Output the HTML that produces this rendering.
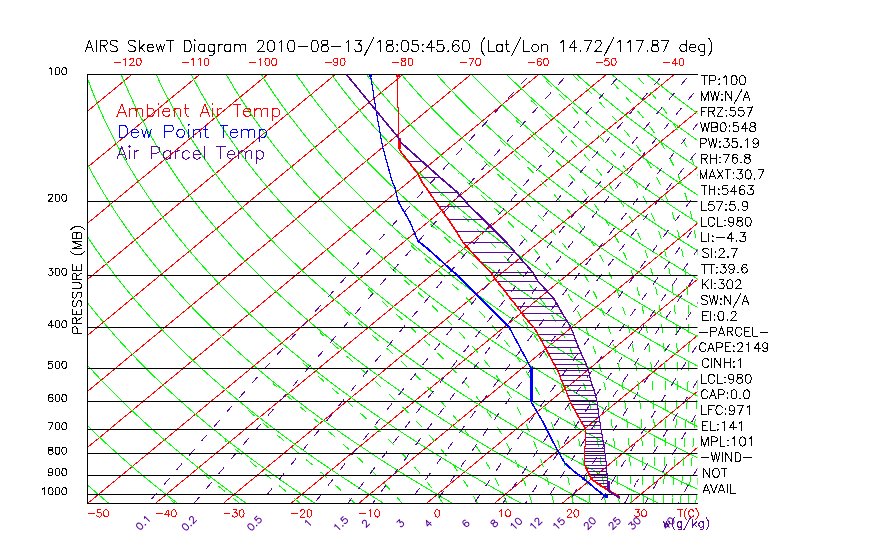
<!DOCTYPE html>
<html><head><meta charset="utf-8"><title>AIRS SkewT Diagram</title>
<style>
html,body{margin:0;padding:0;background:#fff;font-family:"Liberation Sans",sans-serif;}
svg{display:block}
.t{fill:none;stroke-linecap:round;stroke-linejoin:round}
.r{font-family:"Liberation Sans",sans-serif;fill:none;stroke:none}
</style></head><body>
<svg width="870" height="560" viewBox="0 0 870 560" fill="none" stroke-linecap="butt" stroke-linejoin="round">
<rect width="870" height="560" fill="#fff"/>
<defs><clipPath id="c"><rect x="87" y="74" width="610.5" height="429.5"/></clipPath></defs>
<g clip-path="url(#c)" shape-rendering="crispEdges">
<polyline points="-454.7,503.5 64.2,74.5" stroke="#ff0000" stroke-width="1"/>
<polyline points="-386.9,503.5 131.9,74.5" stroke="#ff0000" stroke-width="1"/>
<polyline points="-319.2,503.5 199.7,74.5" stroke="#ff0000" stroke-width="1"/>
<polyline points="-251.4,503.5 267.5,74.5" stroke="#ff0000" stroke-width="1"/>
<polyline points="-183.6,503.5 335.3,74.5" stroke="#ff0000" stroke-width="1"/>
<polyline points="-115.8,503.5 403,74.5" stroke="#ff0000" stroke-width="1"/>
<polyline points="-48.1,503.5 470.8,74.5" stroke="#ff0000" stroke-width="1"/>
<polyline points="19.7,503.5 538.6,74.5" stroke="#ff0000" stroke-width="1"/>
<polyline points="87.5,503.5 606.4,74.5" stroke="#ff0000" stroke-width="1"/>
<polyline points="155.3,503.5 674.2,74.5" stroke="#ff0000" stroke-width="1"/>
<polyline points="223.1,503.5 741.9,74.5" stroke="#ff0000" stroke-width="1"/>
<polyline points="290.8,503.5 809.7,74.5" stroke="#ff0000" stroke-width="1"/>
<polyline points="358.6,503.5 877.5,74.5" stroke="#ff0000" stroke-width="1"/>
<polyline points="426.4,503.5 945.3,74.5" stroke="#ff0000" stroke-width="1"/>
<polyline points="494.2,503.5 1013,74.5" stroke="#ff0000" stroke-width="1"/>
<polyline points="561.9,503.5 1080.8,74.5" stroke="#ff0000" stroke-width="1"/>
<polyline points="629.7,503.5 1148.6,74.5" stroke="#ff0000" stroke-width="1"/>
<polyline points="697.5,503.5 1216.4,74.5" stroke="#ff0000" stroke-width="1"/>
<polyline points="-124.1,74.5 -124.1,77.5 -124,80.5 -123.9,83.5 -123.8,86.5 -123.6,89.5 -123.5,92.5 -123.3,95.5 -123.1,98.5 -122.9,101.5 -122.7,104.5 -122.4,107.5 -122.2,110.5 -121.9,113.5 -121.6,116.5 -121.3,119.5 -120.9,122.5 -120.6,125.5 -120.2,128.5 -119.8,131.5 -119.4,134.5 -119,137.5 -118.5,140.5 -118.1,143.5 -117.6,146.5 -117.1,149.5 -116.6,152.5 -116,155.5 -115.4,158.5 -114.9,161.5 -114.2,164.5 -113.6,167.5 -113,170.5 -112.3,173.5 -111.6,176.5 -110.9,179.5 -110.2,182.5 -109.4,185.5 -108.7,188.5 -107.9,191.5 -107.1,194.5 -106.2,197.5 -105.4,200.5 -104.5,203.5 -103.6,206.5 -102.7,209.5 -101.8,212.5 -100.8,215.5 -99.8,218.5 -98.8,221.5 -97.8,224.5 -96.8,227.5 -95.7,230.5 -94.6,233.5 -93.5,236.5 -92.4,239.5 -91.2,242.5 -90,245.5 -88.8,248.5 -87.6,251.5 -86.3,254.5 -85.1,257.5 -83.8,260.5 -82.5,263.5 -81.1,266.5 -79.7,269.5 -78.4,272.5 -76.9,275.5 -75.5,278.5 -74.1,281.5 -72.6,284.5 -71.1,287.5 -69.5,290.5 -68,293.5 -66.4,296.5 -64.8,299.5 -63.2,302.5 -61.5,305.5 -59.8,308.5 -58.1,311.5 -56.4,314.5 -54.6,317.5 -52.8,320.5 -51,323.5 -49.2,326.5 -47.3,329.5 -45.5,332.5 -43.6,335.5 -41.6,338.5 -39.7,341.5 -37.7,344.5 -35.6,347.5 -33.6,350.5 -31.5,353.5 -29.4,356.5 -27.3,359.5 -25.2,362.5 -23,365.5 -20.8,368.5 -18.6,371.5 -16.3,374.5 -14,377.5 -11.7,380.5 -9.3,383.5 -7,386.5 -4.6,389.5 -2.1,392.5 0.3,395.5 2.8,398.5 5.3,401.5 7.9,404.5 10.4,407.5 13,410.5 15.7,413.5 18.3,416.5 21,419.5 23.7,422.5 26.5,425.5 29.3,428.5 32.1,431.5 34.9,434.5 37.8,437.5 40.7,440.5 43.6,443.5 46.6,446.5 49.6,449.5 52.6,452.5 55.7,455.5 58.8,458.5 61.9,461.5 65.1,464.5 68.2,467.5 71.5,470.5 74.7,473.5 78,476.5 81.3,479.5 84.7,482.5 88,485.5 91.5,488.5 94.9,491.5 98.4,494.5 101.9,497.5 105.4,500.5 109,503.5" stroke="#00ff00" stroke-width="1"/>
<polyline points="-89.1,74.5 -88.9,77.5 -88.6,80.5 -88.3,83.5 -88.1,86.5 -87.7,89.5 -87.4,92.5 -87.1,95.5 -86.7,98.5 -86.3,101.5 -86,104.5 -85.5,107.5 -85.1,110.5 -84.6,113.5 -84.2,116.5 -83.7,119.5 -83.2,122.5 -82.6,125.5 -82.1,128.5 -81.5,131.5 -80.9,134.5 -80.3,137.5 -79.7,140.5 -79,143.5 -78.3,146.5 -77.7,149.5 -76.9,152.5 -76.2,155.5 -75.5,158.5 -74.7,161.5 -73.9,164.5 -73.1,167.5 -72.2,170.5 -71.4,173.5 -70.5,176.5 -69.6,179.5 -68.7,182.5 -67.7,185.5 -66.8,188.5 -65.8,191.5 -64.8,194.5 -63.7,197.5 -62.7,200.5 -61.6,203.5 -60.5,206.5 -59.4,209.5 -58.2,212.5 -57.1,215.5 -55.9,218.5 -54.7,221.5 -53.5,224.5 -52.2,227.5 -50.9,230.5 -49.6,233.5 -48.3,236.5 -46.9,239.5 -45.6,242.5 -44.2,245.5 -42.8,248.5 -41.3,251.5 -39.8,254.5 -38.4,257.5 -36.8,260.5 -35.3,263.5 -33.7,266.5 -32.1,269.5 -30.5,272.5 -28.9,275.5 -27.2,278.5 -25.5,281.5 -23.8,284.5 -22.1,287.5 -20.3,290.5 -18.5,293.5 -16.7,296.5 -14.9,299.5 -13,302.5 -11.1,305.5 -9.2,308.5 -7.3,311.5 -5.3,314.5 -3.3,317.5 -1.3,320.5 0.8,323.5 2.9,326.5 5,329.5 7.1,332.5 9.2,335.5 11.4,338.5 13.6,341.5 15.9,344.5 18.2,347.5 20.5,350.5 22.8,353.5 25.1,356.5 27.5,359.5 29.9,362.5 32.4,365.5 34.8,368.5 37.3,371.5 39.8,374.5 42.4,377.5 45,380.5 47.6,383.5 50.2,386.5 52.9,389.5 55.6,392.5 58.3,395.5 61.1,398.5 63.9,401.5 66.7,404.5 69.6,407.5 72.4,410.5 75.3,413.5 78.3,416.5 81.3,419.5 84.3,422.5 87.3,425.5 90.4,428.5 93.5,431.5 96.6,434.5 99.8,437.5 103,440.5 106.2,443.5 109.5,446.5 112.8,449.5 116.1,452.5 119.4,455.5 122.8,458.5 126.3,461.5 129.7,464.5 133.2,467.5 136.7,470.5 140.3,473.5 143.9,476.5 147.5,479.5 151.2,482.5 154.9,485.5 158.6,488.5 162.4,491.5 166.2,494.5 170,497.5 173.9,500.5 177.8,503.5" stroke="#00ff00" stroke-width="1"/>
<polyline points="-54,74.5 -53.6,77.5 -53.2,80.5 -52.8,83.5 -52.3,86.5 -51.9,89.5 -51.4,92.5 -50.9,95.5 -50.3,98.5 -49.8,101.5 -49.2,104.5 -48.6,107.5 -48,110.5 -47.4,113.5 -46.7,116.5 -46.1,119.5 -45.4,122.5 -44.7,125.5 -43.9,128.5 -43.2,131.5 -42.4,134.5 -41.6,137.5 -40.8,140.5 -40,143.5 -39.1,146.5 -38.2,149.5 -37.3,152.5 -36.4,155.5 -35.5,158.5 -34.5,161.5 -33.5,164.5 -32.5,167.5 -31.5,170.5 -30.4,173.5 -29.4,176.5 -28.3,179.5 -27.1,182.5 -26,185.5 -24.8,188.5 -23.7,191.5 -22.5,194.5 -21.2,197.5 -20,200.5 -18.7,203.5 -17.4,206.5 -16.1,209.5 -14.7,212.5 -13.4,215.5 -12,218.5 -10.5,221.5 -9.1,224.5 -7.6,227.5 -6.1,230.5 -4.6,233.5 -3.1,236.5 -1.5,239.5 0.1,242.5 1.7,245.5 3.3,248.5 5,251.5 6.6,254.5 8.4,257.5 10.1,260.5 11.9,263.5 13.6,266.5 15.5,269.5 17.3,272.5 19.2,275.5 21,278.5 23,281.5 24.9,284.5 26.9,287.5 28.9,290.5 30.9,293.5 32.9,296.5 35,299.5 37.1,302.5 39.2,305.5 41.4,308.5 43.6,311.5 45.8,314.5 48,317.5 50.3,320.5 52.6,323.5 54.9,326.5 57.3,329.5 59.6,332.5 62,335.5 64.5,338.5 66.9,341.5 69.4,344.5 72,347.5 74.5,350.5 77.1,353.5 79.7,356.5 82.3,359.5 85,362.5 87.7,365.5 90.4,368.5 93.2,371.5 96,374.5 98.8,377.5 101.6,380.5 104.5,383.5 107.4,386.5 110.4,389.5 113.3,392.5 116.3,395.5 119.4,398.5 122.4,401.5 125.5,404.5 128.7,407.5 131.8,410.5 135,413.5 138.3,416.5 141.5,419.5 144.8,422.5 148.1,425.5 151.5,428.5 154.9,431.5 158.3,434.5 161.7,437.5 165.2,440.5 168.8,443.5 172.3,446.5 175.9,449.5 179.5,452.5 183.2,455.5 186.9,458.5 190.6,461.5 194.4,464.5 198.2,467.5 202,470.5 205.9,473.5 209.8,476.5 213.7,479.5 217.7,482.5 221.7,485.5 225.7,488.5 229.8,491.5 233.9,494.5 238.1,497.5 242.3,500.5 246.5,503.5" stroke="#00ff00" stroke-width="1"/>
<polyline points="-19,74.5 -18.4,77.5 -17.9,80.5 -17.3,83.5 -16.6,86.5 -16,89.5 -15.3,92.5 -14.7,95.5 -14,98.5 -13.2,101.5 -12.5,104.5 -11.7,107.5 -10.9,110.5 -10.1,113.5 -9.3,116.5 -8.5,119.5 -7.6,122.5 -6.7,125.5 -5.8,128.5 -4.9,131.5 -3.9,134.5 -2.9,137.5 -1.9,140.5 -0.9,143.5 0.1,146.5 1.2,149.5 2.3,152.5 3.4,155.5 4.5,158.5 5.7,161.5 6.8,164.5 8,167.5 9.3,170.5 10.5,173.5 11.8,176.5 13.1,179.5 14.4,182.5 15.7,185.5 17.1,188.5 18.4,191.5 19.9,194.5 21.3,197.5 22.7,200.5 24.2,203.5 25.7,206.5 27.2,209.5 28.8,212.5 30.4,215.5 32,218.5 33.6,221.5 35.2,224.5 36.9,227.5 38.6,230.5 40.3,233.5 42.1,236.5 43.9,239.5 45.7,242.5 47.5,245.5 49.4,248.5 51.2,251.5 53.1,254.5 55.1,257.5 57,260.5 59,263.5 61,266.5 63.1,269.5 65.1,272.5 67.2,275.5 69.3,278.5 71.5,281.5 73.6,284.5 75.8,287.5 78.1,290.5 80.3,293.5 82.6,296.5 84.9,299.5 87.2,302.5 89.6,305.5 92,308.5 94.4,311.5 96.9,314.5 99.4,317.5 101.9,320.5 104.4,323.5 107,326.5 109.6,329.5 112.2,332.5 114.8,335.5 117.5,338.5 120.2,341.5 123,344.5 125.8,347.5 128.6,350.5 131.4,353.5 134.3,356.5 137.2,359.5 140.1,362.5 143,365.5 146,368.5 149.1,371.5 152.1,374.5 155.2,377.5 158.3,380.5 161.5,383.5 164.6,386.5 167.8,389.5 171.1,392.5 174.4,395.5 177.7,398.5 181,401.5 184.4,404.5 187.8,407.5 191.2,410.5 194.7,413.5 198.2,416.5 201.8,419.5 205.3,422.5 208.9,425.5 212.6,428.5 216.3,431.5 220,434.5 223.7,437.5 227.5,440.5 231.3,443.5 235.2,446.5 239.1,449.5 243,452.5 246.9,455.5 250.9,458.5 255,461.5 259,464.5 263.1,467.5 267.3,470.5 271.4,473.5 275.7,476.5 279.9,479.5 284.2,482.5 288.5,485.5 292.9,488.5 297.3,491.5 301.7,494.5 306.2,497.5 310.7,500.5 315.3,503.5" stroke="#00ff00" stroke-width="1"/>
<polyline points="16,74.5 16.8,77.5 17.5,80.5 18.3,83.5 19.1,86.5 19.9,89.5 20.7,92.5 21.6,95.5 22.4,98.5 23.3,101.5 24.2,104.5 25.2,107.5 26.1,110.5 27.1,113.5 28.1,116.5 29.1,119.5 30.2,122.5 31.3,125.5 32.4,128.5 33.5,131.5 34.6,134.5 35.8,137.5 36.9,140.5 38.1,143.5 39.4,146.5 40.6,149.5 41.9,152.5 43.2,155.5 44.5,158.5 45.8,161.5 47.2,164.5 48.6,167.5 50,170.5 51.4,173.5 52.9,176.5 54.4,179.5 55.9,182.5 57.4,185.5 59,188.5 60.6,191.5 62.2,194.5 63.8,197.5 65.5,200.5 67.1,203.5 68.8,206.5 70.6,209.5 72.3,212.5 74.1,215.5 75.9,218.5 77.7,221.5 79.6,224.5 81.5,227.5 83.4,230.5 85.3,233.5 87.3,236.5 89.3,239.5 91.3,242.5 93.3,245.5 95.4,248.5 97.5,251.5 99.6,254.5 101.8,257.5 104,260.5 106.2,263.5 108.4,266.5 110.7,269.5 112.9,272.5 115.3,275.5 117.6,278.5 120,281.5 122.4,284.5 124.8,287.5 127.3,290.5 129.7,293.5 132.3,296.5 134.8,299.5 137.4,302.5 140,305.5 142.6,308.5 145.3,311.5 148,314.5 150.7,317.5 153.4,320.5 156.2,323.5 159,326.5 161.9,329.5 164.7,332.5 167.6,335.5 170.6,338.5 173.5,341.5 176.5,344.5 179.6,347.5 182.6,350.5 185.7,353.5 188.8,356.5 192,359.5 195.2,362.5 198.4,365.5 201.6,368.5 204.9,371.5 208.2,374.5 211.6,377.5 215,380.5 218.4,383.5 221.8,386.5 225.3,389.5 228.8,392.5 232.4,395.5 236,398.5 239.6,401.5 243.2,404.5 246.9,407.5 250.6,410.5 254.4,413.5 258.2,416.5 262,419.5 265.9,422.5 269.8,425.5 273.7,428.5 277.7,431.5 281.7,434.5 285.7,437.5 289.8,440.5 293.9,443.5 298,446.5 302.2,449.5 306.4,452.5 310.7,455.5 315,458.5 319.3,461.5 323.7,464.5 328.1,467.5 332.5,470.5 337,473.5 341.5,476.5 346.1,479.5 350.7,482.5 355.3,485.5 360,488.5 364.7,491.5 369.5,494.5 374.3,497.5 379.1,500.5 384,503.5" stroke="#00ff00" stroke-width="1"/>
<polyline points="51.1,74.5 52,77.5 52.9,80.5 53.8,83.5 54.8,86.5 55.8,89.5 56.8,92.5 57.8,95.5 58.8,98.5 59.9,101.5 61,104.5 62.1,107.5 63.2,110.5 64.4,113.5 65.6,116.5 66.8,119.5 68,122.5 69.2,125.5 70.5,128.5 71.8,131.5 73.1,134.5 74.4,137.5 75.8,140.5 77.2,143.5 78.6,146.5 80,149.5 81.5,152.5 83,155.5 84.5,158.5 86,161.5 87.6,164.5 89.1,167.5 90.7,170.5 92.4,173.5 94,176.5 95.7,179.5 97.4,182.5 99.1,185.5 100.9,188.5 102.7,191.5 104.5,194.5 106.3,197.5 108.2,200.5 110,203.5 112,206.5 113.9,209.5 115.8,212.5 117.8,215.5 119.8,218.5 121.9,221.5 124,224.5 126,227.5 128.2,230.5 130.3,233.5 132.5,236.5 134.7,239.5 136.9,242.5 139.2,245.5 141.5,248.5 143.8,251.5 146.1,254.5 148.5,257.5 150.9,260.5 153.3,263.5 155.8,266.5 158.3,269.5 160.8,272.5 163.3,275.5 165.9,278.5 168.5,281.5 171.1,284.5 173.8,287.5 176.5,290.5 179.2,293.5 181.9,296.5 184.7,299.5 187.5,302.5 190.3,305.5 193.2,308.5 196.1,311.5 199,314.5 202,317.5 205,320.5 208,323.5 211.1,326.5 214.2,329.5 217.3,332.5 220.4,335.5 223.6,338.5 226.8,341.5 230.1,344.5 233.4,347.5 236.7,350.5 240,353.5 243.4,356.5 246.8,359.5 250.3,362.5 253.7,365.5 257.3,368.5 260.8,371.5 264.4,374.5 268,377.5 271.6,380.5 275.3,383.5 279,386.5 282.8,389.5 286.6,392.5 290.4,395.5 294.3,398.5 298.1,401.5 302.1,404.5 306,407.5 310,410.5 314.1,413.5 318.1,416.5 322.3,419.5 326.4,422.5 330.6,425.5 334.8,428.5 339,431.5 343.3,434.5 347.7,437.5 352,440.5 356.4,443.5 360.9,446.5 365.4,449.5 369.9,452.5 374.4,455.5 379,458.5 383.7,461.5 388.3,464.5 393.1,467.5 397.8,470.5 402.6,473.5 407.4,476.5 412.3,479.5 417.2,482.5 422.2,485.5 427.2,488.5 432.2,491.5 437.3,494.5 442.4,497.5 447.5,500.5 452.7,503.5" stroke="#00ff00" stroke-width="1"/>
<polyline points="86.1,74.5 87.2,77.5 88.3,80.5 89.4,83.5 90.5,86.5 91.6,89.5 92.8,92.5 94,95.5 95.2,98.5 96.5,101.5 97.7,104.5 99,107.5 100.3,110.5 101.6,113.5 103,116.5 104.4,119.5 105.8,122.5 107.2,125.5 108.6,128.5 110.1,131.5 111.6,134.5 113.1,137.5 114.7,140.5 116.2,143.5 117.8,146.5 119.5,149.5 121.1,152.5 122.8,155.5 124.5,158.5 126.2,161.5 127.9,164.5 129.7,167.5 131.5,170.5 133.3,173.5 135.2,176.5 137,179.5 138.9,182.5 140.9,185.5 142.8,188.5 144.8,191.5 146.8,194.5 148.8,197.5 150.9,200.5 153,203.5 155.1,206.5 157.2,209.5 159.4,212.5 161.6,215.5 163.8,218.5 166,221.5 168.3,224.5 170.6,227.5 172.9,230.5 175.3,233.5 177.7,236.5 180.1,239.5 182.5,242.5 185,245.5 187.5,248.5 190,251.5 192.6,254.5 195.2,257.5 197.8,260.5 200.5,263.5 203.1,266.5 205.9,269.5 208.6,272.5 211.4,275.5 214.2,278.5 217,281.5 219.8,284.5 222.7,287.5 225.6,290.5 228.6,293.5 231.6,296.5 234.6,299.5 237.6,302.5 240.7,305.5 243.8,308.5 247,311.5 250.1,314.5 253.3,317.5 256.6,320.5 259.8,323.5 263.1,326.5 266.5,329.5 269.8,332.5 273.2,335.5 276.7,338.5 280.1,341.5 283.6,344.5 287.2,347.5 290.7,350.5 294.3,353.5 298,356.5 301.6,359.5 305.4,362.5 309.1,365.5 312.9,368.5 316.7,371.5 320.5,374.5 324.4,377.5 328.3,380.5 332.3,383.5 336.2,386.5 340.3,389.5 344.3,392.5 348.4,395.5 352.5,398.5 356.7,401.5 360.9,404.5 365.2,407.5 369.4,410.5 373.8,413.5 378.1,416.5 382.5,419.5 386.9,422.5 391.4,425.5 395.9,428.5 400.4,431.5 405,434.5 409.6,437.5 414.3,440.5 419,443.5 423.7,446.5 428.5,449.5 433.3,452.5 438.2,455.5 443.1,458.5 448,461.5 453,464.5 458,467.5 463.1,470.5 468.2,473.5 473.3,476.5 478.5,479.5 483.7,482.5 489,485.5 494.3,488.5 499.7,491.5 505.1,494.5 510.5,497.5 516,500.5 521.5,503.5" stroke="#00ff00" stroke-width="1"/>
<polyline points="121.2,74.5 122.4,77.5 123.6,80.5 124.9,83.5 126.2,86.5 127.5,89.5 128.9,92.5 130.2,95.5 131.6,98.5 133,101.5 134.4,104.5 135.9,107.5 137.4,110.5 138.9,113.5 140.4,116.5 142,119.5 143.6,122.5 145.2,125.5 146.8,128.5 148.4,131.5 150.1,134.5 151.8,137.5 153.5,140.5 155.3,143.5 157.1,146.5 158.9,149.5 160.7,152.5 162.6,155.5 164.5,158.5 166.4,161.5 168.3,164.5 170.3,167.5 172.2,170.5 174.3,173.5 176.3,176.5 178.4,179.5 180.5,182.5 182.6,185.5 184.7,188.5 186.9,191.5 189.1,194.5 191.3,197.5 193.6,200.5 195.9,203.5 198.2,206.5 200.5,209.5 202.9,212.5 205.3,215.5 207.7,218.5 210.2,221.5 212.7,224.5 215.2,227.5 217.7,230.5 220.3,233.5 222.9,236.5 225.5,239.5 228.2,242.5 230.9,245.5 233.6,248.5 236.3,251.5 239.1,254.5 241.9,257.5 244.7,260.5 247.6,263.5 250.5,266.5 253.5,269.5 256.4,272.5 259.4,275.5 262.4,278.5 265.5,281.5 268.6,284.5 271.7,287.5 274.8,290.5 278,293.5 281.2,296.5 284.5,299.5 287.8,302.5 291.1,305.5 294.4,308.5 297.8,311.5 301.2,314.5 304.7,317.5 308.1,320.5 311.7,323.5 315.2,326.5 318.8,329.5 322.4,332.5 326,335.5 329.7,338.5 333.4,341.5 337.2,344.5 341,347.5 344.8,350.5 348.7,353.5 352.5,356.5 356.5,359.5 360.4,362.5 364.4,365.5 368.5,368.5 372.5,371.5 376.6,374.5 380.8,377.5 385,380.5 389.2,383.5 393.4,386.5 397.7,389.5 402.1,392.5 406.4,395.5 410.8,398.5 415.3,401.5 419.8,404.5 424.3,407.5 428.8,410.5 433.4,413.5 438.1,416.5 442.7,419.5 447.5,422.5 452.2,425.5 457,428.5 461.8,431.5 466.7,434.5 471.6,437.5 476.6,440.5 481.6,443.5 486.6,446.5 491.7,449.5 496.8,452.5 501.9,455.5 507.1,458.5 512.4,461.5 517.7,464.5 523,467.5 528.4,470.5 533.8,473.5 539.2,476.5 544.7,479.5 550.2,482.5 555.8,485.5 561.5,488.5 567.1,491.5 572.8,494.5 578.6,497.5 584.4,500.5 590.2,503.5" stroke="#00ff00" stroke-width="1"/>
<polyline points="156.2,74.5 157.6,77.5 159,80.5 160.4,83.5 161.9,86.5 163.4,89.5 164.9,92.5 166.4,95.5 168,98.5 169.6,101.5 171.2,104.5 172.8,107.5 174.5,110.5 176.1,113.5 177.9,116.5 179.6,119.5 181.3,122.5 183.1,125.5 184.9,128.5 186.8,131.5 188.6,134.5 190.5,137.5 192.4,140.5 194.4,143.5 196.3,146.5 198.3,149.5 200.3,152.5 202.4,155.5 204.4,158.5 206.5,161.5 208.7,164.5 210.8,167.5 213,170.5 215.2,173.5 217.4,176.5 219.7,179.5 222,182.5 224.3,185.5 226.6,188.5 229,191.5 231.4,194.5 233.8,197.5 236.3,200.5 238.8,203.5 241.3,206.5 243.8,209.5 246.4,212.5 249,215.5 251.7,218.5 254.3,221.5 257,224.5 259.7,227.5 262.5,230.5 265.3,233.5 268.1,236.5 270.9,239.5 273.8,242.5 276.7,245.5 279.6,248.5 282.6,251.5 285.6,254.5 288.6,257.5 291.7,260.5 294.8,263.5 297.9,266.5 301.1,269.5 304.2,272.5 307.5,275.5 310.7,278.5 314,281.5 317.3,284.5 320.7,287.5 324,290.5 327.5,293.5 330.9,296.5 334.4,299.5 337.9,302.5 341.5,305.5 345,308.5 348.7,311.5 352.3,314.5 356,317.5 359.7,320.5 363.5,323.5 367.3,326.5 371.1,329.5 374.9,332.5 378.8,335.5 382.8,338.5 386.7,341.5 390.7,344.5 394.8,347.5 398.9,350.5 403,353.5 407.1,356.5 411.3,359.5 415.5,362.5 419.8,365.5 424.1,368.5 428.4,371.5 432.8,374.5 437.2,377.5 441.6,380.5 446.1,383.5 450.6,386.5 455.2,389.5 459.8,392.5 464.4,395.5 469.1,398.5 473.8,401.5 478.6,404.5 483.4,407.5 488.2,410.5 493.1,413.5 498,416.5 503,419.5 508,422.5 513,425.5 518.1,428.5 523.2,431.5 528.4,434.5 533.6,437.5 538.8,440.5 544.1,443.5 549.5,446.5 554.8,449.5 560.2,452.5 565.7,455.5 571.2,458.5 576.7,461.5 582.3,464.5 587.9,467.5 593.6,470.5 599.3,473.5 605.1,476.5 610.9,479.5 616.8,482.5 622.7,485.5 628.6,488.5 634.6,491.5 640.6,494.5 646.7,497.5 652.8,500.5 659,503.5" stroke="#00ff00" stroke-width="1"/>
<polyline points="191.3,74.5 192.8,77.5 194.4,80.5 196,83.5 197.6,86.5 199.3,89.5 200.9,92.5 202.6,95.5 204.4,98.5 206.1,101.5 207.9,104.5 209.7,107.5 211.5,110.5 213.4,113.5 215.3,116.5 217.2,119.5 219.1,122.5 221.1,125.5 223.1,128.5 225.1,131.5 227.1,134.5 229.2,137.5 231.3,140.5 233.4,143.5 235.6,146.5 237.7,149.5 239.9,152.5 242.2,155.5 244.4,158.5 246.7,161.5 249,164.5 251.4,167.5 253.7,170.5 256.1,173.5 258.6,176.5 261,179.5 263.5,182.5 266,185.5 268.5,188.5 271.1,191.5 273.7,194.5 276.3,197.5 279,200.5 281.7,203.5 284.4,206.5 287.2,209.5 289.9,212.5 292.7,215.5 295.6,218.5 298.5,221.5 301.4,224.5 304.3,227.5 307.3,230.5 310.2,233.5 313.3,236.5 316.3,239.5 319.4,242.5 322.5,245.5 325.7,248.5 328.9,251.5 332.1,254.5 335.3,257.5 338.6,260.5 341.9,263.5 345.3,266.5 348.6,269.5 352.1,272.5 355.5,275.5 359,278.5 362.5,281.5 366,284.5 369.6,287.5 373.2,290.5 376.9,293.5 380.6,296.5 384.3,299.5 388,302.5 391.8,305.5 395.6,308.5 399.5,311.5 403.4,314.5 407.3,317.5 411.3,320.5 415.3,323.5 419.3,326.5 423.4,329.5 427.5,332.5 431.6,335.5 435.8,338.5 440,341.5 444.3,344.5 448.6,347.5 452.9,350.5 457.3,353.5 461.7,356.5 466.1,359.5 470.6,362.5 475.1,365.5 479.7,368.5 484.3,371.5 488.9,374.5 493.6,377.5 498.3,380.5 503.1,383.5 507.9,386.5 512.7,389.5 517.6,392.5 522.5,395.5 527.4,398.5 532.4,401.5 537.4,404.5 542.5,407.5 547.6,410.5 552.8,413.5 558,416.5 563.2,419.5 568.5,422.5 573.8,425.5 579.2,428.5 584.6,431.5 590.1,434.5 595.6,437.5 601.1,440.5 606.7,443.5 612.3,446.5 618,449.5 623.7,452.5 629.4,455.5 635.2,458.5 641.1,461.5 647,464.5 652.9,467.5 658.9,470.5 664.9,473.5 671,476.5 677.1,479.5 683.3,482.5 689.5,485.5 695.7,488.5 702,491.5 708.4,494.5 714.8,497.5 721.2,500.5 727.7,503.5" stroke="#00ff00" stroke-width="1"/>
<polyline points="226.3,74.5 228,77.5 229.8,80.5 231.5,83.5 233.3,86.5 235.1,89.5 237,92.5 238.9,95.5 240.8,98.5 242.7,101.5 244.6,104.5 246.6,107.5 248.6,110.5 250.7,113.5 252.7,116.5 254.8,119.5 256.9,122.5 259,125.5 261.2,128.5 263.4,131.5 265.6,134.5 267.9,137.5 270.2,140.5 272.5,143.5 274.8,146.5 277.2,149.5 279.5,152.5 282,155.5 284.4,158.5 286.9,161.5 289.4,164.5 291.9,167.5 294.5,170.5 297.1,173.5 299.7,176.5 302.3,179.5 305,182.5 307.7,185.5 310.5,188.5 313.2,191.5 316,194.5 318.9,197.5 321.7,200.5 324.6,203.5 327.5,206.5 330.5,209.5 333.5,212.5 336.5,215.5 339.5,218.5 342.6,221.5 345.7,224.5 348.9,227.5 352,230.5 355.2,233.5 358.5,236.5 361.7,239.5 365,242.5 368.4,245.5 371.7,248.5 375.1,251.5 378.6,254.5 382,257.5 385.5,260.5 389.1,263.5 392.6,266.5 396.2,269.5 399.9,272.5 403.6,275.5 407.3,278.5 411,281.5 414.8,284.5 418.6,287.5 422.4,290.5 426.3,293.5 430.2,296.5 434.2,299.5 438.2,302.5 442.2,305.5 446.2,308.5 450.3,311.5 454.5,314.5 458.6,317.5 462.9,320.5 467.1,323.5 471.4,326.5 475.7,329.5 480,332.5 484.4,335.5 488.9,338.5 493.3,341.5 497.8,344.5 502.4,347.5 507,350.5 511.6,353.5 516.3,356.5 521,359.5 525.7,362.5 530.5,365.5 535.3,368.5 540.2,371.5 545.1,374.5 550,377.5 555,380.5 560,383.5 565.1,386.5 570.2,389.5 575.3,392.5 580.5,395.5 585.7,398.5 591,401.5 596.3,404.5 601.6,407.5 607,410.5 612.5,413.5 618,416.5 623.5,419.5 629,422.5 634.7,425.5 640.3,428.5 646,431.5 651.7,434.5 657.5,437.5 663.4,440.5 669.2,443.5 675.2,446.5 681.1,449.5 687.1,452.5 693.2,455.5 699.3,458.5 705.4,461.5 711.6,464.5 717.9,467.5 724.2,470.5 730.5,473.5 736.9,476.5 743.3,479.5 749.8,482.5 756.3,485.5 762.9,488.5 769.5,491.5 776.2,494.5 782.9,497.5 789.6,500.5 796.5,503.5" stroke="#00ff00" stroke-width="1"/>
<polyline points="261.3,74.5 263.2,77.5 265.1,80.5 267.1,83.5 269,86.5 271,89.5 273,92.5 275.1,95.5 277.2,98.5 279.3,101.5 281.4,104.5 283.5,107.5 285.7,110.5 287.9,113.5 290.1,116.5 292.4,119.5 294.7,122.5 297,125.5 299.4,128.5 301.7,131.5 304.1,134.5 306.6,137.5 309,140.5 311.5,143.5 314,146.5 316.6,149.5 319.1,152.5 321.8,155.5 324.4,158.5 327,161.5 329.7,164.5 332.5,167.5 335.2,170.5 338,173.5 340.8,176.5 343.7,179.5 346.5,182.5 349.4,185.5 352.4,188.5 355.3,191.5 358.3,194.5 361.4,197.5 364.4,200.5 367.5,203.5 370.6,206.5 373.8,209.5 377,212.5 380.2,215.5 383.5,218.5 386.7,221.5 390.1,224.5 393.4,227.5 396.8,230.5 400.2,233.5 403.7,236.5 407.1,239.5 410.7,242.5 414.2,245.5 417.8,248.5 421.4,251.5 425.1,254.5 428.8,257.5 432.5,260.5 436.2,263.5 440,266.5 443.8,269.5 447.7,272.5 451.6,275.5 455.5,278.5 459.5,281.5 463.5,284.5 467.6,287.5 471.6,290.5 475.7,293.5 479.9,296.5 484.1,299.5 488.3,302.5 492.6,305.5 496.9,308.5 501.2,311.5 505.6,314.5 510,317.5 514.4,320.5 518.9,323.5 523.4,326.5 528,329.5 532.6,332.5 537.2,335.5 541.9,338.5 546.6,341.5 551.4,344.5 556.2,347.5 561,350.5 565.9,353.5 570.8,356.5 575.8,359.5 580.8,362.5 585.8,365.5 590.9,368.5 596,371.5 601.2,374.5 606.4,377.5 611.6,380.5 616.9,383.5 622.3,386.5 627.6,389.5 633,392.5 638.5,395.5 644,398.5 649.5,401.5 655.1,404.5 660.8,407.5 666.4,410.5 672.2,413.5 677.9,416.5 683.7,419.5 689.6,422.5 695.5,425.5 701.4,428.5 707.4,431.5 713.4,434.5 719.5,437.5 725.6,440.5 731.8,443.5 738,446.5 744.3,449.5 750.6,452.5 756.9,455.5 763.3,458.5 769.8,461.5 776.3,464.5 782.8,467.5 789.4,470.5 796.1,473.5 802.8,476.5 809.5,479.5 816.3,482.5 823.1,485.5 830,488.5 837,491.5 843.9,494.5 851,497.5 858.1,500.5 865.2,503.5" stroke="#00ff00" stroke-width="1"/>
<polyline points="296.4,74.5 298.4,77.5 300.5,80.5 302.6,83.5 304.7,86.5 306.9,89.5 309.1,92.5 311.3,95.5 313.5,98.5 315.8,101.5 318.1,104.5 320.4,107.5 322.8,110.5 325.2,113.5 327.6,116.5 330,119.5 332.5,122.5 335,125.5 337.5,128.5 340.1,131.5 342.6,134.5 345.3,137.5 347.9,140.5 350.6,143.5 353.3,146.5 356,149.5 358.8,152.5 361.5,155.5 364.4,158.5 367.2,161.5 370.1,164.5 373,167.5 376,170.5 378.9,173.5 381.9,176.5 385,179.5 388.1,182.5 391.2,185.5 394.3,188.5 397.5,191.5 400.6,194.5 403.9,197.5 407.1,200.5 410.4,203.5 413.8,206.5 417.1,209.5 420.5,212.5 423.9,215.5 427.4,218.5 430.9,221.5 434.4,224.5 438,227.5 441.6,230.5 445.2,233.5 448.9,236.5 452.6,239.5 456.3,242.5 460.1,245.5 463.9,248.5 467.7,251.5 471.6,254.5 475.5,257.5 479.4,260.5 483.4,263.5 487.4,266.5 491.4,269.5 495.5,272.5 499.7,275.5 503.8,278.5 508,281.5 512.2,284.5 516.5,287.5 520.8,290.5 525.2,293.5 529.6,296.5 534,299.5 538.4,302.5 542.9,305.5 547.5,308.5 552,311.5 556.6,314.5 561.3,317.5 566,320.5 570.7,323.5 575.5,326.5 580.3,329.5 585.1,332.5 590,335.5 595,338.5 599.9,341.5 604.9,344.5 610,347.5 615.1,350.5 620.2,353.5 625.4,356.5 630.6,359.5 635.9,362.5 641.2,365.5 646.5,368.5 651.9,371.5 657.3,374.5 662.8,377.5 668.3,380.5 673.9,383.5 679.5,386.5 685.1,389.5 690.8,392.5 696.5,395.5 702.3,398.5 708.1,401.5 714,404.5 719.9,407.5 725.8,410.5 731.8,413.5 737.9,416.5 744,419.5 750.1,422.5 756.3,425.5 762.5,428.5 768.8,431.5 775.1,434.5 781.5,437.5 787.9,440.5 794.4,443.5 800.9,446.5 807.4,449.5 814,452.5 820.7,455.5 827.4,458.5 834.2,461.5 841,464.5 847.8,467.5 854.7,470.5 861.7,473.5 868.7,476.5 875.7,479.5 882.8,482.5 890,485.5 897.2,488.5 904.4,491.5 911.7,494.5 919.1,497.5 926.5,500.5 933.9,503.5" stroke="#00ff00" stroke-width="1"/>
<polyline points="331.4,74.5 333.6,77.5 335.9,80.5 338.2,83.5 340.5,86.5 342.8,89.5 345.1,92.5 347.5,95.5 349.9,98.5 352.4,101.5 354.8,104.5 357.3,107.5 359.9,110.5 362.4,113.5 365,116.5 367.6,119.5 370.3,122.5 372.9,125.5 375.6,128.5 378.4,131.5 381.1,134.5 383.9,137.5 386.8,140.5 389.6,143.5 392.5,146.5 395.4,149.5 398.4,152.5 401.3,155.5 404.4,158.5 407.4,161.5 410.5,164.5 413.6,167.5 416.7,170.5 419.9,173.5 423.1,176.5 426.3,179.5 429.6,182.5 432.9,185.5 436.2,188.5 439.6,191.5 443,194.5 446.4,197.5 449.8,200.5 453.3,203.5 456.9,206.5 460.4,209.5 464,212.5 467.7,215.5 471.3,218.5 475,221.5 478.8,224.5 482.5,227.5 486.3,230.5 490.2,233.5 494.1,236.5 498,239.5 501.9,242.5 505.9,245.5 509.9,248.5 514,251.5 518,254.5 522.2,257.5 526.3,260.5 530.5,263.5 534.8,266.5 539,269.5 543.4,272.5 547.7,275.5 552.1,278.5 556.5,281.5 561,284.5 565.5,287.5 570,290.5 574.6,293.5 579.2,296.5 583.9,299.5 588.6,302.5 593.3,305.5 598.1,308.5 602.9,311.5 607.7,314.5 612.6,317.5 617.6,320.5 622.5,323.5 627.5,326.5 632.6,329.5 637.7,332.5 642.8,335.5 648,338.5 653.2,341.5 658.5,344.5 663.8,347.5 669.1,350.5 674.5,353.5 680,356.5 685.4,359.5 691,362.5 696.5,365.5 702.1,368.5 707.8,371.5 713.5,374.5 719.2,377.5 725,380.5 730.8,383.5 736.7,386.5 742.6,389.5 748.5,392.5 754.5,395.5 760.6,398.5 766.7,401.5 772.8,404.5 779,407.5 785.2,410.5 791.5,413.5 797.8,416.5 804.2,419.5 810.6,422.5 817.1,425.5 823.6,428.5 830.2,431.5 836.8,434.5 843.5,437.5 850.2,440.5 856.9,443.5 863.7,446.5 870.6,449.5 877.5,452.5 884.4,455.5 891.4,458.5 898.5,461.5 905.6,464.5 912.8,467.5 920,470.5 927.2,473.5 934.5,476.5 941.9,479.5 949.3,482.5 956.8,485.5 964.3,488.5 971.9,491.5 979.5,494.5 987.2,497.5 994.9,500.5 1002.7,503.5" stroke="#00ff00" stroke-width="1"/>
<polyline points="366.5,74.5 368.8,77.5 371.3,80.5 373.7,83.5 376.2,86.5 378.7,89.5 381.2,92.5 383.7,95.5 386.3,98.5 388.9,101.5 391.6,104.5 394.2,107.5 396.9,110.5 399.7,113.5 402.4,116.5 405.2,119.5 408.1,122.5 410.9,125.5 413.8,128.5 416.7,131.5 419.6,134.5 422.6,137.5 425.6,140.5 428.7,143.5 431.7,146.5 434.8,149.5 438,152.5 441.1,155.5 444.3,158.5 447.6,161.5 450.8,164.5 454.1,167.5 457.5,170.5 460.8,173.5 464.2,176.5 467.6,179.5 471.1,182.5 474.6,185.5 478.1,188.5 481.7,191.5 485.3,194.5 488.9,197.5 492.6,200.5 496.3,203.5 500,206.5 503.8,209.5 507.6,212.5 511.4,215.5 515.3,218.5 519.2,221.5 523.1,224.5 527.1,227.5 531.1,230.5 535.2,233.5 539.2,236.5 543.4,239.5 547.5,242.5 551.7,245.5 556,248.5 560.2,251.5 564.5,254.5 568.9,257.5 573.3,260.5 577.7,263.5 582.2,266.5 586.6,269.5 591.2,272.5 595.8,275.5 600.4,278.5 605,281.5 609.7,284.5 614.4,287.5 619.2,290.5 624,293.5 628.9,296.5 633.8,299.5 638.7,302.5 643.7,305.5 648.7,308.5 653.7,311.5 658.8,314.5 664,317.5 669.1,320.5 674.3,323.5 679.6,326.5 684.9,329.5 690.2,332.5 695.6,335.5 701.1,338.5 706.5,341.5 712,344.5 717.6,347.5 723.2,350.5 728.8,353.5 734.5,356.5 740.3,359.5 746,362.5 751.9,365.5 757.7,368.5 763.6,371.5 769.6,374.5 775.6,377.5 781.6,380.5 787.7,383.5 793.9,386.5 800,389.5 806.3,392.5 812.6,395.5 818.9,398.5 825.2,401.5 831.7,404.5 838.1,407.5 844.6,410.5 851.2,413.5 857.8,416.5 864.5,419.5 871.2,422.5 877.9,425.5 884.7,428.5 891.6,431.5 898.5,434.5 905.4,437.5 912.4,440.5 919.5,443.5 926.6,446.5 933.7,449.5 940.9,452.5 948.2,455.5 955.5,458.5 962.9,461.5 970.3,464.5 977.7,467.5 985.2,470.5 992.8,473.5 1000.4,476.5 1008.1,479.5 1015.8,482.5 1023.6,485.5 1031.4,488.5 1039.3,491.5 1047.3,494.5 1055.3,497.5 1063.3,500.5 1071.4,503.5" stroke="#00ff00" stroke-width="1"/>
<polyline points="401.5,74.5 404,77.5 406.6,80.5 409.2,83.5 411.9,86.5 414.5,89.5 417.2,92.5 420,95.5 422.7,98.5 425.5,101.5 428.3,104.5 431.2,107.5 434,110.5 436.9,113.5 439.9,116.5 442.8,119.5 445.8,122.5 448.9,125.5 451.9,128.5 455,131.5 458.2,134.5 461.3,137.5 464.5,140.5 467.7,143.5 471,146.5 474.3,149.5 477.6,152.5 480.9,155.5 484.3,158.5 487.7,161.5 491.2,164.5 494.7,167.5 498.2,170.5 501.8,173.5 505.3,176.5 509,179.5 512.6,182.5 516.3,185.5 520,188.5 523.8,191.5 527.6,194.5 531.4,197.5 535.3,200.5 539.2,203.5 543.1,206.5 547.1,209.5 551.1,212.5 555.1,215.5 559.2,218.5 563.3,221.5 567.5,224.5 571.7,227.5 575.9,230.5 580.1,233.5 584.4,236.5 588.8,239.5 593.2,242.5 597.6,245.5 602,248.5 606.5,251.5 611,254.5 615.6,257.5 620.2,260.5 624.8,263.5 629.5,266.5 634.2,269.5 639,272.5 643.8,275.5 648.7,278.5 653.5,281.5 658.5,284.5 663.4,287.5 668.4,290.5 673.5,293.5 678.5,296.5 683.7,299.5 688.8,302.5 694,305.5 699.3,308.5 704.6,311.5 709.9,314.5 715.3,317.5 720.7,320.5 726.2,323.5 731.7,326.5 737.2,329.5 742.8,332.5 748.4,335.5 754.1,338.5 759.8,341.5 765.6,344.5 771.4,347.5 777.3,350.5 783.2,353.5 789.1,356.5 795.1,359.5 801.1,362.5 807.2,365.5 813.3,368.5 819.5,371.5 825.7,374.5 832,377.5 838.3,380.5 844.7,383.5 851.1,386.5 857.5,389.5 864,392.5 870.6,395.5 877.2,398.5 883.8,401.5 890.5,404.5 897.2,407.5 904,410.5 910.9,413.5 917.8,416.5 924.7,419.5 931.7,422.5 938.7,425.5 945.8,428.5 953,431.5 960.2,434.5 967.4,437.5 974.7,440.5 982,443.5 989.4,446.5 996.9,449.5 1004.4,452.5 1011.9,455.5 1019.6,458.5 1027.2,461.5 1034.9,464.5 1042.7,467.5 1050.5,470.5 1058.4,473.5 1066.3,476.5 1074.3,479.5 1082.3,482.5 1090.4,485.5 1098.6,488.5 1106.8,491.5 1115.1,494.5 1123.4,497.5 1131.7,500.5 1140.2,503.5" stroke="#00ff00" stroke-width="1"/>
<polyline points="436.5,74.5 439.3,77.5 442,80.5 444.8,83.5 447.6,86.5 450.4,89.5 453.3,92.5 456.2,95.5 459.1,98.5 462.1,101.5 465,104.5 468.1,107.5 471.1,110.5 474.2,113.5 477.3,116.5 480.4,119.5 483.6,122.5 486.8,125.5 490.1,128.5 493.4,131.5 496.7,134.5 500,137.5 503.4,140.5 506.8,143.5 510.2,146.5 513.7,149.5 517.2,152.5 520.7,155.5 524.3,158.5 527.9,161.5 531.6,164.5 535.2,167.5 538.9,170.5 542.7,173.5 546.5,176.5 550.3,179.5 554.1,182.5 558,185.5 561.9,188.5 565.9,191.5 569.9,194.5 573.9,197.5 578,200.5 582.1,203.5 586.2,206.5 590.4,209.5 594.6,212.5 598.9,215.5 603.1,218.5 607.5,221.5 611.8,224.5 616.2,227.5 620.7,230.5 625.1,233.5 629.6,236.5 634.2,239.5 638.8,242.5 643.4,245.5 648.1,248.5 652.8,251.5 657.5,254.5 662.3,257.5 667.1,260.5 672,263.5 676.9,266.5 681.8,269.5 686.8,272.5 691.9,275.5 696.9,278.5 702,281.5 707.2,284.5 712.4,287.5 717.6,290.5 722.9,293.5 728.2,296.5 733.6,299.5 739,302.5 744.4,305.5 749.9,308.5 755.4,311.5 761,314.5 766.6,317.5 772.3,320.5 778,323.5 783.7,326.5 789.5,329.5 795.4,332.5 801.2,335.5 807.2,338.5 813.1,341.5 819.1,344.5 825.2,347.5 831.3,350.5 837.5,353.5 843.7,356.5 849.9,359.5 856.2,362.5 862.6,365.5 868.9,368.5 875.4,371.5 881.9,374.5 888.4,377.5 895,380.5 901.6,383.5 908.3,386.5 915,389.5 921.8,392.5 928.6,395.5 935.5,398.5 942.4,401.5 949.3,404.5 956.4,407.5 963.4,410.5 970.6,413.5 977.7,416.5 985,419.5 992.2,422.5 999.6,425.5 1006.9,428.5 1014.4,431.5 1021.8,434.5 1029.4,437.5 1037,440.5 1044.6,443.5 1052.3,446.5 1060,449.5 1067.8,452.5 1075.7,455.5 1083.6,458.5 1091.6,461.5 1099.6,464.5 1107.7,467.5 1115.8,470.5 1124,473.5 1132.2,476.5 1140.5,479.5 1148.9,482.5 1157.3,485.5 1165.7,488.5 1174.3,491.5 1182.8,494.5 1191.5,497.5 1200.2,500.5 1208.9,503.5" stroke="#00ff00" stroke-width="1"/>
<polyline points="471.6,74.5 474.5,77.5 477.4,80.5 480.3,83.5 483.3,86.5 486.3,89.5 489.3,92.5 492.4,95.5 495.5,98.5 498.6,101.5 501.8,104.5 505,107.5 508.2,110.5 511.4,113.5 514.7,116.5 518.1,119.5 521.4,122.5 524.8,125.5 528.2,128.5 531.7,131.5 535.2,134.5 538.7,137.5 542.2,140.5 545.8,143.5 549.5,146.5 553.1,149.5 556.8,152.5 560.5,155.5 564.3,158.5 568.1,161.5 571.9,164.5 575.8,167.5 579.7,170.5 583.6,173.5 587.6,176.5 591.6,179.5 595.7,182.5 599.7,185.5 603.9,188.5 608,191.5 612.2,194.5 616.4,197.5 620.7,200.5 625,203.5 629.3,206.5 633.7,209.5 638.1,212.5 642.6,215.5 647.1,218.5 651.6,221.5 656.2,224.5 660.8,227.5 665.4,230.5 670.1,233.5 674.8,236.5 679.6,239.5 684.4,242.5 689.2,245.5 694.1,248.5 699.1,251.5 704,254.5 709,257.5 714.1,260.5 719.2,263.5 724.3,266.5 729.4,269.5 734.7,272.5 739.9,275.5 745.2,278.5 750.5,281.5 755.9,284.5 761.3,287.5 766.8,290.5 772.3,293.5 777.9,296.5 783.5,299.5 789.1,302.5 794.8,305.5 800.5,308.5 806.3,311.5 812.1,314.5 817.9,317.5 823.8,320.5 829.8,323.5 835.8,326.5 841.8,329.5 847.9,332.5 854,335.5 860.2,338.5 866.4,341.5 872.7,344.5 879,347.5 885.4,350.5 891.8,353.5 898.2,356.5 904.7,359.5 911.3,362.5 917.9,365.5 924.6,368.5 931.2,371.5 938,374.5 944.8,377.5 951.6,380.5 958.5,383.5 965.5,386.5 972.5,389.5 979.5,392.5 986.6,395.5 993.7,398.5 1000.9,401.5 1008.2,404.5 1015.5,407.5 1022.8,410.5 1030.2,413.5 1037.7,416.5 1045.2,419.5 1052.8,422.5 1060.4,425.5 1068,428.5 1075.8,431.5 1083.5,434.5 1091.3,437.5 1099.2,440.5 1107.2,443.5 1115.2,446.5 1123.2,449.5 1131.3,452.5 1139.4,455.5 1147.7,458.5 1155.9,461.5 1164.2,464.5 1172.6,467.5 1181.1,470.5 1189.5,473.5 1198.1,476.5 1206.7,479.5 1215.4,482.5 1224.1,485.5 1232.9,488.5 1241.7,491.5 1250.6,494.5 1259.6,497.5 1268.6,500.5 1277.7,503.5" stroke="#00ff00" stroke-width="1"/>
<polyline points="506.6,74.5 509.7,77.5 512.7,80.5 515.9,83.5 519,86.5 522.2,89.5 525.4,92.5 528.6,95.5 531.9,98.5 535.2,101.5 538.5,104.5 541.9,107.5 545.3,110.5 548.7,113.5 552.2,116.5 555.7,119.5 559.2,122.5 562.8,125.5 566.4,128.5 570,131.5 573.7,134.5 577.4,137.5 581.1,140.5 584.9,143.5 588.7,146.5 592.5,149.5 596.4,152.5 600.3,155.5 604.3,158.5 608.3,161.5 612.3,164.5 616.3,167.5 620.4,170.5 624.6,173.5 628.7,176.5 632.9,179.5 637.2,182.5 641.5,185.5 645.8,188.5 650.1,191.5 654.5,194.5 658.9,197.5 663.4,200.5 667.9,203.5 672.4,206.5 677,209.5 681.7,212.5 686.3,215.5 691,218.5 695.7,221.5 700.5,224.5 705.3,227.5 710.2,230.5 715.1,233.5 720,236.5 725,239.5 730,242.5 735.1,245.5 740.2,248.5 745.3,251.5 750.5,254.5 755.7,257.5 761,260.5 766.3,263.5 771.7,266.5 777,269.5 782.5,272.5 788,275.5 793.5,278.5 799,281.5 804.7,284.5 810.3,287.5 816,290.5 821.7,293.5 827.5,296.5 833.4,299.5 839.2,302.5 845.1,305.5 851.1,308.5 857.1,311.5 863.2,314.5 869.3,317.5 875.4,320.5 881.6,323.5 887.8,326.5 894.1,329.5 900.5,332.5 906.8,335.5 913.3,338.5 919.7,341.5 926.2,344.5 932.8,347.5 939.4,350.5 946.1,353.5 952.8,356.5 959.6,359.5 966.4,362.5 973.2,365.5 980.2,368.5 987.1,371.5 994.1,374.5 1001.2,377.5 1008.3,380.5 1015.5,383.5 1022.7,386.5 1029.9,389.5 1037.3,392.5 1044.6,395.5 1052,398.5 1059.5,401.5 1067,404.5 1074.6,407.5 1082.2,410.5 1089.9,413.5 1097.7,416.5 1105.4,419.5 1113.3,422.5 1121.2,425.5 1129.1,428.5 1137.1,431.5 1145.2,434.5 1153.3,437.5 1161.5,440.5 1169.7,443.5 1178,446.5 1186.3,449.5 1194.7,452.5 1203.2,455.5 1211.7,458.5 1220.3,461.5 1228.9,464.5 1237.6,467.5 1246.3,470.5 1255.1,473.5 1264,476.5 1272.9,479.5 1281.9,482.5 1290.9,485.5 1300,488.5 1309.2,491.5 1318.4,494.5 1327.7,497.5 1337,500.5 1346.4,503.5" stroke="#00ff00" stroke-width="1"/>
<polyline points="541.7,74.5 544.9,77.5 548.1,80.5 551.4,83.5 554.7,86.5 558,89.5 561.4,92.5 564.8,95.5 568.3,98.5 571.7,101.5 575.2,104.5 578.8,107.5 582.3,110.5 586,113.5 589.6,116.5 593.3,119.5 597,122.5 600.7,125.5 604.5,128.5 608.3,131.5 612.2,134.5 616.1,137.5 620,140.5 623.9,143.5 627.9,146.5 632,149.5 636,152.5 640.1,155.5 644.3,158.5 648.4,161.5 652.6,164.5 656.9,167.5 661.2,170.5 665.5,173.5 669.9,176.5 674.3,179.5 678.7,182.5 683.2,185.5 687.7,188.5 692.2,191.5 696.8,194.5 701.4,197.5 706.1,200.5 710.8,203.5 715.6,206.5 720.3,209.5 725.2,212.5 730,215.5 734.9,218.5 739.9,221.5 744.9,224.5 749.9,227.5 755,230.5 760.1,233.5 765.2,236.5 770.4,239.5 775.6,242.5 780.9,245.5 786.2,248.5 791.6,251.5 797,254.5 802.4,257.5 807.9,260.5 813.5,263.5 819,266.5 824.6,269.5 830.3,272.5 836,275.5 841.8,278.5 847.6,281.5 853.4,284.5 859.3,287.5 865.2,290.5 871.2,293.5 877.2,296.5 883.2,299.5 889.4,302.5 895.5,305.5 901.7,308.5 908,311.5 914.3,314.5 920.6,317.5 927,320.5 933.4,323.5 939.9,326.5 946.4,329.5 953,332.5 959.6,335.5 966.3,338.5 973,341.5 979.8,344.5 986.6,347.5 993.5,350.5 1000.4,353.5 1007.4,356.5 1014.4,359.5 1021.5,362.5 1028.6,365.5 1035.8,368.5 1043,371.5 1050.3,374.5 1057.6,377.5 1065,380.5 1072.4,383.5 1079.9,386.5 1087.4,389.5 1095,392.5 1102.6,395.5 1110.3,398.5 1118.1,401.5 1125.9,404.5 1133.7,407.5 1141.6,410.5 1149.6,413.5 1157.6,416.5 1165.7,419.5 1173.8,422.5 1182,425.5 1190.2,428.5 1198.5,431.5 1206.9,434.5 1215.3,437.5 1223.8,440.5 1232.3,443.5 1240.9,446.5 1249.5,449.5 1258.2,452.5 1266.9,455.5 1275.8,458.5 1284.6,461.5 1293.6,464.5 1302.5,467.5 1311.6,470.5 1320.7,473.5 1329.9,476.5 1339.1,479.5 1348.4,482.5 1357.7,485.5 1367.2,488.5 1376.6,491.5 1386.2,494.5 1395.8,497.5 1405.4,500.5 1415.1,503.5" stroke="#00ff00" stroke-width="1"/>
<polyline points="576.7,74.5 580.1,77.5 583.5,80.5 586.9,83.5 590.4,86.5 593.9,89.5 597.5,92.5 601,95.5 604.6,98.5 608.3,101.5 612,104.5 615.7,107.5 619.4,110.5 623.2,113.5 627,116.5 630.9,119.5 634.8,122.5 638.7,125.5 642.7,128.5 646.6,131.5 650.7,134.5 654.7,137.5 658.8,140.5 663,143.5 667.2,146.5 671.4,149.5 675.6,152.5 679.9,155.5 684.2,158.5 688.6,161.5 693,164.5 697.4,167.5 701.9,170.5 706.4,173.5 711,176.5 715.6,179.5 720.2,182.5 724.9,185.5 729.6,188.5 734.3,191.5 739.1,194.5 744,197.5 748.8,200.5 753.7,203.5 758.7,206.5 763.7,209.5 768.7,212.5 773.8,215.5 778.9,218.5 784,221.5 789.2,224.5 794.5,227.5 799.7,230.5 805.1,233.5 810.4,236.5 815.8,239.5 821.3,242.5 826.8,245.5 832.3,248.5 837.9,251.5 843.5,254.5 849.2,257.5 854.9,260.5 860.6,263.5 866.4,266.5 872.2,269.5 878.1,272.5 884.1,275.5 890,278.5 896.1,281.5 902.1,284.5 908.2,287.5 914.4,290.5 920.6,293.5 926.8,296.5 933.1,299.5 939.5,302.5 945.9,305.5 952.3,308.5 958.8,311.5 965.3,314.5 971.9,317.5 978.5,320.5 985.2,323.5 992,326.5 998.7,329.5 1005.6,332.5 1012.4,335.5 1019.4,338.5 1026.3,341.5 1033.4,344.5 1040.4,347.5 1047.6,350.5 1054.7,353.5 1062,356.5 1069.2,359.5 1076.6,362.5 1083.9,365.5 1091.4,368.5 1098.9,371.5 1106.4,374.5 1114,377.5 1121.6,380.5 1129.3,383.5 1137.1,386.5 1144.9,389.5 1152.7,392.5 1160.7,395.5 1168.6,398.5 1176.6,401.5 1184.7,404.5 1192.9,407.5 1201,410.5 1209.3,413.5 1217.6,416.5 1225.9,419.5 1234.3,422.5 1242.8,425.5 1251.3,428.5 1259.9,431.5 1268.6,434.5 1277.3,437.5 1286,440.5 1294.8,443.5 1303.7,446.5 1312.7,449.5 1321.6,452.5 1330.7,455.5 1339.8,458.5 1349,461.5 1358.2,464.5 1367.5,467.5 1376.9,470.5 1386.3,473.5 1395.8,476.5 1405.3,479.5 1414.9,482.5 1424.6,485.5 1434.3,488.5 1444.1,491.5 1453.9,494.5 1463.9,497.5 1473.8,500.5 1483.9,503.5" stroke="#00ff00" stroke-width="1"/>
<polyline points="611.8,74.5 615.3,77.5 618.9,80.5 622.5,83.5 626.1,86.5 629.8,89.5 633.5,92.5 637.3,95.5 641,98.5 644.9,101.5 648.7,104.5 652.6,107.5 656.5,110.5 660.5,113.5 664.5,116.5 668.5,119.5 672.6,122.5 676.7,125.5 680.8,128.5 685,131.5 689.2,134.5 693.4,137.5 697.7,140.5 702,143.5 706.4,146.5 710.8,149.5 715.2,152.5 719.7,155.5 724.2,158.5 728.8,161.5 733.4,164.5 738,167.5 742.7,170.5 747.4,173.5 752.1,176.5 756.9,179.5 761.7,182.5 766.6,185.5 771.5,188.5 776.5,191.5 781.4,194.5 786.5,197.5 791.5,200.5 796.6,203.5 801.8,206.5 807,209.5 812.2,212.5 817.5,215.5 822.8,218.5 828.2,221.5 833.6,224.5 839,227.5 844.5,230.5 850,233.5 855.6,236.5 861.2,239.5 866.9,242.5 872.6,245.5 878.3,248.5 884.1,251.5 890,254.5 895.9,257.5 901.8,260.5 907.8,263.5 913.8,266.5 919.8,269.5 926,272.5 932.1,275.5 938.3,278.5 944.6,281.5 950.9,284.5 957.2,287.5 963.6,290.5 970,293.5 976.5,296.5 983,299.5 989.6,302.5 996.2,305.5 1002.9,308.5 1009.6,311.5 1016.4,314.5 1023.2,317.5 1030.1,320.5 1037,323.5 1044,326.5 1051,329.5 1058.1,332.5 1065.2,335.5 1072.4,338.5 1079.6,341.5 1086.9,344.5 1094.2,347.5 1101.6,350.5 1109,353.5 1116.5,356.5 1124.1,359.5 1131.6,362.5 1139.3,365.5 1147,368.5 1154.7,371.5 1162.5,374.5 1170.4,377.5 1178.3,380.5 1186.3,383.5 1194.3,386.5 1202.4,389.5 1210.5,392.5 1218.7,395.5 1226.9,398.5 1235.2,401.5 1243.6,404.5 1252,407.5 1260.4,410.5 1269,413.5 1277.5,416.5 1286.2,419.5 1294.9,422.5 1303.6,425.5 1312.4,428.5 1321.3,431.5 1330.3,434.5 1339.2,437.5 1348.3,440.5 1357.4,443.5 1366.6,446.5 1375.8,449.5 1385.1,452.5 1394.4,455.5 1403.9,458.5 1413.3,461.5 1422.9,464.5 1432.5,467.5 1442.1,470.5 1451.9,473.5 1461.7,476.5 1471.5,479.5 1481.4,482.5 1491.4,485.5 1501.4,488.5 1511.5,491.5 1521.7,494.5 1532,497.5 1542.3,500.5 1552.6,503.5" stroke="#00ff00" stroke-width="1"/>
<polyline points="646.8,74.5 650.5,77.5 654.2,80.5 658,83.5 661.8,86.5 665.7,89.5 669.6,92.5 673.5,95.5 677.4,98.5 681.4,101.5 685.4,104.5 689.5,107.5 693.6,110.5 697.7,113.5 701.9,116.5 706.1,119.5 710.3,122.5 714.6,125.5 718.9,128.5 723.3,131.5 727.7,134.5 732.1,137.5 736.6,140.5 741.1,143.5 745.6,146.5 750.2,149.5 754.8,152.5 759.5,155.5 764.2,158.5 769,161.5 773.7,164.5 778.6,167.5 783.4,170.5 788.3,173.5 793.3,176.5 798.2,179.5 803.3,182.5 808.3,185.5 813.4,188.5 818.6,191.5 823.7,194.5 829,197.5 834.2,200.5 839.6,203.5 844.9,206.5 850.3,209.5 855.7,212.5 861.2,215.5 866.7,218.5 872.3,221.5 877.9,224.5 883.6,227.5 889.3,230.5 895,233.5 900.8,236.5 906.6,239.5 912.5,242.5 918.4,245.5 924.4,248.5 930.4,251.5 936.5,254.5 942.6,257.5 948.7,260.5 954.9,263.5 961.2,266.5 967.4,269.5 973.8,272.5 980.2,275.5 986.6,278.5 993.1,281.5 999.6,284.5 1006.2,287.5 1012.8,290.5 1019.5,293.5 1026.2,296.5 1032.9,299.5 1039.8,302.5 1046.6,305.5 1053.5,308.5 1060.5,311.5 1067.5,314.5 1074.6,317.5 1081.7,320.5 1088.9,323.5 1096.1,326.5 1103.3,329.5 1110.7,332.5 1118,335.5 1125.5,338.5 1132.9,341.5 1140.5,344.5 1148,347.5 1155.7,350.5 1163.4,353.5 1171.1,356.5 1178.9,359.5 1186.7,362.5 1194.6,365.5 1202.6,368.5 1210.6,371.5 1218.7,374.5 1226.8,377.5 1235,380.5 1243.2,383.5 1251.5,386.5 1259.8,389.5 1268.2,392.5 1276.7,395.5 1285.2,398.5 1293.8,401.5 1302.4,404.5 1311.1,407.5 1319.8,410.5 1328.6,413.5 1337.5,416.5 1346.4,419.5 1355.4,422.5 1364.5,425.5 1373.6,428.5 1382.7,431.5 1391.9,434.5 1401.2,437.5 1410.6,440.5 1420,443.5 1429.4,446.5 1439,449.5 1448.5,452.5 1458.2,455.5 1467.9,458.5 1477.7,461.5 1487.5,464.5 1497.4,467.5 1507.4,470.5 1517.4,473.5 1527.5,476.5 1537.7,479.5 1547.9,482.5 1558.2,485.5 1568.6,488.5 1579,491.5 1589.5,494.5 1600.1,497.5 1610.7,500.5 1621.4,503.5" stroke="#00ff00" stroke-width="1"/>
<polyline points="175.1,503.5 171.4,500.5" stroke="#00ff00" stroke-width="1" stroke-dasharray="8.5 10.5"/>
<polyline points="239.7,503.5 236.1,500.5 232.4,497.5 228.7,494.5 225,491.5 221.3,488.5 217.7,485.5 214,482.5 210.3,479.5 206.7,476.5 203.1,473.5 199.4,470.5" stroke="#00ff00" stroke-width="1" stroke-dasharray="8.5 10.5"/>
<polyline points="300.3,503.5 296.8,500.5 293.3,497.5 289.7,494.5 286.2,491.5 282.6,488.5 279,485.5 275.4,482.5 271.8,479.5 268.2,476.5 264.6,473.5 261,470.5 257.4,467.5 253.7,464.5 250.1,461.5 246.5,458.5 242.9,455.5 239.3,452.5 235.7,449.5 232.1,446.5 228.5,443.5 225,440.5" stroke="#00ff00" stroke-width="1" stroke-dasharray="8.5 10.5"/>
<polyline points="354.9,503.5 351.8,500.5 348.6,497.5 345.5,494.5 342.2,491.5 339,488.5 335.7,485.5 332.4,482.5 329.1,479.5 325.7,476.5 322.3,473.5 318.9,470.5 315.4,467.5 311.9,464.5 308.4,461.5 304.9,458.5 301.4,455.5 297.9,452.5 294.3,449.5 290.8,446.5 287.2,443.5 283.7,440.5 280.1,437.5 276.5,434.5 273,431.5 269.4,428.5 265.8,425.5 262.3,422.5 258.7,419.5 255.2,416.5 251.7,413.5 248.2,410.5" stroke="#00ff00" stroke-width="1" stroke-dasharray="8.5 10.5"/>
<polyline points="402.4,503.5 399.8,500.5 397.2,497.5 394.5,494.5 391.8,491.5 389,488.5 386.2,485.5 383.3,482.5 380.4,479.5 377.4,476.5 374.4,473.5 371.4,470.5 368.3,467.5 365.2,464.5 362,461.5 358.8,458.5 355.6,455.5 352.3,452.5 349,449.5 345.7,446.5 342.4,443.5 339,440.5 335.6,437.5 332.2,434.5 328.7,431.5 325.3,428.5 321.8,425.5 318.3,422.5 314.8,419.5 311.3,416.5 307.8,413.5 304.3,410.5 300.8,407.5 297.3,404.5 293.7,401.5 290.2,398.5 286.7,395.5 283.2,392.5 279.8,389.5 276.3,386.5 272.8,383.5" stroke="#00ff00" stroke-width="1" stroke-dasharray="8.5 10.5"/>
<polyline points="443.1,503.5 441,500.5 438.8,497.5 436.6,494.5 434.4,491.5 432.1,488.5 429.8,485.5 427.4,482.5 425,479.5 422.6,476.5 420,473.5 417.5,470.5 414.9,467.5 412.2,464.5 409.5,461.5 406.8,458.5 404,455.5 401.2,452.5 398.3,449.5 395.4,446.5 392.4,443.5 389.4,440.5 386.3,437.5 383.2,434.5 380.1,431.5 376.9,428.5 373.8,425.5 370.5,422.5 367.3,419.5 364,416.5 360.7,413.5 357.3,410.5 354,407.5 350.6,404.5 347.2,401.5 343.8,398.5 340.3,395.5 336.9,392.5 333.5,389.5 330,386.5 326.5,383.5 323.1,380.5 319.6,377.5 316.1,374.5 312.7,371.5 309.2,368.5 305.8,365.5 302.3,362.5 298.9,359.5 295.5,356.5" stroke="#00ff00" stroke-width="1" stroke-dasharray="8.5 10.5"/>
<polyline points="477.5,503.5 475.9,500.5 474.2,497.5 472.5,494.5 470.7,491.5 468.9,488.5 467,485.5 465.1,482.5 463.2,479.5 461.2,476.5 459.2,473.5 457.1,470.5 455,467.5 452.8,464.5 450.6,461.5 448.4,458.5 446.1,455.5 443.7,452.5 441.3,449.5 438.9,446.5 436.4,443.5 433.9,440.5 431.3,437.5 428.6,434.5 426,431.5 423.2,428.5 420.4,425.5 417.6,422.5 414.8,419.5 411.8,416.5 408.9,413.5 405.9,410.5 402.9,407.5 399.8,404.5 396.7,401.5 393.5,398.5 390.4,395.5 387.2,392.5 383.9,389.5 380.7,386.5 377.4,383.5 374.1,380.5 370.7,377.5 367.4,374.5 364,371.5 360.6,368.5 357.2,365.5 353.8,362.5 350.4,359.5 347,356.5 343.6,353.5 340.2,350.5 336.8,347.5 333.4,344.5 330,341.5 326.6,338.5 323.2,335.5 319.8,332.5" stroke="#00ff00" stroke-width="1" stroke-dasharray="8.5 10.5"/>
<polyline points="506.9,503.5 505.6,500.5 504.3,497.5 502.9,494.5 501.5,491.5 500.1,488.5 498.7,485.5 497.2,482.5 495.7,479.5 494.1,476.5 492.5,473.5 490.9,470.5 489.2,467.5 487.5,464.5 485.8,461.5 484,458.5 482.1,455.5 480.3,452.5 478.3,449.5 476.4,446.5 474.4,443.5 472.3,440.5 470.2,437.5 468,434.5 465.8,431.5 463.6,428.5 461.3,425.5 458.9,422.5 456.5,419.5 454.1,416.5 451.6,413.5 449,410.5 446.4,407.5 443.8,404.5 441.1,401.5 438.4,398.5 435.6,395.5 432.8,392.5 429.9,389.5 427,386.5 424,383.5 421,380.5 418,377.5 414.9,374.5 411.8,371.5 408.7,368.5 405.5,365.5 402.3,362.5 399.1,359.5 395.9,356.5 392.6,353.5 389.3,350.5 386,347.5 382.7,344.5 379.3,341.5 376,338.5 372.6,335.5 369.2,332.5 365.9,329.5 362.5,326.5 359.1,323.5 355.8,320.5 352.4,317.5 349,314.5 345.7,311.5 342.4,308.5 339,305.5" stroke="#00ff00" stroke-width="1" stroke-dasharray="8.5 10.5"/>
<polyline points="532.1,503.5 531.1,500.5 530.1,497.5 529,494.5 528,491.5 526.9,488.5 525.8,485.5 524.6,482.5 523.4,479.5 522.2,476.5 521,473.5 519.8,470.5 518.5,467.5 517.1,464.5 515.8,461.5 514.4,458.5 512.9,455.5 511.5,452.5 510,449.5 508.4,446.5 506.8,443.5 505.2,440.5 503.5,437.5 501.8,434.5 500.1,431.5 498.3,428.5 496.4,425.5 494.5,422.5 492.6,419.5 490.6,416.5 488.6,413.5 486.5,410.5 484.4,407.5 482.2,404.5 480,401.5 477.7,398.5 475.4,395.5 473.1,392.5 470.6,389.5 468.2,386.5 465.6,383.5 463.1,380.5 460.5,377.5 457.8,374.5 455.1,371.5 452.3,368.5 449.5,365.5 446.7,362.5 443.8,359.5 440.9,356.5 437.9,353.5 434.9,350.5 431.8,347.5 428.8,344.5 425.6,341.5 422.5,338.5 419.3,335.5 416.1,332.5 412.9,329.5 409.7,326.5 406.4,323.5 403.1,320.5 399.9,317.5 396.6,314.5 393.2,311.5 389.9,308.5 386.6,305.5 383.3,302.5 379.9,299.5 376.6,296.5 373.3,293.5 370,290.5 366.7,287.5 363.4,284.5 360.1,281.5" stroke="#00ff00" stroke-width="1" stroke-dasharray="8.5 10.5"/>
<polyline points="554,503.5 553.2,500.5 552.4,497.5 551.6,494.5 550.8,491.5 550,488.5 549.2,485.5 548.3,482.5 547.4,479.5 546.5,476.5 545.5,473.5 544.6,470.5 543.6,467.5 542.6,464.5 541.5,461.5 540.4,458.5 539.3,455.5 538.2,452.5 537.1,449.5 535.9,446.5 534.6,443.5 533.4,440.5 532.1,437.5 530.8,434.5 529.4,431.5 528,428.5 526.6,425.5 525.1,422.5 523.6,419.5 522,416.5 520.4,413.5 518.8,410.5 517.1,407.5 515.4,404.5 513.6,401.5 511.8,398.5 509.9,395.5 508,392.5 506,389.5 504,386.5 502,383.5 499.8,380.5 497.7,377.5 495.5,374.5 493.2,371.5 490.9,368.5 488.6,365.5 486.1,362.5 483.7,359.5 481.2,356.5 478.6,353.5 476,350.5 473.3,347.5 470.6,344.5 467.9,341.5 465.1,338.5 462.3,335.5 459.4,332.5 456.5,329.5 453.5,326.5 450.5,323.5 447.5,320.5 444.4,317.5 441.3,314.5 438.2,311.5 435,308.5 431.9,305.5 428.7,302.5 425.5,299.5 422.2,296.5 419,293.5 415.7,290.5 412.4,287.5 409.2,284.5 405.9,281.5 402.6,278.5 399.3,275.5 396,272.5 392.7,269.5 389.5,266.5 386.2,263.5 382.9,260.5" stroke="#00ff00" stroke-width="1" stroke-dasharray="8.5 10.5"/>
<polyline points="573.2,503.5 572.6,500.5 572,497.5 571.4,494.5 570.8,491.5 570.2,488.5 569.6,485.5 568.9,482.5 568.3,479.5 567.6,476.5 566.9,473.5 566.1,470.5 565.4,467.5 564.6,464.5 563.9,461.5 563,458.5 562.2,455.5 561.4,452.5 560.5,449.5 559.6,446.5 558.6,443.5 557.7,440.5 556.7,437.5 555.7,434.5 554.7,431.5 553.6,428.5 552.5,425.5 551.3,422.5 550.2,419.5 549,416.5 547.7,413.5 546.5,410.5 545.2,407.5 543.8,404.5 542.4,401.5 541,398.5 539.6,395.5 538.1,392.5 536.5,389.5 534.9,386.5 533.3,383.5 531.6,380.5 529.9,377.5 528.1,374.5 526.3,371.5 524.5,368.5 522.5,365.5 520.6,362.5 518.6,359.5 516.5,356.5 514.4,353.5 512.2,350.5 510,347.5 507.8,344.5 505.5,341.5 503.1,338.5 500.7,335.5 498.2,332.5 495.7,329.5 493.1,326.5 490.5,323.5 487.8,320.5 485.1,317.5 482.4,314.5 479.6,311.5 476.7,308.5 473.8,305.5 470.9,302.5 468,299.5 465,296.5 461.9,293.5 458.9,290.5 455.8,287.5 452.7,284.5 449.5,281.5 446.4,278.5 443.2,275.5 440,272.5 436.8,269.5 433.6,266.5 430.3,263.5 427.1,260.5 423.9,257.5 420.6,254.5 417.4,251.5 414.1,248.5 410.9,245.5 407.6,242.5 404.4,239.5 401.2,236.5" stroke="#00ff00" stroke-width="1" stroke-dasharray="8.5 10.5"/>
<polyline points="590.2,503.5 589.8,500.5 589.4,497.5 588.9,494.5 588.5,491.5 588.1,488.5 587.6,485.5 587.1,482.5 586.6,479.5 586.1,476.5 585.6,473.5 585.1,470.5 584.5,467.5 584,464.5 583.4,461.5 582.8,458.5 582.2,455.5 581.6,452.5 580.9,449.5 580.2,446.5 579.6,443.5 578.8,440.5 578.1,437.5 577.4,434.5 576.6,431.5 575.8,428.5 575,425.5 574.1,422.5 573.2,419.5 572.3,416.5 571.4,413.5 570.4,410.5 569.4,407.5 568.4,404.5 567.4,401.5 566.3,398.5 565.2,395.5 564,392.5 562.8,389.5 561.6,386.5 560.3,383.5 559,380.5 557.7,377.5 556.3,374.5 554.9,371.5 553.4,368.5 551.9,365.5 550.4,362.5 548.8,359.5 547.2,356.5 545.5,353.5 543.7,350.5 542,347.5 540.1,344.5 538.3,341.5 536.3,338.5 534.4,335.5 532.3,332.5 530.3,329.5 528.1,326.5 525.9,323.5 523.7,320.5 521.4,317.5 519.1,314.5 516.7,311.5 514.2,308.5 511.8,305.5 509.2,302.5 506.6,299.5 504,296.5 501.3,293.5 498.6,290.5 495.8,287.5 493,284.5 490.1,281.5 487.2,278.5 484.3,275.5 481.3,272.5 478.3,269.5 475.3,266.5 472.2,263.5 469.1,260.5 466,257.5 462.9,254.5 459.8,251.5 456.6,248.5 453.4,245.5 450.2,242.5 447,239.5 443.8,236.5 440.6,233.5 437.4,230.5 434.2,227.5 431,224.5 427.8,221.5 424.6,218.5 421.4,215.5" stroke="#00ff00" stroke-width="1" stroke-dasharray="8.5 10.5"/>
<polyline points="605.4,503.5 605.1,500.5 604.8,497.5 604.6,494.5 604.3,491.5 603.9,488.5 603.6,485.5 603.3,482.5 603,479.5 602.6,476.5 602.3,473.5 601.9,470.5 601.5,467.5 601.1,464.5 600.7,461.5 600.3,458.5 599.8,455.5 599.4,452.5 598.9,449.5 598.5,446.5 598,443.5 597.4,440.5 596.9,437.5 596.4,434.5 595.8,431.5 595.2,428.5 594.6,425.5 594,422.5 593.4,419.5 592.7,416.5 592,413.5 591.3,410.5 590.6,407.5 589.8,404.5 589,401.5 588.2,398.5 587.4,395.5 586.5,392.5 585.6,389.5 584.7,386.5 583.7,383.5 582.8,380.5 581.7,377.5 580.7,374.5 579.6,371.5 578.5,368.5 577.3,365.5 576.2,362.5 574.9,359.5 573.7,356.5 572.4,353.5 571,350.5 569.6,347.5 568.2,344.5 566.7,341.5 565.2,338.5 563.6,335.5 562,332.5 560.4,329.5 558.6,326.5 556.9,323.5 555.1,320.5 553.2,317.5 551.3,314.5 549.4,311.5 547.4,308.5 545.3,305.5 543.2,302.5 541,299.5 538.8,296.5 536.5,293.5 534.2,290.5 531.8,287.5 529.4,284.5 526.9,281.5 524.4,278.5 521.8,275.5 519.2,272.5 516.5,269.5 513.8,266.5 511,263.5 508.2,260.5 505.4,257.5 502.5,254.5 499.6,251.5 496.6,248.5 493.6,245.5 490.6,242.5 487.6,239.5 484.5,236.5 481.4,233.5 478.3,230.5 475.2,227.5 472.1,224.5 468.9,221.5 465.8,218.5 462.6,215.5 459.4,212.5 456.2,209.5 453.1,206.5 449.9,203.5 446.7,200.5 443.6,197.5 440.4,194.5" stroke="#00ff00" stroke-width="1" stroke-dasharray="8.5 10.5"/>
<polyline points="619.1,503.5 619,500.5 618.8,497.5 618.6,494.5 618.4,491.5 618.2,488.5 618,485.5 617.8,482.5 617.6,479.5 617.4,476.5 617.1,473.5 616.9,470.5 616.7,467.5 616.4,464.5 616.1,461.5 615.9,458.5 615.6,455.5 615.3,452.5 615,449.5 614.6,446.5 614.3,443.5 613.9,440.5 613.6,437.5 613.2,434.5 612.8,431.5 612.4,428.5 612,425.5 611.6,422.5 611.1,419.5 610.6,416.5 610.2,413.5 609.6,410.5 609.1,407.5 608.6,404.5 608,401.5 607.4,398.5 606.8,395.5 606.2,392.5 605.6,389.5 604.9,386.5 604.2,383.5 603.5,380.5 602.7,377.5 601.9,374.5 601.1,371.5 600.3,368.5 599.4,365.5 598.6,362.5 597.6,359.5 596.7,356.5 595.7,353.5 594.7,350.5 593.6,347.5 592.5,344.5 591.4,341.5 590.2,338.5 589,335.5 587.8,332.5 586.5,329.5 585.2,326.5 583.8,323.5 582.4,320.5 580.9,317.5 579.4,314.5 577.8,311.5 576.2,308.5 574.6,305.5 572.9,302.5 571.1,299.5 569.3,296.5 567.5,293.5 565.6,290.5 563.6,287.5 561.6,284.5 559.6,281.5 557.5,278.5 555.3,275.5 553.1,272.5 550.8,269.5 548.5,266.5 546.1,263.5 543.7,260.5 541.2,257.5 538.7,254.5 536.1,251.5 533.4,248.5 530.8,245.5 528.1,242.5 525.3,239.5 522.5,236.5 519.7,233.5 516.8,230.5 513.9,227.5 510.9,224.5 508,221.5 505,218.5 501.9,215.5 498.9,212.5 495.8,209.5 492.7,206.5 489.6,203.5 486.5,200.5 483.4,197.5 480.3,194.5 477.1,191.5 474,188.5 470.8,185.5 467.7,182.5 464.6,179.5 461.4,176.5 458.3,173.5" stroke="#00ff00" stroke-width="1" stroke-dasharray="8.5 10.5"/>
<polyline points="631.6,503.5 631.5,500.5 631.4,497.5 631.4,494.5 631.3,491.5 631.2,488.5 631.1,485.5 630.9,482.5 630.8,479.5 630.7,476.5 630.6,473.5 630.5,470.5 630.3,467.5 630.2,464.5 630,461.5 629.9,458.5 629.7,455.5 629.5,452.5 629.3,449.5 629.1,446.5 628.9,443.5 628.7,440.5 628.5,437.5 628.3,434.5 628,431.5 627.7,428.5 627.5,425.5 627.2,422.5 626.9,419.5 626.6,416.5 626.3,413.5 625.9,410.5 625.6,407.5 625.2,404.5 624.8,401.5 624.4,398.5 624,395.5 623.6,392.5 623.1,389.5 622.7,386.5 622.2,383.5 621.7,380.5 621.2,377.5 620.6,374.5 620,371.5 619.4,368.5 618.8,365.5 618.2,362.5 617.5,359.5 616.8,356.5 616.1,353.5 615.3,350.5 614.5,347.5 613.7,344.5 612.9,341.5 612,338.5 611.1,335.5 610.2,332.5 609.2,329.5 608.2,326.5 607.2,323.5 606.1,320.5 605,317.5 603.8,314.5 602.6,311.5 601.4,308.5 600.1,305.5 598.8,302.5 597.4,299.5 596,296.5 594.5,293.5 593,290.5 591.5,287.5 589.9,284.5 588.2,281.5 586.5,278.5 584.8,275.5 583,272.5 581.1,269.5 579.2,266.5 577.2,263.5 575.2,260.5 573.1,257.5 571,254.5 568.8,251.5 566.6,248.5 564.3,245.5 562,242.5 559.6,239.5 557.1,236.5 554.6,233.5 552.1,230.5 549.5,227.5 546.9,224.5 544.2,221.5 541.4,218.5 538.7,215.5 535.9,212.5 533,209.5 530.2,206.5 527.2,203.5 524.3,200.5 521.3,197.5 518.3,194.5 515.3,191.5 512.3,188.5 509.2,185.5 506.2,182.5 503.1,179.5 500,176.5 496.9,173.5 493.8,170.5 490.7,167.5 487.6,164.5 484.5,161.5 481.4,158.5 478.3,155.5 475.2,152.5" stroke="#00ff00" stroke-width="1" stroke-dasharray="8.5 10.5"/>
<polyline points="643,503.5 643,500.5 643,497.5 643,494.5 643,491.5 642.9,488.5 642.9,485.5 642.9,482.5 642.9,479.5 642.8,476.5 642.8,473.5 642.8,470.5 642.7,467.5 642.7,464.5 642.6,461.5 642.5,458.5 642.5,455.5 642.4,452.5 642.3,449.5 642.2,446.5 642.1,443.5 642,440.5 641.9,437.5 641.8,434.5 641.7,431.5 641.5,428.5 641.4,425.5 641.2,422.5 641.1,419.5 640.9,416.5 640.7,413.5 640.5,410.5 640.3,407.5 640.1,404.5 639.9,401.5 639.6,398.5 639.4,395.5 639.1,392.5 638.8,389.5 638.5,386.5 638.2,383.5 637.9,380.5 637.5,377.5 637.1,374.5 636.8,371.5 636.3,368.5 635.9,365.5 635.5,362.5 635,359.5 634.5,356.5 634,353.5 633.5,350.5 633,347.5 632.4,344.5 631.8,341.5 631.2,338.5 630.5,335.5 629.8,332.5 629.1,329.5 628.4,326.5 627.6,323.5 626.8,320.5 626,317.5 625.1,314.5 624.2,311.5 623.3,308.5 622.3,305.5 621.3,302.5 620.3,299.5 619.2,296.5 618.1,293.5 617,290.5 615.8,287.5 614.5,284.5 613.2,281.5 611.9,278.5 610.5,275.5 609.1,272.5 607.6,269.5 606.1,266.5 604.5,263.5 602.9,260.5 601.2,257.5 599.5,254.5 597.7,251.5 595.9,248.5 594,245.5 592.1,242.5 590.1,239.5 588.1,236.5 586,233.5 583.8,230.5 581.6,227.5 579.4,224.5 577,221.5 574.7,218.5 572.3,215.5 569.8,212.5 567.3,209.5 564.7,206.5 562.1,203.5 559.4,200.5 556.7,197.5 554,194.5 551.2,191.5 548.4,188.5 545.5,185.5 542.6,182.5 539.7,179.5 536.8,176.5 533.8,173.5 530.8,170.5 527.8,167.5 524.8,164.5 521.7,161.5 518.7,158.5 515.6,155.5 512.6,152.5 509.5,149.5 506.4,146.5 503.3,143.5 500.3,140.5 497.2,137.5 494.1,134.5" stroke="#00ff00" stroke-width="1" stroke-dasharray="8.5 10.5"/>
<polyline points="653.5,503.5 653.6,500.5 653.6,497.5 653.7,494.5 653.7,491.5 653.8,488.5 653.8,485.5 653.8,482.5 653.9,479.5 653.9,476.5 654,473.5 654,470.5 654,467.5 654.1,464.5 654.1,461.5 654.1,458.5 654.1,455.5 654.1,452.5 654.1,449.5 654.1,446.5 654.1,443.5 654.1,440.5 654.1,437.5 654.1,434.5 654.1,431.5 654,428.5 654,425.5 654,422.5 653.9,419.5 653.8,416.5 653.8,413.5 653.7,410.5 653.6,407.5 653.5,404.5 653.4,401.5 653.3,398.5 653.1,395.5 653,392.5 652.9,389.5 652.7,386.5 652.5,383.5 652.3,380.5 652.1,377.5 651.9,374.5 651.7,371.5 651.4,368.5 651.2,365.5 650.9,362.5 650.6,359.5 650.3,356.5 650,353.5 649.6,350.5 649.3,347.5 648.9,344.5 648.5,341.5 648.1,338.5 647.6,335.5 647.2,332.5 646.7,329.5 646.2,326.5 645.6,323.5 645.1,320.5 644.5,317.5 643.9,314.5 643.2,311.5 642.6,308.5 641.9,305.5 641.1,302.5 640.4,299.5 639.6,296.5 638.7,293.5 637.9,290.5 637,287.5 636.1,284.5 635.1,281.5 634.1,278.5 633,275.5 631.9,272.5 630.8,269.5 629.6,266.5 628.4,263.5 627.2,260.5 625.9,257.5 624.5,254.5 623.1,251.5 621.7,248.5 620.2,245.5 618.6,242.5 617,239.5 615.4,236.5 613.7,233.5 611.9,230.5 610.1,227.5 608.3,224.5 606.3,221.5 604.4,218.5 602.3,215.5 600.3,212.5 598.1,209.5 595.9,206.5 593.7,203.5 591.4,200.5 589,197.5 586.6,194.5 584.2,191.5 581.7,188.5 579.1,185.5 576.5,182.5 573.9,179.5 571.2,176.5 568.5,173.5 565.7,170.5 562.9,167.5 560.1,164.5 557.2,161.5 554.3,158.5 551.4,155.5 548.4,152.5 545.5,149.5 542.5,146.5 539.5,143.5 536.4,140.5 533.4,137.5 530.4,134.5 527.3,131.5 524.3,128.5 521.2,125.5 518.2,122.5 515.2,119.5 512.1,116.5" stroke="#00ff00" stroke-width="1" stroke-dasharray="8.5 10.5"/>
<polyline points="663.2,503.5 663.3,500.5 663.4,497.5 663.5,494.5 663.6,491.5 663.7,488.5 663.8,485.5 663.9,482.5 664,479.5 664.1,476.5 664.2,473.5 664.3,470.5 664.4,467.5 664.5,464.5 664.6,461.5 664.7,458.5 664.8,455.5 664.9,452.5 665,449.5 665,446.5 665.1,443.5 665.2,440.5 665.3,437.5 665.3,434.5 665.4,431.5 665.4,428.5 665.5,425.5 665.5,422.5 665.6,419.5 665.6,416.5 665.6,413.5 665.6,410.5 665.6,407.5 665.6,404.5 665.6,401.5 665.6,398.5 665.6,395.5 665.6,392.5 665.5,389.5 665.5,386.5 665.4,383.5 665.4,380.5 665.3,377.5 665.2,374.5 665.1,371.5 665,368.5 664.9,365.5 664.8,362.5 664.6,359.5 664.4,356.5 664.3,353.5 664.1,350.5 663.9,347.5 663.7,344.5 663.4,341.5 663.2,338.5 662.9,335.5 662.6,332.5 662.3,329.5 662,326.5 661.6,323.5 661.3,320.5 660.9,317.5 660.5,314.5 660,311.5 659.6,308.5 659.1,305.5 658.6,302.5 658.1,299.5 657.5,296.5 656.9,293.5 656.3,290.5 655.7,287.5 655,284.5 654.3,281.5 653.6,278.5 652.8,275.5 652,272.5 651.2,269.5 650.3,266.5 649.4,263.5 648.4,260.5 647.5,257.5 646.4,254.5 645.4,251.5 644.3,248.5 643.1,245.5 641.9,242.5 640.7,239.5 639.4,236.5 638,233.5 636.7,230.5 635.2,227.5 633.7,224.5 632.2,221.5 630.6,218.5 629,215.5 627.3,212.5 625.5,209.5 623.7,206.5 621.9,203.5 620,200.5 618,197.5 616,194.5 613.9,191.5 611.8,188.5 609.6,185.5 607.3,182.5 605,179.5 602.7,176.5 600.3,173.5 597.8,170.5 595.3,167.5 592.8,164.5 590.2,161.5 587.6,158.5 584.9,155.5 582.2,152.5 579.4,149.5 576.6,146.5 573.8,143.5 570.9,140.5 568,137.5 565.1,134.5 562.2,131.5 559.3,128.5 556.3,125.5 553.3,122.5 550.3,119.5 547.3,116.5 544.3,113.5 541.3,110.5 538.3,107.5 535.2,104.5 532.2,101.5 529.2,98.5" stroke="#00ff00" stroke-width="1" stroke-dasharray="8.5 10.5"/>
<polyline points="672.2,503.5 672.3,500.5 672.5,497.5 672.6,494.5 672.8,491.5 672.9,488.5 673.1,485.5 673.3,482.5 673.4,479.5 673.6,476.5 673.7,473.5 673.9,470.5 674,467.5 674.2,464.5 674.3,461.5 674.5,458.5 674.6,455.5 674.8,452.5 674.9,449.5 675.1,446.5 675.2,443.5 675.4,440.5 675.5,437.5 675.6,434.5 675.8,431.5 675.9,428.5 676,425.5 676.1,422.5 676.2,419.5 676.4,416.5 676.5,413.5 676.6,410.5 676.7,407.5 676.7,404.5 676.8,401.5 676.9,398.5 677,395.5 677,392.5 677.1,389.5 677.2,386.5 677.2,383.5 677.2,380.5 677.3,377.5 677.3,374.5 677.3,371.5 677.3,368.5 677.3,365.5 677.3,362.5 677.2,359.5 677.2,356.5 677.2,353.5 677.1,350.5 677,347.5 676.9,344.5 676.8,341.5 676.7,338.5 676.6,335.5 676.5,332.5 676.3,329.5 676.1,326.5 675.9,323.5 675.7,320.5 675.5,317.5 675.3,314.5 675,311.5 674.7,308.5 674.5,305.5 674.1,302.5 673.8,299.5 673.4,296.5 673.1,293.5 672.7,290.5 672.2,287.5 671.8,284.5 671.3,281.5 670.8,278.5 670.3,275.5 669.7,272.5 669.1,269.5 668.5,266.5 667.8,263.5 667.2,260.5 666.4,257.5 665.7,254.5 664.9,251.5 664.1,248.5 663.2,245.5 662.3,242.5 661.4,239.5 660.4,236.5 659.4,233.5 658.4,230.5 657.3,227.5 656.1,224.5 654.9,221.5 653.7,218.5 652.4,215.5 651.1,212.5 649.7,209.5 648.3,206.5 646.8,203.5 645.3,200.5 643.7,197.5 642,194.5 640.4,191.5 638.6,188.5 636.8,185.5 634.9,182.5 633,179.5 631.1,176.5 629,173.5 626.9,170.5 624.8,167.5 622.6,164.5 620.4,161.5 618,158.5 615.7,155.5 613.3,152.5 610.8,149.5 608.3,146.5 605.8,143.5 603.2,140.5 600.5,137.5 597.9,134.5 595.1,131.5 592.4,128.5 589.6,125.5 586.8,122.5 583.9,119.5 581,116.5 578.1,113.5 575.2,110.5 572.3,107.5 569.3,104.5 566.4,101.5 563.4,98.5 560.4,95.5 557.4,92.5 554.4,89.5 551.5,86.5 548.5,83.5 545.5,80.5" stroke="#00ff00" stroke-width="1" stroke-dasharray="8.5 10.5"/>
<polyline points="680.5,503.5 680.7,500.5 680.9,497.5 681.1,494.5 681.3,491.5 681.5,488.5 681.7,485.5 681.9,482.5 682.1,479.5 682.3,476.5 682.5,473.5 682.7,470.5 682.9,467.5 683.2,464.5 683.4,461.5 683.6,458.5 683.8,455.5 684,452.5 684.2,449.5 684.4,446.5 684.6,443.5 684.8,440.5 685,437.5 685.1,434.5 685.3,431.5 685.5,428.5 685.7,425.5 685.9,422.5 686.1,419.5 686.3,416.5 686.4,413.5 686.6,410.5 686.8,407.5 686.9,404.5 687.1,401.5 687.2,398.5 687.4,395.5 687.5,392.5 687.7,389.5 687.8,386.5 687.9,383.5 688.1,380.5 688.2,377.5 688.3,374.5 688.4,371.5 688.5,368.5 688.6,365.5 688.7,362.5 688.7,359.5 688.8,356.5 688.9,353.5 688.9,350.5 688.9,347.5 689,344.5 689,341.5 689,338.5 689,335.5 689,332.5 688.9,329.5 688.9,326.5 688.9,323.5 688.8,320.5 688.7,317.5 688.6,314.5 688.5,311.5 688.4,308.5 688.2,305.5 688.1,302.5 687.9,299.5 687.7,296.5 687.5,293.5 687.3,290.5 687,287.5 686.7,284.5 686.4,281.5 686.1,278.5 685.8,275.5 685.4,272.5 685.1,269.5 684.6,266.5 684.2,263.5 683.8,260.5 683.3,257.5 682.8,254.5 682.2,251.5 681.6,248.5 681,245.5 680.4,242.5 679.7,239.5 679,236.5 678.3,233.5 677.5,230.5 676.7,227.5 675.9,224.5 675,221.5 674,218.5 673.1,215.5 672.1,212.5 671,209.5 669.9,206.5 668.8,203.5 667.6,200.5 666.3,197.5 665.1,194.5 663.7,191.5 662.3,188.5 660.9,185.5 659.4,182.5 657.9,179.5 656.3,176.5 654.6,173.5 652.9,170.5 651.1,167.5 649.3,164.5 647.4,161.5 645.5,158.5 643.5,155.5 641.5,152.5 639.4,149.5 637.2,146.5 635,143.5 632.7,140.5 630.4,137.5 628,134.5 625.6,131.5 623.1,128.5 620.6,125.5 618.1,122.5 615.5,119.5 612.8,116.5 610.1,113.5 607.4,110.5 604.6,107.5 601.8,104.5 599,101.5 596.2,98.5 593.3,95.5 590.4,92.5 587.5,89.5 584.6,86.5 581.6,83.5 578.7,80.5 575.7,77.5 572.8,74.5" stroke="#00ff00" stroke-width="1" stroke-dasharray="8.5 10.5"/>
<polyline points="688.4,503.5 688.6,500.5 688.8,497.5 689.1,494.5 689.3,491.5 689.5,488.5 689.8,485.5 690,482.5 690.3,479.5 690.5,476.5 690.8,473.5 691,470.5 691.2,467.5 691.5,464.5 691.7,461.5 692,458.5 692.2,455.5 692.5,452.5 692.7,449.5 693,446.5 693.2,443.5 693.5,440.5 693.7,437.5 694,434.5 694.2,431.5 694.5,428.5 694.7,425.5 694.9,422.5 695.2,419.5 695.4,416.5 695.6,413.5 695.9,410.5 696.1,407.5 696.3,404.5 696.6,401.5 696.8,398.5 697,395.5 697.2,392.5 697.4,389.5 697.6,386.5 697.8,383.5 698,380.5 698.2,377.5 698.4,374.5 698.6,371.5 698.8,368.5 698.9,365.5 699.1,362.5 699.3,359.5 699.4,356.5 699.6,353.5 699.7,350.5 699.8,347.5 700,344.5 700.1,341.5 700.2,338.5 700.3,335.5 700.4,332.5 700.4,329.5 700.5,326.5 700.6,323.5 700.6,320.5 700.6,317.5 700.7,314.5 700.7,311.5 700.7,308.5 700.7,305.5 700.6,302.5 700.6,299.5 700.6,296.5 700.5,293.5 700.4,290.5 700.3,287.5 700.2,284.5 700,281.5 699.9,278.5 699.7,275.5 699.5,272.5 699.3,269.5 699.1,266.5 698.8,263.5 698.6,260.5 698.3,257.5 697.9,254.5 697.6,251.5 697.2,248.5 696.8,245.5 696.4,242.5 696,239.5 695.5,236.5 695,233.5 694.5,230.5 693.9,227.5 693.3,224.5 692.7,221.5 692,218.5 691.3,215.5 690.6,212.5 689.8,209.5 689,206.5 688.1,203.5 687.3,200.5 686.3,197.5 685.4,194.5 684.3,191.5 683.3,188.5 682.2,185.5 681,182.5 679.8,179.5 678.6,176.5 677.3,173.5 675.9,170.5 674.5,167.5 673,164.5 671.5,161.5 670,158.5 668.3,155.5 666.7,152.5 664.9,149.5 663.2,146.5 661.3,143.5 659.4,140.5 657.4,137.5 655.4,134.5 653.4,131.5 651.2,128.5 649,125.5 646.8,122.5 644.5,119.5 642.2,116.5 639.8,113.5 637.3,110.5 634.8,107.5 632.3,104.5 629.7,101.5 627.1,98.5 624.4,95.5 621.7,92.5 619,89.5 616.2,86.5 613.4,83.5 610.6,80.5 607.7,77.5 604.9,74.5" stroke="#00ff00" stroke-width="1" stroke-dasharray="8.5 10.5"/>
<polyline points="695.7,503.5 696,500.5 696.3,497.5 696.5,494.5 696.8,491.5 697.1,488.5 697.3,485.5 697.6,482.5 697.9,479.5 698.2,476.5 698.4,473.5 698.7,470.5 699,467.5 699.3,464.5 699.6,461.5 699.9,458.5 700.1,455.5 700.4,452.5 700.7,449.5 701,446.5 701.3,443.5 701.6,440.5 701.9,437.5 702.2,434.5 702.5,431.5 702.8,428.5 703,425.5 703.3,422.5 703.6,419.5 703.9,416.5 704.2,413.5 704.5,410.5 704.8,407.5 705,404.5 705.3,401.5 705.6,398.5 705.9,395.5 706.2,392.5 706.4,389.5 706.7,386.5 707,383.5 707.2,380.5 707.5,377.5 707.7,374.5 708,371.5 708.2,368.5 708.5,365.5 708.7,362.5 708.9,359.5 709.2,356.5 709.4,353.5 709.6,350.5 709.8,347.5 710,344.5 710.2,341.5 710.4,338.5 710.6,335.5 710.8,332.5 710.9,329.5 711.1,326.5 711.3,323.5 711.4,320.5 711.5,317.5 711.7,314.5 711.8,311.5 711.9,308.5 712,305.5 712.1,302.5 712.2,299.5 712.2,296.5 712.3,293.5 712.3,290.5 712.3,287.5 712.3,284.5 712.3,281.5 712.3,278.5 712.3,275.5 712.2,272.5 712.2,269.5 712.1,266.5 712,263.5 711.9,260.5 711.7,257.5 711.6,254.5 711.4,251.5 711.2,248.5 711,245.5 710.8,242.5 710.5,239.5 710.2,236.5 709.9,233.5 709.6,230.5 709.2,227.5 708.8,224.5 708.4,221.5 708,218.5 707.5,215.5 707,212.5 706.5,209.5 705.9,206.5 705.3,203.5 704.7,200.5 704,197.5 703.3,194.5 702.6,191.5 701.8,188.5 701,185.5 700.1,182.5 699.2,179.5 698.3,176.5 697.3,173.5 696.3,170.5 695.2,167.5 694,164.5 692.9,161.5 691.6,158.5 690.4,155.5 689,152.5 687.7,149.5 686.2,146.5 684.7,143.5 683.2,140.5 681.6,137.5 680,134.5 678.2,131.5 676.5,128.5 674.7,125.5 672.8,122.5 670.8,119.5 668.8,116.5 666.8,113.5 664.7,110.5 662.5,107.5 660.3,104.5 658,101.5 655.7,98.5 653.3,95.5 650.9,92.5 648.4,89.5 645.9,86.5 643.3,83.5 640.7,80.5 638.1,77.5 635.4,74.5" stroke="#00ff00" stroke-width="1" stroke-dasharray="8.5 10.5"/>
<polyline points="530,74.5 527.2,77.5 524.5,80.5 521.7,83.5 518.9,86.5 516.2,89.5 513.4,92.5 510.7,95.5 507.9,98.5 505.1,101.5 502.4,104.5 499.6,107.5 496.9,110.5 494.1,113.5 491.4,116.5 488.6,119.5 485.9,122.5 483.1,125.5 480.4,128.5 477.6,131.5 474.9,134.5 472.1,137.5 469.4,140.5 466.7,143.5 463.9,146.5 461.2,149.5 458.4,152.5 455.7,155.5 453,158.5 450.2,161.5 447.5,164.5 444.8,167.5 442.1,170.5 439.3,173.5 436.6,176.5 433.9,179.5 431.1,182.5 428.4,185.5 425.7,188.5 423,191.5 420.3,194.5 417.5,197.5 414.8,200.5 412.1,203.5 409.4,206.5 406.7,209.5 404,212.5 401.3,215.5 398.6,218.5 395.9,221.5 393.2,224.5 390.4,227.5 387.7,230.5 385,233.5 382.3,236.5 379.6,239.5 376.9,242.5 374.3,245.5 371.6,248.5 368.9,251.5 366.2,254.5 363.5,257.5 360.8,260.5 358.1,263.5 355.4,266.5 352.7,269.5 350,272.5 347.4,275.5 344.7,278.5 342,281.5 339.3,284.5 336.6,287.5 334,290.5 331.3,293.5 328.6,296.5 326,299.5 323.3,302.5 320.6,305.5 317.9,308.5 315.3,311.5 312.6,314.5 310,317.5 307.3,320.5 304.6,323.5 302,326.5 299.3,329.5 296.7,332.5 294,335.5 291.4,338.5 288.7,341.5 286.1,344.5 283.4,347.5 280.8,350.5 278.1,353.5 275.5,356.5 272.8,359.5 270.2,362.5 267.5,365.5 264.9,368.5 262.3,371.5 259.6,374.5 257,377.5 254.4,380.5 251.7,383.5 249.1,386.5 246.5,389.5 243.9,392.5 241.2,395.5 238.6,398.5 236,401.5 233.4,404.5 230.7,407.5 228.1,410.5 225.5,413.5 222.9,416.5 220.3,419.5 217.7,422.5 215.1,425.5 212.5,428.5 209.9,431.5 207.2,434.5 204.6,437.5 202,440.5 199.4,443.5 196.8,446.5 194.2,449.5 191.7,452.5 189.1,455.5 186.5,458.5 183.9,461.5 181.3,464.5 178.7,467.5 176.1,470.5 173.5,473.5 170.9,476.5 168.4,479.5 165.8,482.5 163.2,485.5 160.6,488.5 158.1,491.5 155.5,494.5 152.9,497.5 150.3,500.5 147.8,503.5" stroke="#58089c" stroke-width="1" stroke-dasharray="8.55 10.6" stroke-dashoffset="14.1"/>
<polyline points="567.4,74.5 564.6,77.5 561.9,80.5 559.2,83.5 556.5,86.5 553.8,89.5 551.1,92.5 548.4,95.5 545.7,98.5 543,101.5 540.3,104.5 537.6,107.5 534.9,110.5 532.2,113.5 529.5,116.5 526.8,119.5 524.1,122.5 521.4,125.5 518.7,128.5 516,131.5 513.3,134.5 510.6,137.5 507.9,140.5 505.3,143.5 502.6,146.5 499.9,149.5 497.2,152.5 494.5,155.5 491.8,158.5 489.2,161.5 486.5,164.5 483.8,167.5 481.2,170.5 478.5,173.5 475.8,176.5 473.1,179.5 470.5,182.5 467.8,185.5 465.1,188.5 462.5,191.5 459.8,194.5 457.2,197.5 454.5,200.5 451.8,203.5 449.2,206.5 446.5,209.5 443.9,212.5 441.2,215.5 438.6,218.5 435.9,221.5 433.3,224.5 430.6,227.5 428,230.5 425.4,233.5 422.7,236.5 420.1,239.5 417.4,242.5 414.8,245.5 412.2,248.5 409.5,251.5 406.9,254.5 404.3,257.5 401.6,260.5 399,263.5 396.4,266.5 393.8,269.5 391.1,272.5 388.5,275.5 385.9,278.5 383.3,281.5 380.7,284.5 378,287.5 375.4,290.5 372.8,293.5 370.2,296.5 367.6,299.5 365,302.5 362.4,305.5 359.8,308.5 357.2,311.5 354.6,314.5 352,317.5 349.4,320.5 346.8,323.5 344.2,326.5 341.6,329.5 339,332.5 336.4,335.5 333.8,338.5 331.2,341.5 328.7,344.5 326.1,347.5 323.5,350.5 320.9,353.5 318.3,356.5 315.7,359.5 313.2,362.5 310.6,365.5 308,368.5 305.5,371.5 302.9,374.5 300.3,377.5 297.7,380.5 295.2,383.5 292.6,386.5 290.1,389.5 287.5,392.5 284.9,395.5 282.4,398.5 279.8,401.5 277.3,404.5 274.7,407.5 272.2,410.5 269.6,413.5 267.1,416.5 264.5,419.5 262,422.5 259.5,425.5 256.9,428.5 254.4,431.5 251.8,434.5 249.3,437.5 246.8,440.5 244.2,443.5 241.7,446.5 239.2,449.5 236.7,452.5 234.1,455.5 231.6,458.5 229.1,461.5 226.6,464.5 224.1,467.5 221.5,470.5 219,473.5 216.5,476.5 214,479.5 211.5,482.5 209,485.5 206.5,488.5 204,491.5 201.5,494.5 199,497.5 196.5,500.5 194,503.5" stroke="#58089c" stroke-width="1" stroke-dasharray="8.55 10.6" stroke-dashoffset="14.1"/>
<polyline points="620.3,74.5 617.7,77.5 615,80.5 612.4,83.5 609.8,86.5 607.1,89.5 604.5,92.5 601.9,95.5 599.3,98.5 596.6,101.5 594,104.5 591.4,107.5 588.8,110.5 586.2,113.5 583.5,116.5 580.9,119.5 578.3,122.5 575.7,125.5 573.1,128.5 570.5,131.5 567.9,134.5 565.3,137.5 562.7,140.5 560.1,143.5 557.4,146.5 554.8,149.5 552.2,152.5 549.7,155.5 547.1,158.5 544.5,161.5 541.9,164.5 539.3,167.5 536.7,170.5 534.1,173.5 531.5,176.5 528.9,179.5 526.3,182.5 523.8,185.5 521.2,188.5 518.6,191.5 516,194.5 513.5,197.5 510.9,200.5 508.3,203.5 505.7,206.5 503.2,209.5 500.6,212.5 498,215.5 495.5,218.5 492.9,221.5 490.4,224.5 487.8,227.5 485.2,230.5 482.7,233.5 480.1,236.5 477.6,239.5 475,242.5 472.5,245.5 469.9,248.5 467.4,251.5 464.8,254.5 462.3,257.5 459.8,260.5 457.2,263.5 454.7,266.5 452.2,269.5 449.6,272.5 447.1,275.5 444.6,278.5 442,281.5 439.5,284.5 437,287.5 434.5,290.5 431.9,293.5 429.4,296.5 426.9,299.5 424.4,302.5 421.9,305.5 419.4,308.5 416.9,311.5 414.3,314.5 411.8,317.5 409.3,320.5 406.8,323.5 404.3,326.5 401.8,329.5 399.3,332.5 396.8,335.5 394.3,338.5 391.8,341.5 389.4,344.5 386.9,347.5 384.4,350.5 381.9,353.5 379.4,356.5 376.9,359.5 374.5,362.5 372,365.5 369.5,368.5 367,371.5 364.6,374.5 362.1,377.5 359.6,380.5 357.1,383.5 354.7,386.5 352.2,389.5 349.8,392.5 347.3,395.5 344.8,398.5 342.4,401.5 339.9,404.5 337.5,407.5 335,410.5 332.6,413.5 330.1,416.5 327.7,419.5 325.3,422.5 322.8,425.5 320.4,428.5 317.9,431.5 315.5,434.5 313.1,437.5 310.6,440.5 308.2,443.5 305.8,446.5 303.4,449.5 301,452.5 298.5,455.5 296.1,458.5 293.7,461.5 291.3,464.5 288.9,467.5 286.5,470.5 284.1,473.5 281.6,476.5 279.2,479.5 276.8,482.5 274.4,485.5 272,488.5 269.6,491.5 267.3,494.5 264.9,497.5 262.5,500.5 260.1,503.5" stroke="#58089c" stroke-width="1" stroke-dasharray="8.55 10.6" stroke-dashoffset="14.1"/>
<polyline points="663.4,74.5 660.8,77.5 658.2,80.5 655.7,83.5 653.1,86.5 650.5,89.5 648,92.5 645.4,95.5 642.9,98.5 640.3,101.5 637.7,104.5 635.2,107.5 632.6,110.5 630.1,113.5 627.5,116.5 625,119.5 622.4,122.5 619.9,125.5 617.3,128.5 614.8,131.5 612.3,134.5 609.7,137.5 607.2,140.5 604.7,143.5 602.1,146.5 599.6,149.5 597.1,152.5 594.5,155.5 592,158.5 589.5,161.5 587,164.5 584.4,167.5 581.9,170.5 579.4,173.5 576.9,176.5 574.4,179.5 571.9,182.5 569.4,185.5 566.8,188.5 564.3,191.5 561.8,194.5 559.3,197.5 556.8,200.5 554.3,203.5 551.8,206.5 549.3,209.5 546.8,212.5 544.4,215.5 541.9,218.5 539.4,221.5 536.9,224.5 534.4,227.5 531.9,230.5 529.4,233.5 527,236.5 524.5,239.5 522,242.5 519.5,245.5 517.1,248.5 514.6,251.5 512.1,254.5 509.7,257.5 507.2,260.5 504.7,263.5 502.3,266.5 499.8,269.5 497.4,272.5 494.9,275.5 492.4,278.5 490,281.5 487.5,284.5 485.1,287.5 482.7,290.5 480.2,293.5 477.8,296.5 475.3,299.5 472.9,302.5 470.5,305.5 468,308.5 465.6,311.5 463.2,314.5 460.7,317.5 458.3,320.5 455.9,323.5 453.5,326.5 451,329.5 448.6,332.5 446.2,335.5 443.8,338.5 441.4,341.5 439,344.5 436.6,347.5 434.2,350.5 431.8,353.5 429.4,356.5 427,359.5 424.6,362.5 422.2,365.5 419.8,368.5 417.4,371.5 415,374.5 412.6,377.5 410.2,380.5 407.8,383.5 405.5,386.5 403.1,389.5 400.7,392.5 398.3,395.5 396,398.5 393.6,401.5 391.2,404.5 388.8,407.5 386.5,410.5 384.1,413.5 381.8,416.5 379.4,419.5 377,422.5 374.7,425.5 372.3,428.5 370,431.5 367.6,434.5 365.3,437.5 363,440.5 360.6,443.5 358.3,446.5 355.9,449.5 353.6,452.5 351.3,455.5 349,458.5 346.6,461.5 344.3,464.5 342,467.5 339.7,470.5 337.3,473.5 335,476.5 332.7,479.5 330.4,482.5 328.1,485.5 325.8,488.5 323.5,491.5 321.2,494.5 318.9,497.5 316.6,500.5 314.3,503.5" stroke="#58089c" stroke-width="1" stroke-dasharray="8.55 10.6" stroke-dashoffset="14.1"/>
<polyline points="689.9,74.5 687.3,77.5 684.8,80.5 682.3,83.5 679.8,86.5 677.2,89.5 674.7,92.5 672.2,95.5 669.7,98.5 667.2,101.5 664.6,104.5 662.1,107.5 659.6,110.5 657.1,113.5 654.6,116.5 652.1,119.5 649.6,122.5 647.1,125.5 644.6,128.5 642.1,131.5 639.6,134.5 637.1,137.5 634.6,140.5 632.1,143.5 629.6,146.5 627.1,149.5 624.7,152.5 622.2,155.5 619.7,158.5 617.2,161.5 614.7,164.5 612.3,167.5 609.8,170.5 607.3,173.5 604.8,176.5 602.4,179.5 599.9,182.5 597.4,185.5 595,188.5 592.5,191.5 590.1,194.5 587.6,197.5 585.1,200.5 582.7,203.5 580.2,206.5 577.8,209.5 575.3,212.5 572.9,215.5 570.5,218.5 568,221.5 565.6,224.5 563.1,227.5 560.7,230.5 558.3,233.5 555.8,236.5 553.4,239.5 551,242.5 548.5,245.5 546.1,248.5 543.7,251.5 541.3,254.5 538.9,257.5 536.4,260.5 534,263.5 531.6,266.5 529.2,269.5 526.8,272.5 524.4,275.5 522,278.5 519.6,281.5 517.2,284.5 514.8,287.5 512.4,290.5 510,293.5 507.6,296.5 505.2,299.5 502.8,302.5 500.4,305.5 498.1,308.5 495.7,311.5 493.3,314.5 490.9,317.5 488.5,320.5 486.2,323.5 483.8,326.5 481.4,329.5 479.1,332.5 476.7,335.5 474.3,338.5 472,341.5 469.6,344.5 467.3,347.5 464.9,350.5 462.5,353.5 460.2,356.5 457.9,359.5 455.5,362.5 453.2,365.5 450.8,368.5 448.5,371.5 446.1,374.5 443.8,377.5 441.5,380.5 439.1,383.5 436.8,386.5 434.5,389.5 432.2,392.5 429.9,395.5 427.5,398.5 425.2,401.5 422.9,404.5 420.6,407.5 418.3,410.5 416,413.5 413.7,416.5 411.4,419.5 409.1,422.5 406.8,425.5 404.5,428.5 402.2,431.5 399.9,434.5 397.6,437.5 395.3,440.5 393,443.5 390.7,446.5 388.5,449.5 386.2,452.5 383.9,455.5 381.6,458.5 379.4,461.5 377.1,464.5 374.8,467.5 372.6,470.5 370.3,473.5 368.1,476.5 365.8,479.5 363.5,482.5 361.3,485.5 359,488.5 356.8,491.5 354.6,494.5 352.3,497.5 350.1,500.5 347.8,503.5" stroke="#58089c" stroke-width="1" stroke-dasharray="8.55 10.6" stroke-dashoffset="14.1"/>
<polyline points="709.3,74.5 706.8,77.5 704.3,80.5 701.8,83.5 699.3,86.5 696.8,89.5 694.3,92.5 691.8,95.5 689.3,98.5 686.9,101.5 684.4,104.5 681.9,107.5 679.4,110.5 676.9,113.5 674.5,116.5 672,119.5 669.5,122.5 667,125.5 664.6,128.5 662.1,131.5 659.6,134.5 657.2,137.5 654.7,140.5 652.3,143.5 649.8,146.5 647.4,149.5 644.9,152.5 642.4,155.5 640,158.5 637.6,161.5 635.1,164.5 632.7,167.5 630.2,170.5 627.8,173.5 625.3,176.5 622.9,179.5 620.5,182.5 618,185.5 615.6,188.5 613.2,191.5 610.8,194.5 608.3,197.5 605.9,200.5 603.5,203.5 601.1,206.5 598.7,209.5 596.2,212.5 593.8,215.5 591.4,218.5 589,221.5 586.6,224.5 584.2,227.5 581.8,230.5 579.4,233.5 577,236.5 574.6,239.5 572.2,242.5 569.8,245.5 567.4,248.5 565.1,251.5 562.7,254.5 560.3,257.5 557.9,260.5 555.5,263.5 553.2,266.5 550.8,269.5 548.4,272.5 546,275.5 543.7,278.5 541.3,281.5 538.9,284.5 536.6,287.5 534.2,290.5 531.9,293.5 529.5,296.5 527.2,299.5 524.8,302.5 522.5,305.5 520.1,308.5 517.8,311.5 515.4,314.5 513.1,317.5 510.7,320.5 508.4,323.5 506.1,326.5 503.7,329.5 501.4,332.5 499.1,335.5 496.8,338.5 494.4,341.5 492.1,344.5 489.8,347.5 487.5,350.5 485.2,353.5 482.9,356.5 480.5,359.5 478.2,362.5 475.9,365.5 473.6,368.5 471.3,371.5 469,374.5 466.7,377.5 464.5,380.5 462.2,383.5 459.9,386.5 457.6,389.5 455.3,392.5 453,395.5 450.7,398.5 448.5,401.5 446.2,404.5 443.9,407.5 441.7,410.5 439.4,413.5 437.1,416.5 434.9,419.5 432.6,422.5 430.3,425.5 428.1,428.5 425.8,431.5 423.6,434.5 421.3,437.5 419.1,440.5 416.9,443.5 414.6,446.5 412.4,449.5 410.1,452.5 407.9,455.5 405.7,458.5 403.4,461.5 401.2,464.5 399,467.5 396.8,470.5 394.6,473.5 392.3,476.5 390.1,479.5 387.9,482.5 385.7,485.5 383.5,488.5 381.3,491.5 379.1,494.5 376.9,497.5 374.7,500.5 372.5,503.5" stroke="#58089c" stroke-width="1" stroke-dasharray="8.55 10.6" stroke-dashoffset="14.1"/>
<polyline points="737.5,74.5 735.1,77.5 732.6,80.5 730.2,83.5 727.7,86.5 725.3,89.5 722.8,92.5 720.4,95.5 718,98.5 715.5,101.5 713.1,104.5 710.7,107.5 708.2,110.5 705.8,113.5 703.4,116.5 700.9,119.5 698.5,122.5 696.1,125.5 693.7,128.5 691.3,131.5 688.8,134.5 686.4,137.5 684,140.5 681.6,143.5 679.2,146.5 676.8,149.5 674.4,152.5 672,155.5 669.6,158.5 667.2,161.5 664.8,164.5 662.4,167.5 660,170.5 657.6,173.5 655.2,176.5 652.8,179.5 650.4,182.5 648.1,185.5 645.7,188.5 643.3,191.5 640.9,194.5 638.6,197.5 636.2,200.5 633.8,203.5 631.5,206.5 629.1,209.5 626.7,212.5 624.4,215.5 622,218.5 619.6,221.5 617.3,224.5 614.9,227.5 612.6,230.5 610.2,233.5 607.9,236.5 605.6,239.5 603.2,242.5 600.9,245.5 598.5,248.5 596.2,251.5 593.9,254.5 591.5,257.5 589.2,260.5 586.9,263.5 584.6,266.5 582.2,269.5 579.9,272.5 577.6,275.5 575.3,278.5 573,281.5 570.7,284.5 568.4,287.5 566.1,290.5 563.8,293.5 561.5,296.5 559.2,299.5 556.9,302.5 554.6,305.5 552.3,308.5 550,311.5 547.7,314.5 545.4,317.5 543.1,320.5 540.9,323.5 538.6,326.5 536.3,329.5 534,332.5 531.8,335.5 529.5,338.5 527.2,341.5 525,344.5 522.7,347.5 520.4,350.5 518.2,353.5 515.9,356.5 513.7,359.5 511.4,362.5 509.2,365.5 506.9,368.5 504.7,371.5 502.5,374.5 500.2,377.5 498,380.5 495.8,383.5 493.5,386.5 491.3,389.5 489.1,392.5 486.9,395.5 484.6,398.5 482.4,401.5 480.2,404.5 478,407.5 475.8,410.5 473.6,413.5 471.4,416.5 469.2,419.5 467,422.5 464.8,425.5 462.6,428.5 460.4,431.5 458.2,434.5 456,437.5 453.9,440.5 451.7,443.5 449.5,446.5 447.3,449.5 445.1,452.5 443,455.5 440.8,458.5 438.6,461.5 436.5,464.5 434.3,467.5 432.2,470.5 430,473.5 427.9,476.5 425.7,479.5 423.6,482.5 421.4,485.5 419.3,488.5 417.1,491.5 415,494.5 412.9,497.5 410.7,500.5 408.6,503.5" stroke="#58089c" stroke-width="1" stroke-dasharray="8.55 10.6" stroke-dashoffset="14.1"/>
<polyline points="758.3,74.5 755.8,77.5 753.4,80.5 751,83.5 748.6,86.5 746.2,89.5 743.8,92.5 741.4,95.5 739,98.5 736.5,101.5 734.1,104.5 731.7,107.5 729.3,110.5 727,113.5 724.6,116.5 722.2,119.5 719.8,122.5 717.4,125.5 715,128.5 712.6,131.5 710.2,134.5 707.9,137.5 705.5,140.5 703.1,143.5 700.7,146.5 698.4,149.5 696,152.5 693.6,155.5 691.3,158.5 688.9,161.5 686.5,164.5 684.2,167.5 681.8,170.5 679.5,173.5 677.1,176.5 674.8,179.5 672.4,182.5 670.1,185.5 667.7,188.5 665.4,191.5 663.1,194.5 660.7,197.5 658.4,200.5 656.1,203.5 653.7,206.5 651.4,209.5 649.1,212.5 646.8,215.5 644.4,218.5 642.1,221.5 639.8,224.5 637.5,227.5 635.2,230.5 632.9,233.5 630.6,236.5 628.3,239.5 626,242.5 623.7,245.5 621.4,248.5 619.1,251.5 616.8,254.5 614.5,257.5 612.2,260.5 609.9,263.5 607.6,266.5 605.4,269.5 603.1,272.5 600.8,275.5 598.5,278.5 596.3,281.5 594,284.5 591.7,287.5 589.5,290.5 587.2,293.5 584.9,296.5 582.7,299.5 580.4,302.5 578.2,305.5 575.9,308.5 573.7,311.5 571.4,314.5 569.2,317.5 566.9,320.5 564.7,323.5 562.5,326.5 560.2,329.5 558,332.5 555.8,335.5 553.5,338.5 551.3,341.5 549.1,344.5 546.9,347.5 544.7,350.5 542.5,353.5 540.2,356.5 538,359.5 535.8,362.5 533.6,365.5 531.4,368.5 529.2,371.5 527,374.5 524.8,377.5 522.7,380.5 520.5,383.5 518.3,386.5 516.1,389.5 513.9,392.5 511.7,395.5 509.6,398.5 507.4,401.5 505.2,404.5 503.1,407.5 500.9,410.5 498.7,413.5 496.6,416.5 494.4,419.5 492.3,422.5 490.1,425.5 488,428.5 485.8,431.5 483.7,434.5 481.6,437.5 479.4,440.5 477.3,443.5 475.2,446.5 473,449.5 470.9,452.5 468.8,455.5 466.7,458.5 464.5,461.5 462.4,464.5 460.3,467.5 458.2,470.5 456.1,473.5 454,476.5 451.9,479.5 449.8,482.5 447.7,485.5 445.6,488.5 443.5,491.5 441.4,494.5 439.4,497.5 437.3,500.5 435.2,503.5" stroke="#58089c" stroke-width="1" stroke-dasharray="8.55 10.6" stroke-dashoffset="14.1"/>
<polyline points="788.4,74.5 786,77.5 783.7,80.5 781.3,83.5 778.9,86.5 776.6,89.5 774.2,92.5 771.9,95.5 769.5,98.5 767.2,101.5 764.8,104.5 762.5,107.5 760.1,110.5 757.8,113.5 755.4,116.5 753.1,119.5 750.7,122.5 748.4,125.5 746.1,128.5 743.8,131.5 741.4,134.5 739.1,137.5 736.8,140.5 734.5,143.5 732.1,146.5 729.8,149.5 727.5,152.5 725.2,155.5 722.9,158.5 720.6,161.5 718.3,164.5 716,167.5 713.7,170.5 711.4,173.5 709.1,176.5 706.8,179.5 704.5,182.5 702.2,185.5 699.9,188.5 697.6,191.5 695.3,194.5 693.1,197.5 690.8,200.5 688.5,203.5 686.2,206.5 684,209.5 681.7,212.5 679.4,215.5 677.2,218.5 674.9,221.5 672.6,224.5 670.4,227.5 668.1,230.5 665.9,233.5 663.6,236.5 661.4,239.5 659.1,242.5 656.9,245.5 654.7,248.5 652.4,251.5 650.2,254.5 648,257.5 645.7,260.5 643.5,263.5 641.3,266.5 639.1,269.5 636.8,272.5 634.6,275.5 632.4,278.5 630.2,281.5 628,284.5 625.8,287.5 623.6,290.5 621.4,293.5 619.2,296.5 617,299.5 614.8,302.5 612.6,305.5 610.4,308.5 608.2,311.5 606,314.5 603.9,317.5 601.7,320.5 599.5,323.5 597.3,326.5 595.2,329.5 593,332.5 590.8,335.5 588.7,338.5 586.5,341.5 584.3,344.5 582.2,347.5 580,350.5 577.9,353.5 575.7,356.5 573.6,359.5 571.5,362.5 569.3,365.5 567.2,368.5 565.1,371.5 562.9,374.5 560.8,377.5 558.7,380.5 556.6,383.5 554.4,386.5 552.3,389.5 550.2,392.5 548.1,395.5 546,398.5 543.9,401.5 541.8,404.5 539.7,407.5 537.6,410.5 535.5,413.5 533.4,416.5 531.3,419.5 529.2,422.5 527.1,425.5 525.1,428.5 523,431.5 520.9,434.5 518.8,437.5 516.8,440.5 514.7,443.5 512.7,446.5 510.6,449.5 508.5,452.5 506.5,455.5 504.4,458.5 502.4,461.5 500.3,464.5 498.3,467.5 496.3,470.5 494.2,473.5 492.2,476.5 490.2,479.5 488.2,482.5 486.1,485.5 484.1,488.5 482.1,491.5 480.1,494.5 478.1,497.5 476.1,500.5 474.1,503.5" stroke="#58089c" stroke-width="1" stroke-dasharray="8.55 10.6" stroke-dashoffset="14.1"/>
<polyline points="810.5,74.5 808.2,77.5 805.8,80.5 803.5,83.5 801.2,86.5 798.8,89.5 796.5,92.5 794.2,95.5 791.9,98.5 789.6,101.5 787.3,104.5 785,107.5 782.6,110.5 780.3,113.5 778,116.5 775.7,119.5 773.4,122.5 771.1,125.5 768.9,128.5 766.6,131.5 764.3,134.5 762,137.5 759.7,140.5 757.4,143.5 755.1,146.5 752.9,149.5 750.6,152.5 748.3,155.5 746,158.5 743.8,161.5 741.5,164.5 739.3,167.5 737,170.5 734.7,173.5 732.5,176.5 730.2,179.5 728,182.5 725.7,185.5 723.5,188.5 721.2,191.5 719,194.5 716.8,197.5 714.5,200.5 712.3,203.5 710.1,206.5 707.8,209.5 705.6,212.5 703.4,215.5 701.2,218.5 698.9,221.5 696.7,224.5 694.5,227.5 692.3,230.5 690.1,233.5 687.9,236.5 685.7,239.5 683.5,242.5 681.3,245.5 679.1,248.5 676.9,251.5 674.7,254.5 672.5,257.5 670.3,260.5 668.2,263.5 666,266.5 663.8,269.5 661.6,272.5 659.4,275.5 657.3,278.5 655.1,281.5 652.9,284.5 650.8,287.5 648.6,290.5 646.5,293.5 644.3,296.5 642.2,299.5 640,302.5 637.9,305.5 635.7,308.5 633.6,311.5 631.5,314.5 629.3,317.5 627.2,320.5 625.1,323.5 622.9,326.5 620.8,329.5 618.7,332.5 616.6,335.5 614.5,338.5 612.3,341.5 610.2,344.5 608.1,347.5 606,350.5 603.9,353.5 601.8,356.5 599.7,359.5 597.6,362.5 595.5,365.5 593.5,368.5 591.4,371.5 589.3,374.5 587.2,377.5 585.1,380.5 583.1,383.5 581,386.5 578.9,389.5 576.9,392.5 574.8,395.5 572.8,398.5 570.7,401.5 568.6,404.5 566.6,407.5 564.5,410.5 562.5,413.5 560.5,416.5 558.4,419.5 556.4,422.5 554.4,425.5 552.3,428.5 550.3,431.5 548.3,434.5 546.3,437.5 544.3,440.5 542.2,443.5 540.2,446.5 538.2,449.5 536.2,452.5 534.2,455.5 532.2,458.5 530.2,461.5 528.2,464.5 526.3,467.5 524.3,470.5 522.3,473.5 520.3,476.5 518.3,479.5 516.4,482.5 514.4,485.5 512.4,488.5 510.5,491.5 508.5,494.5 506.6,497.5 504.6,500.5 502.7,503.5" stroke="#58089c" stroke-width="1" stroke-dasharray="8.55 10.6" stroke-dashoffset="14.1"/>
<polyline points="828,74.5 825.7,77.5 823.4,80.5 821.1,83.5 818.8,86.5 816.5,89.5 814.2,92.5 811.9,95.5 809.7,98.5 807.4,101.5 805.1,104.5 802.8,107.5 800.5,110.5 798.3,113.5 796,116.5 793.7,119.5 791.5,122.5 789.2,125.5 786.9,128.5 784.7,131.5 782.4,134.5 780.2,137.5 777.9,140.5 775.7,143.5 773.4,146.5 771.2,149.5 768.9,152.5 766.7,155.5 764.5,158.5 762.2,161.5 760,164.5 757.8,167.5 755.5,170.5 753.3,173.5 751.1,176.5 748.9,179.5 746.6,182.5 744.4,185.5 742.2,188.5 740,191.5 737.8,194.5 735.6,197.5 733.4,200.5 731.2,203.5 729,206.5 726.8,209.5 724.6,212.5 722.4,215.5 720.2,218.5 718,221.5 715.9,224.5 713.7,227.5 711.5,230.5 709.3,233.5 707.2,236.5 705,239.5 702.8,242.5 700.7,245.5 698.5,248.5 696.3,251.5 694.2,254.5 692,257.5 689.9,260.5 687.7,263.5 685.6,266.5 683.5,269.5 681.3,272.5 679.2,275.5 677,278.5 674.9,281.5 672.8,284.5 670.7,287.5 668.5,290.5 666.4,293.5 664.3,296.5 662.2,299.5 660.1,302.5 658,305.5 655.9,308.5 653.8,311.5 651.7,314.5 649.6,317.5 647.5,320.5 645.4,323.5 643.3,326.5 641.2,329.5 639.1,332.5 637,335.5 635,338.5 632.9,341.5 630.8,344.5 628.8,347.5 626.7,350.5 624.6,353.5 622.6,356.5 620.5,359.5 618.5,362.5 616.4,365.5 614.4,368.5 612.3,371.5 610.3,374.5 608.2,377.5 606.2,380.5 604.2,383.5 602.1,386.5 600.1,389.5 598.1,392.5 596.1,395.5 594,398.5 592,401.5 590,404.5 588,407.5 586,410.5 584,413.5 582,416.5 580,419.5 578,422.5 576,425.5 574,428.5 572.1,431.5 570.1,434.5 568.1,437.5 566.1,440.5 564.2,443.5 562.2,446.5 560.2,449.5 558.3,452.5 556.3,455.5 554.4,458.5 552.4,461.5 550.5,464.5 548.5,467.5 546.6,470.5 544.6,473.5 542.7,476.5 540.8,479.5 538.8,482.5 536.9,485.5 535,488.5 533.1,491.5 531.2,494.5 529.3,497.5 527.4,500.5 525.4,503.5" stroke="#58089c" stroke-width="1" stroke-dasharray="8.55 10.6" stroke-dashoffset="14.1"/>
<polyline points="842.6,74.5 840.3,77.5 838,80.5 835.8,83.5 833.5,86.5 831.2,89.5 829,92.5 826.7,95.5 824.4,98.5 822.2,101.5 819.9,104.5 817.7,107.5 815.4,110.5 813.2,113.5 810.9,116.5 808.7,119.5 806.5,122.5 804.2,125.5 802,128.5 799.7,131.5 797.5,134.5 795.3,137.5 793.1,140.5 790.8,143.5 788.6,146.5 786.4,149.5 784.2,152.5 782,155.5 779.8,158.5 777.6,161.5 775.4,164.5 773.2,167.5 771,170.5 768.8,173.5 766.6,176.5 764.4,179.5 762.2,182.5 760,185.5 757.8,188.5 755.6,191.5 753.4,194.5 751.3,197.5 749.1,200.5 746.9,203.5 744.8,206.5 742.6,209.5 740.4,212.5 738.3,215.5 736.1,218.5 733.9,221.5 731.8,224.5 729.6,227.5 727.5,230.5 725.4,233.5 723.2,236.5 721.1,239.5 718.9,242.5 716.8,245.5 714.7,248.5 712.5,251.5 710.4,254.5 708.3,257.5 706.2,260.5 704.1,263.5 701.9,266.5 699.8,269.5 697.7,272.5 695.6,275.5 693.5,278.5 691.4,281.5 689.3,284.5 687.2,287.5 685.1,290.5 683,293.5 681,296.5 678.9,299.5 676.8,302.5 674.7,305.5 672.6,308.5 670.6,311.5 668.5,314.5 666.4,317.5 664.4,320.5 662.3,323.5 660.3,326.5 658.2,329.5 656.2,332.5 654.1,335.5 652.1,338.5 650,341.5 648,344.5 645.9,347.5 643.9,350.5 641.9,353.5 639.9,356.5 637.8,359.5 635.8,362.5 633.8,365.5 631.8,368.5 629.8,371.5 627.8,374.5 625.8,377.5 623.7,380.5 621.8,383.5 619.8,386.5 617.8,389.5 615.8,392.5 613.8,395.5 611.8,398.5 609.8,401.5 607.8,404.5 605.9,407.5 603.9,410.5 601.9,413.5 600,416.5 598,419.5 596.1,422.5 594.1,425.5 592.1,428.5 590.2,431.5 588.3,434.5 586.3,437.5 584.4,440.5 582.4,443.5 580.5,446.5 578.6,449.5 576.7,452.5 574.7,455.5 572.8,458.5 570.9,461.5 569,464.5 567.1,467.5 565.2,470.5 563.3,473.5 561.4,476.5 559.5,479.5 557.6,482.5 555.7,485.5 553.8,488.5 551.9,491.5 550.1,494.5 548.2,497.5 546.3,500.5 544.5,503.5" stroke="#58089c" stroke-width="1" stroke-dasharray="8.55 10.6" stroke-dashoffset="14.1"/>
<polyline points="860.7,74.5 858.5,77.5 856.3,80.5 854,83.5 851.8,86.5 849.5,89.5 847.3,92.5 845.1,95.5 842.9,98.5 840.6,101.5 838.4,104.5 836.2,107.5 834,110.5 831.8,113.5 829.5,116.5 827.3,119.5 825.1,122.5 822.9,125.5 820.7,128.5 818.5,131.5 816.3,134.5 814.1,137.5 811.9,140.5 809.8,143.5 807.6,146.5 805.4,149.5 803.2,152.5 801,155.5 798.8,158.5 796.7,161.5 794.5,164.5 792.3,167.5 790.2,170.5 788,173.5 785.8,176.5 783.7,179.5 781.5,182.5 779.4,185.5 777.2,188.5 775.1,191.5 772.9,194.5 770.8,197.5 768.7,200.5 766.5,203.5 764.4,206.5 762.3,209.5 760.1,212.5 758,215.5 755.9,218.5 753.8,221.5 751.7,224.5 749.5,227.5 747.4,230.5 745.3,233.5 743.2,236.5 741.1,239.5 739,242.5 736.9,245.5 734.8,248.5 732.7,251.5 730.6,254.5 728.6,257.5 726.5,260.5 724.4,263.5 722.3,266.5 720.2,269.5 718.2,272.5 716.1,275.5 714,278.5 712,281.5 709.9,284.5 707.9,287.5 705.8,290.5 703.8,293.5 701.7,296.5 699.7,299.5 697.6,302.5 695.6,305.5 693.6,308.5 691.5,311.5 689.5,314.5 687.5,317.5 685.4,320.5 683.4,323.5 681.4,326.5 679.4,329.5 677.4,332.5 675.4,335.5 673.4,338.5 671.4,341.5 669.4,344.5 667.4,347.5 665.4,350.5 663.4,353.5 661.4,356.5 659.4,359.5 657.5,362.5 655.5,365.5 653.5,368.5 651.5,371.5 649.6,374.5 647.6,377.5 645.6,380.5 643.7,383.5 641.7,386.5 639.8,389.5 637.8,392.5 635.9,395.5 634,398.5 632,401.5 630.1,404.5 628.2,407.5 626.2,410.5 624.3,413.5 622.4,416.5 620.5,419.5 618.6,422.5 616.6,425.5 614.7,428.5 612.8,431.5 610.9,434.5 609,437.5 607.1,440.5 605.3,443.5 603.4,446.5 601.5,449.5 599.6,452.5 597.7,455.5 595.9,458.5 594,461.5 592.1,464.5 590.3,467.5 588.4,470.5 586.5,473.5 584.7,476.5 582.8,479.5 581,482.5 579.2,485.5 577.3,488.5 575.5,491.5 573.7,494.5 571.8,497.5 570,500.5 568.2,503.5" stroke="#58089c" stroke-width="1" stroke-dasharray="8.55 10.6" stroke-dashoffset="14.1"/>
<polyline points="884.6,74.5 882.4,77.5 880.2,80.5 878,83.5 875.8,86.5 873.6,89.5 871.5,92.5 869.3,95.5 867.1,98.5 864.9,101.5 862.7,104.5 860.6,107.5 858.4,110.5 856.2,113.5 854,116.5 851.9,119.5 849.7,122.5 847.6,125.5 845.4,128.5 843.2,131.5 841.1,134.5 838.9,137.5 836.8,140.5 834.6,143.5 832.5,146.5 830.4,149.5 828.2,152.5 826.1,155.5 824,158.5 821.8,161.5 819.7,164.5 817.6,167.5 815.5,170.5 813.4,173.5 811.2,176.5 809.1,179.5 807,182.5 804.9,185.5 802.8,188.5 800.7,191.5 798.6,194.5 796.5,197.5 794.4,200.5 792.4,203.5 790.3,206.5 788.2,209.5 786.1,212.5 784,215.5 782,218.5 779.9,221.5 777.8,224.5 775.8,227.5 773.7,230.5 771.6,233.5 769.6,236.5 767.5,239.5 765.5,242.5 763.4,245.5 761.4,248.5 759.3,251.5 757.3,254.5 755.3,257.5 753.2,260.5 751.2,263.5 749.2,266.5 747.2,269.5 745.1,272.5 743.1,275.5 741.1,278.5 739.1,281.5 737.1,284.5 735.1,287.5 733.1,290.5 731.1,293.5 729.1,296.5 727.1,299.5 725.1,302.5 723.1,305.5 721.1,308.5 719.2,311.5 717.2,314.5 715.2,317.5 713.2,320.5 711.3,323.5 709.3,326.5 707.4,329.5 705.4,332.5 703.4,335.5 701.5,338.5 699.6,341.5 697.6,344.5 695.7,347.5 693.7,350.5 691.8,353.5 689.9,356.5 687.9,359.5 686,362.5 684.1,365.5 682.2,368.5 680.3,371.5 678.4,374.5 676.4,377.5 674.5,380.5 672.6,383.5 670.7,386.5 668.9,389.5 667,392.5 665.1,395.5 663.2,398.5 661.3,401.5 659.4,404.5 657.6,407.5 655.7,410.5 653.8,413.5 652,416.5 650.1,419.5 648.3,422.5 646.4,425.5 644.6,428.5 642.7,431.5 640.9,434.5 639,437.5 637.2,440.5 635.4,443.5 633.5,446.5 631.7,449.5 629.9,452.5 628.1,455.5 626.3,458.5 624.5,461.5 622.7,464.5 620.9,467.5 619.1,470.5 617.3,473.5 615.5,476.5 613.7,479.5 611.9,482.5 610.1,485.5 608.4,488.5 606.6,491.5 604.8,494.5 603.1,497.5 601.3,500.5 599.6,503.5" stroke="#58089c" stroke-width="1" stroke-dasharray="8.55 10.6" stroke-dashoffset="14.1"/>
<polyline points="903.5,74.5 901.4,77.5 899.2,80.5 897,83.5 894.9,86.5 892.7,89.5 890.6,92.5 888.4,95.5 886.3,98.5 884.1,101.5 882,104.5 879.8,107.5 877.7,110.5 875.5,113.5 873.4,116.5 871.3,119.5 869.2,122.5 867,125.5 864.9,128.5 862.8,131.5 860.7,134.5 858.6,137.5 856.5,140.5 854.3,143.5 852.2,146.5 850.1,149.5 848,152.5 845.9,155.5 843.8,158.5 841.8,161.5 839.7,164.5 837.6,167.5 835.5,170.5 833.4,173.5 831.3,176.5 829.3,179.5 827.2,182.5 825.1,185.5 823.1,188.5 821,191.5 819,194.5 816.9,197.5 814.8,200.5 812.8,203.5 810.7,206.5 808.7,209.5 806.7,212.5 804.6,215.5 802.6,218.5 800.6,221.5 798.5,224.5 796.5,227.5 794.5,230.5 792.5,233.5 790.4,236.5 788.4,239.5 786.4,242.5 784.4,245.5 782.4,248.5 780.4,251.5 778.4,254.5 776.4,257.5 774.4,260.5 772.4,263.5 770.5,266.5 768.5,269.5 766.5,272.5 764.5,275.5 762.5,278.5 760.6,281.5 758.6,284.5 756.6,287.5 754.7,290.5 752.7,293.5 750.8,296.5 748.8,299.5 746.9,302.5 744.9,305.5 743,308.5 741.1,311.5 739.1,314.5 737.2,317.5 735.3,320.5 733.4,323.5 731.4,326.5 729.5,329.5 727.6,332.5 725.7,335.5 723.8,338.5 721.9,341.5 720,344.5 718.1,347.5 716.2,350.5 714.3,353.5 712.4,356.5 710.5,359.5 708.7,362.5 706.8,365.5 704.9,368.5 703,371.5 701.2,374.5 699.3,377.5 697.5,380.5 695.6,383.5 693.7,386.5 691.9,389.5 690.1,392.5 688.2,395.5 686.4,398.5 684.5,401.5 682.7,404.5 680.9,407.5 679.1,410.5 677.3,413.5 675.4,416.5 673.6,419.5 671.8,422.5 670,425.5 668.2,428.5 666.4,431.5 664.6,434.5 662.8,437.5 661.1,440.5 659.3,443.5 657.5,446.5 655.7,449.5 653.9,452.5 652.2,455.5 650.4,458.5 648.7,461.5 646.9,464.5 645.2,467.5 643.4,470.5 641.7,473.5 639.9,476.5 638.2,479.5 636.5,482.5 634.7,485.5 633,488.5 631.3,491.5 629.6,494.5 627.9,497.5 626.2,500.5 624.5,503.5" stroke="#58089c" stroke-width="1" stroke-dasharray="8.55 10.6" stroke-dashoffset="14.1"/>
<polyline points="919.2,74.5 917,77.5 914.9,80.5 912.8,83.5 910.6,86.5 908.5,89.5 906.4,92.5 904.2,95.5 902.1,98.5 900,101.5 897.9,104.5 895.8,107.5 893.7,110.5 891.6,113.5 889.5,116.5 887.4,119.5 885.3,122.5 883.2,125.5 881.1,128.5 879,131.5 876.9,134.5 874.8,137.5 872.7,140.5 870.7,143.5 868.6,146.5 866.5,149.5 864.5,152.5 862.4,155.5 860.3,158.5 858.3,161.5 856.2,164.5 854.2,167.5 852.1,170.5 850.1,173.5 848,176.5 846,179.5 843.9,182.5 841.9,185.5 839.9,188.5 837.8,191.5 835.8,194.5 833.8,197.5 831.8,200.5 829.7,203.5 827.7,206.5 825.7,209.5 823.7,212.5 821.7,215.5 819.7,218.5 817.7,221.5 815.7,224.5 813.7,227.5 811.7,230.5 809.7,233.5 807.8,236.5 805.8,239.5 803.8,242.5 801.8,245.5 799.9,248.5 797.9,251.5 795.9,254.5 794,257.5 792,260.5 790.1,263.5 788.1,266.5 786.2,269.5 784.2,272.5 782.3,275.5 780.3,278.5 778.4,281.5 776.5,284.5 774.5,287.5 772.6,290.5 770.7,293.5 768.8,296.5 766.9,299.5 764.9,302.5 763,305.5 761.1,308.5 759.2,311.5 757.3,314.5 755.4,317.5 753.5,320.5 751.7,323.5 749.8,326.5 747.9,329.5 746,332.5 744.1,335.5 742.3,338.5 740.4,341.5 738.5,344.5 736.7,347.5 734.8,350.5 733,353.5 731.1,356.5 729.3,359.5 727.4,362.5 725.6,365.5 723.8,368.5 721.9,371.5 720.1,374.5 718.3,377.5 716.5,380.5 714.7,383.5 712.8,386.5 711,389.5 709.2,392.5 707.4,395.5 705.6,398.5 703.8,401.5 702,404.5 700.3,407.5 698.5,410.5 696.7,413.5 694.9,416.5 693.2,419.5 691.4,422.5 689.6,425.5 687.9,428.5 686.1,431.5 684.4,434.5 682.6,437.5 680.9,440.5 679.1,443.5 677.4,446.5 675.6,449.5 673.9,452.5 672.2,455.5 670.5,458.5 668.8,461.5 667,464.5 665.3,467.5 663.6,470.5 661.9,473.5 660.2,476.5 658.5,479.5 656.9,482.5 655.2,485.5 653.5,488.5 651.8,491.5 650.1,494.5 648.5,497.5 646.8,500.5 645.1,503.5" stroke="#58089c" stroke-width="1" stroke-dasharray="8.55 10.6" stroke-dashoffset="14.1"/>
<polyline points="944.2,74.5 942.1,77.5 940,80.5 937.9,83.5 935.8,86.5 933.8,89.5 931.7,92.5 929.6,95.5 927.5,98.5 925.5,101.5 923.4,104.5 921.3,107.5 919.3,110.5 917.2,113.5 915.2,116.5 913.1,119.5 911.1,122.5 909,125.5 907,128.5 904.9,131.5 902.9,134.5 900.9,137.5 898.8,140.5 896.8,143.5 894.8,146.5 892.7,149.5 890.7,152.5 888.7,155.5 886.7,158.5 884.7,161.5 882.7,164.5 880.7,167.5 878.7,170.5 876.7,173.5 874.7,176.5 872.7,179.5 870.7,182.5 868.7,185.5 866.7,188.5 864.8,191.5 862.8,194.5 860.8,197.5 858.9,200.5 856.9,203.5 854.9,206.5 853,209.5 851,212.5 849.1,215.5 847.1,218.5 845.2,221.5 843.2,224.5 841.3,227.5 839.3,230.5 837.4,233.5 835.5,236.5 833.6,239.5 831.6,242.5 829.7,245.5 827.8,248.5 825.9,251.5 824,254.5 822.1,257.5 820.2,260.5 818.3,263.5 816.4,266.5 814.5,269.5 812.6,272.5 810.7,275.5 808.8,278.5 806.9,281.5 805.1,284.5 803.2,287.5 801.3,290.5 799.5,293.5 797.6,296.5 795.7,299.5 793.9,302.5 792,305.5 790.2,308.5 788.4,311.5 786.5,314.5 784.7,317.5 782.8,320.5 781,323.5 779.2,326.5 777.4,329.5 775.6,332.5 773.7,335.5 771.9,338.5 770.1,341.5 768.3,344.5 766.5,347.5 764.7,350.5 762.9,353.5 761.1,356.5 759.4,359.5 757.6,362.5 755.8,365.5 754,368.5 752.3,371.5 750.5,374.5 748.7,377.5 747,380.5 745.2,383.5 743.5,386.5 741.7,389.5 740,392.5 738.2,395.5 736.5,398.5 734.8,401.5 733.1,404.5 731.3,407.5 729.6,410.5 727.9,413.5 726.2,416.5 724.5,419.5 722.8,422.5 721.1,425.5 719.4,428.5 717.7,431.5 716,434.5 714.3,437.5 712.6,440.5 711,443.5 709.3,446.5 707.6,449.5 706,452.5 704.3,455.5 702.7,458.5 701,461.5 699.4,464.5 697.7,467.5 696.1,470.5 694.5,473.5 692.8,476.5 691.2,479.5 689.6,482.5 688,485.5 686.4,488.5 684.7,491.5 683.1,494.5 681.5,497.5 680,500.5 678.4,503.5" stroke="#58089c" stroke-width="1" stroke-dasharray="8.55 10.6" stroke-dashoffset="14.1"/>
<line x1="87" x2="697.5" y1="201.5" y2="201.5" stroke="#000"/>
<line x1="87" x2="697.5" y1="275.5" y2="275.5" stroke="#000"/>
<line x1="87" x2="697.5" y1="327.5" y2="327.5" stroke="#000"/>
<line x1="87" x2="697.5" y1="368.5" y2="368.5" stroke="#000"/>
<line x1="87" x2="697.5" y1="401.5" y2="401.5" stroke="#000"/>
<line x1="87" x2="697.5" y1="429.5" y2="429.5" stroke="#000"/>
<line x1="87" x2="697.5" y1="453.5" y2="453.5" stroke="#000"/>
<line x1="87" x2="697.5" y1="475.5" y2="475.5" stroke="#000"/>
<line x1="87" x2="697.5" y1="494.5" y2="494.5" stroke="#000"/>
</g>
<g shape-rendering="crispEdges" stroke="#000">
<line x1="87.5" x2="87.5" y1="74" y2="504"/>
<line x1="87" x2="697.5" y1="74.5" y2="74.5"/>
<line x1="87" x2="697.5" y1="503.5" y2="503.5"/>
</g>
<g shape-rendering="crispEdges" clip-path="url(#c)">
<line x1="605.7" x2="608.1" y1="489.5" y2="489.5" stroke="#58089c"/>
<line x1="601" x2="607.9" y1="486.5" y2="486.5" stroke="#58089c"/>
<line x1="596.8" x2="607.7" y1="483.5" y2="483.5" stroke="#58089c"/>
<line x1="592.4" x2="607.5" y1="480.5" y2="480.5" stroke="#58089c"/>
<line x1="590.5" x2="607.3" y1="477.5" y2="477.5" stroke="#58089c"/>
<line x1="589" x2="607.1" y1="474.5" y2="474.5" stroke="#58089c"/>
<line x1="587.4" x2="606.8" y1="471.5" y2="471.5" stroke="#58089c"/>
<line x1="585.9" x2="606.6" y1="468.5" y2="468.5" stroke="#58089c"/>
<line x1="584.5" x2="606.3" y1="465.5" y2="465.5" stroke="#58089c"/>
<line x1="584.5" x2="606" y1="461.5" y2="461.5" stroke="#58089c"/>
<line x1="584.5" x2="605.6" y1="458.5" y2="458.5" stroke="#58089c"/>
<line x1="584.5" x2="605.2" y1="455.5" y2="455.5" stroke="#58089c"/>
<line x1="584.5" x2="604.7" y1="451.5" y2="451.5" stroke="#58089c"/>
<line x1="584.6" x2="604.2" y1="448.5" y2="448.5" stroke="#58089c"/>
<line x1="585.4" x2="603.6" y1="444.5" y2="444.5" stroke="#58089c"/>
<line x1="585.5" x2="603.1" y1="441.5" y2="441.5" stroke="#58089c"/>
<line x1="585.6" x2="602.4" y1="437.5" y2="437.5" stroke="#58089c"/>
<line x1="585.6" x2="601.7" y1="433.5" y2="433.5" stroke="#58089c"/>
<line x1="585.5" x2="601" y1="429.5" y2="429.5" stroke="#58089c"/>
<line x1="583.2" x2="600.4" y1="425.5" y2="425.5" stroke="#58089c"/>
<line x1="581" x2="599.8" y1="421.5" y2="421.5" stroke="#58089c"/>
<line x1="578.6" x2="599.2" y1="417.5" y2="417.5" stroke="#58089c"/>
<line x1="576.3" x2="598.6" y1="413.5" y2="413.5" stroke="#58089c"/>
<line x1="573.9" x2="598" y1="409.5" y2="409.5" stroke="#58089c"/>
<line x1="571.5" x2="597.4" y1="404.5" y2="404.5" stroke="#58089c"/>
<line x1="569.3" x2="596.5" y1="400.5" y2="400.5" stroke="#58089c"/>
<line x1="567.6" x2="595.3" y1="395.5" y2="395.5" stroke="#58089c"/>
<line x1="565.8" x2="594" y1="390.5" y2="390.5" stroke="#58089c"/>
<line x1="563.7" x2="592.4" y1="385.5" y2="385.5" stroke="#58089c"/>
<line x1="561.3" x2="590.6" y1="380.5" y2="380.5" stroke="#58089c"/>
<line x1="559.7" x2="589.7" y1="375.5" y2="375.5" stroke="#58089c"/>
<line x1="557.2" x2="588.1" y1="370.5" y2="370.5" stroke="#58089c"/>
<line x1="554.1" x2="586.1" y1="364.5" y2="364.5" stroke="#58089c"/>
<line x1="551" x2="583.6" y1="359.5" y2="359.5" stroke="#58089c"/>
<line x1="547.9" x2="580.9" y1="353.5" y2="353.5" stroke="#58089c"/>
<line x1="544.8" x2="578.3" y1="347.5" y2="347.5" stroke="#58089c"/>
<line x1="541.3" x2="575.8" y1="340.5" y2="340.5" stroke="#58089c"/>
<line x1="537.8" x2="573.5" y1="334.5" y2="334.5" stroke="#58089c"/>
<line x1="533.7" x2="570.8" y1="327.5" y2="327.5" stroke="#58089c"/>
<line x1="527.5" x2="566.6" y1="320.5" y2="320.5" stroke="#58089c"/>
<line x1="521.7" x2="562.1" y1="313.5" y2="313.5" stroke="#58089c"/>
<line x1="516.3" x2="557.9" y1="306.5" y2="306.5" stroke="#58089c"/>
<line x1="509.9" x2="553" y1="298.5" y2="298.5" stroke="#58089c"/>
<line x1="503.6" x2="545.6" y1="290.5" y2="290.5" stroke="#58089c"/>
<line x1="496.7" x2="537.7" y1="281.5" y2="281.5" stroke="#58089c"/>
<line x1="490.4" x2="532.4" y1="272.5" y2="272.5" stroke="#58089c"/>
<line x1="481.1" x2="524.1" y1="262.5" y2="262.5" stroke="#58089c"/>
<line x1="471.9" x2="515.1" y1="252.5" y2="252.5" stroke="#58089c"/>
<line x1="462.7" x2="505.9" y1="242.5" y2="242.5" stroke="#58089c"/>
<line x1="455.7" x2="494.6" y1="231.5" y2="231.5" stroke="#58089c"/>
<line x1="447.7" x2="482.6" y1="219.5" y2="219.5" stroke="#58089c"/>
<line x1="438.5" x2="469.5" y1="206.5" y2="206.5" stroke="#58089c"/>
<line x1="429" x2="457" y1="192.5" y2="192.5" stroke="#58089c"/>
<line x1="419.6" x2="439.7" y1="177.5" y2="177.5" stroke="#58089c"/>
<line x1="407.9" x2="421.5" y1="161.5" y2="161.5" stroke="#58089c"/>
<line x1="399" x2="401.5" y1="143.5" y2="143.5" stroke="#58089c"/>
<polyline points="397.6,73.5 397.6,106.5 398.6,107.5 398.6,136.5 399.5,149.5 418,173.5 422,181.5 429,191.5 440,207.5 448,218.5 456,230.5 463,241.9 472.4,252.5 482,262.9 491,272.1 497,280.9 504,289.5 510.4,297.9 517,305.9 522,313.1 528,320.5 534,327.1 538,333.9 541.6,340.5 545,346.5 548,352.5 551,358.1 554,363.5 557,368.9 559.6,374.1 561,379.1 565,387.5 570,400.9 578,415.5 585.6,428.9 585.6,435.5 585.4,444.5 584.5,447.5 584.5,464 586.5,468.5 591.7,479 601.8,485.8 607,488.9 620,496.5" stroke="#ff0000" stroke-width="1"/>
<polyline points="397.6,74.5 397.6,107.5 398.6,108.5 398.6,137.5 399.5,150.5 418,174.5 422,182.5 429,192.5 440,208.5 448,219.5 456,231.5 463,242.9 472.4,253.5 482,263.9 491,273.1 497,281.9 504,290.5 510.4,298.9 517,306.9 522,314.1 528,321.5 534,328.1 538,334.9 541.6,341.5 545,347.5 548,353.5 551,359.1 554,364.5 557,369.9 559.6,375.1 561,380.1 565,388.5 570,401.9 578,416.5 585.6,429.9 585.6,436.5 585.4,445.5 584.5,448.5 584.5,465 586.5,469.5 591.7,480 601.8,486.8 607,489.9 620,497.5" stroke="#ff0000" stroke-width="1"/>
<polyline points="398,137.5 398.5,149.5" stroke="#ff0000" stroke-width="1"/>
<polyline points="399,137.5 399.5,149.5" stroke="#ff0000" stroke-width="1"/>
<polyline points="400,137.5 400.5,149.5" stroke="#ff0000" stroke-width="1"/>
<polyline points="370.4,73.5 376,109.5 382.4,145.5 389,169.5 392.4,181.5 395,187.5 398.4,201.5 410,221.5 418,240.5 428,248.5 444,262.9 464,281.5 509,326.5 531,367.5 531,401 543,421.5 552,439.5 558,450.5 564.7,462.5 573,470 586.5,480.5 597,489.5 606,496.2" stroke="#0000ff" stroke-width="1"/>
<polyline points="370.4,74.5 376,110.5 382.4,146.5 389,170.5 392.4,182.5 395,188.5 398.4,202.5 410,222.5 418,241.5 428,249.5 444,263.9 464,282.5 509,327.5 531,368.5 531,402 543,422.5 552,440.5 558,451.5 564.7,463.5 573,471 586.5,481.5 597,490.5 606,497.2" stroke="#0000ff" stroke-width="1"/>
<polyline points="455,272 509,326" stroke="#0000ff" stroke-width="1"/>
<polyline points="455,273 509,327" stroke="#0000ff" stroke-width="1"/>
<polyline points="455,274 509,328" stroke="#0000ff" stroke-width="1"/>
<polyline points="530.5,368 530.5,401.5" stroke="#0000ff" stroke-width="1"/>
<polyline points="531.5,368 531.5,401.5" stroke="#0000ff" stroke-width="1"/>
<polyline points="532.5,368 532.5,401.5" stroke="#0000ff" stroke-width="1"/>
<polyline points="346,73.5 397,135.5 401.5,142.5 440,176.9 457,191.5 470,205.9 483,218.5 495,230.5 506.4,241.9 515.6,252.5 525,262.9 533,272.1 538,280.9 546,289.5 553.6,297.9 558.4,305.9 562.4,313.1 567,320.5 571,327.1 573.6,333.9 576,340.5 578.4,346.5 581,352.5 583.6,358.1 586,363.5 588,368.9 589.6,374.1 590.4,379.1 594,389.5 597,400.9 599,415.5 601,428.9 603,439.5 605,452.5 606.4,464.5 607.5,479 608.2,490.5 620,497.5" stroke="#58089c" stroke-width="1"/>
<polyline points="346,74.5 397,136.5 401.5,143.5 440,177.9 457,192.5 470,206.9 483,219.5 495,231.5 506.4,242.9 515.6,253.5 525,263.9 533,273.1 538,281.9 546,290.5 553.6,298.9 558.4,306.9 562.4,314.1 567,321.5 571,328.1 573.6,334.9 576,341.5 578.4,347.5 581,353.5 583.6,359.1 586,364.5 588,369.9 589.6,375.1 590.4,380.1 594,390.5 597,401.9 599,416.5 601,429.9 603,440.5 605,453.5 606.4,465.5 607.5,480 608.2,491.5 620,498.5" stroke="#58089c" stroke-width="1"/>
<polyline points="607.5,480.5 607.5,491" stroke="#58089c" stroke-width="1"/>
<polyline points="608.5,480.5 608.5,491" stroke="#58089c" stroke-width="1"/>
<polyline points="609.5,480.5 609.5,491" stroke="#58089c" stroke-width="1"/>
<rect x="396" y="75" width="4" height="2" fill="#ff0000"/>
<rect x="369" y="75" width="3" height="2" fill="#0000ff"/>
<rect x="604.5" y="495" width="3" height="3" fill="#0000ff"/>
</g>
<g id="txt" shape-rendering="crispEdges">
<path transform="translate(85.3 51.8)" d="M4.1 -11.6L0 0M4.1 -11.6L8.1 0M1.5 -3.9L6.6 -3.9M10.7 -11.6L10.7 0M14.7 -11.6L14.7 0M14.7 -11.6L19.3 -11.6L20.8 -11L21.3 -10.5L21.8 -9.4L21.8 -8.3L21.3 -7.2L20.8 -6.6L19.3 -6.1L14.7 -6.1M18.3 -6.1L21.8 0M32 -9.9L30.9 -11L29.4 -11.6L27.4 -11.6L25.9 -11L24.9 -9.9L24.9 -8.8L25.4 -7.7L25.9 -7.2L26.9 -6.6L29.9 -5.5L30.9 -5L31.5 -4.4L32 -3.3L32 -1.7L30.9 -0.6L29.4 0L27.4 0L25.9 -0.6L24.9 -1.7M50.2 -9.9L49.2 -11L47.7 -11.6L45.7 -11.6L44.1 -11L43.1 -9.9L43.1 -8.8L43.6 -7.7L44.1 -7.2L45.2 -6.6L48.2 -5.5L49.2 -5L49.7 -4.4L50.2 -3.3L50.2 -1.7L49.2 -0.6L47.7 0L45.7 0L44.1 -0.6L43.1 -1.7M53.8 -11.6L53.8 0M58.9 -7.7L53.8 -2.2M55.8 -4.4L59.4 0M61.9 -4.4L68 -4.4L68 -5.5L67.5 -6.6L67 -7.2L66 -7.7L64.4 -7.7L63.4 -7.2L62.4 -6.1L61.9 -4.4L61.9 -3.3L62.4 -1.7L63.4 -0.6L64.4 0L66 0L67 -0.6L68 -1.7M71 -7.7L73.1 0M75.1 -7.7L73.1 0M75.1 -7.7L77.1 0M79.1 -7.7L77.1 0M84.7 -11.6L84.7 0M81.2 -11.6L88.3 -11.6M98.9 -11.6L98.9 0M98.9 -11.6L102.5 -11.6L104 -11L105 -9.9L105.5 -8.8L106 -7.2L106 -4.4L105.5 -2.8L105 -1.7L104 -0.6L102.5 0L98.9 0M109.1 -11.6L109.6 -11L110.1 -11.6L109.6 -12.1L109.1 -11.6M109.6 -7.7L109.6 0M119.2 -7.7L119.2 0M119.2 -6.1L118.2 -7.2L117.2 -7.7L115.7 -7.7L114.7 -7.2L113.7 -6.1L113.1 -4.4L113.1 -3.3L113.7 -1.7L114.7 -0.6L115.7 0L117.2 0L118.2 -0.6L119.2 -1.7M128.9 -7.7L128.9 1.1L128.4 2.8L127.9 3.3L126.8 3.9L125.3 3.9L124.3 3.3M128.9 -6.1L127.9 -7.2L126.8 -7.7L125.3 -7.7L124.3 -7.2L123.3 -6.1L122.8 -4.4L122.8 -3.3L123.3 -1.7L124.3 -0.6L125.3 0L126.8 0L127.9 -0.6L128.9 -1.7M132.9 -7.7L132.9 0M132.9 -4.4L133.4 -6.1L134.5 -7.2L135.5 -7.7L137 -7.7M145.1 -7.7L145.1 0M145.1 -6.1L144.1 -7.2L143.1 -7.7L141.6 -7.7L140.5 -7.2L139.5 -6.1L139 -4.4L139 -3.3L139.5 -1.7L140.5 -0.6L141.6 0L143.1 0L144.1 -0.6L145.1 -1.7M149.2 -7.7L149.2 0M149.2 -5.5L150.7 -7.2L151.7 -7.7L153.2 -7.7L154.2 -7.2L154.7 -5.5L154.7 0M154.7 -5.5L156.3 -7.2L157.3 -7.7L158.8 -7.7L159.8 -7.2L160.3 -5.5L160.3 0M172.5 -8.8L172.5 -9.4L173 -10.5L173.5 -11L174.5 -11.6L176.6 -11.6L177.6 -11L178.1 -10.5L178.6 -9.4L178.6 -8.3L178.1 -7.2L177.1 -5.5L172 0L179.1 0M185.2 -11.6L183.7 -11L182.7 -9.4L182.1 -6.6L182.1 -5L182.7 -2.2L183.7 -0.6L185.2 0L186.2 0L187.7 -0.6L188.7 -2.2L189.2 -5L189.2 -6.6L188.7 -9.4L187.7 -11L186.2 -11.6L185.2 -11.6M193.8 -9.4L194.8 -9.9L196.4 -11.6L196.4 0M205.5 -11.6L204 -11L202.9 -9.4L202.4 -6.6L202.4 -5L202.9 -2.2L204 -0.6L205.5 0L206.5 0L208 -0.6L209 -2.2L209.5 -5L209.5 -6.6L209 -9.4L208 -11L206.5 -11.6L205.5 -11.6M213.1 -5L222.2 -5M228.8 -11.6L227.3 -11L226.3 -9.4L225.8 -6.6L225.8 -5L226.3 -2.2L227.3 -0.6L228.8 0L229.8 0L231.4 -0.6L232.4 -2.2L232.9 -5L232.9 -6.6L232.4 -9.4L231.4 -11L229.8 -11.6L228.8 -11.6M238.5 -11.6L236.9 -11L236.4 -9.9L236.4 -8.8L236.9 -7.7L238 -7.2L240 -6.6L241.5 -6.1L242.5 -5L243 -3.9L243 -2.2L242.5 -1.1L242 -0.6L240.5 0L238.5 0L236.9 -0.6L236.4 -1.1L235.9 -2.2L235.9 -3.9L236.4 -5L237.4 -6.1L239 -6.6L241 -7.2L242 -7.7L242.5 -8.8L242.5 -9.9L242 -11L240.5 -11.6L238.5 -11.6M246.6 -5L255.7 -5M260.8 -9.4L261.8 -9.9L263.3 -11.6L263.3 0M270.4 -11.6L276 -11.6L273 -7.2L274.5 -7.2L275.5 -6.6L276 -6.1L276.5 -4.4L276.5 -3.3L276 -1.7L275 -0.6L273.5 0L271.9 0L270.4 -0.6L269.9 -1.1L269.4 -2.2M288.2 -13.8L279.1 3.9M292.2 -9.4L293.3 -9.9L294.8 -11.6L294.8 0M303.4 -11.6L301.9 -11L301.4 -9.9L301.4 -8.8L301.9 -7.7L302.9 -7.2L304.9 -6.6L306.5 -6.1L307.5 -5L308 -3.9L308 -2.2L307.5 -1.1L307 -0.6L305.4 0L303.4 0L301.9 -0.6L301.4 -1.1L300.9 -2.2L300.9 -3.9L301.4 -5L302.4 -6.1L303.9 -6.6L305.9 -7.2L307 -7.7L307.5 -8.8L307.5 -9.9L307 -11L305.4 -11.6L303.4 -11.6M312 -7.7L311.5 -7.2L312 -6.6L312.5 -7.2L312 -7.7M312 -1.1L311.5 -0.6L312 0L312.5 -0.6L312 -1.1M319.1 -11.6L317.6 -11L316.6 -9.4L316.1 -6.6L316.1 -5L316.6 -2.2L317.6 -0.6L319.1 0L320.1 0L321.7 -0.6L322.7 -2.2L323.2 -5L323.2 -6.6L322.7 -9.4L321.7 -11L320.1 -11.6L319.1 -11.6M332.3 -11.6L327.3 -11.6L326.7 -6.6L327.3 -7.2L328.8 -7.7L330.3 -7.7L331.8 -7.2L332.8 -6.1L333.3 -4.4L333.3 -3.3L332.8 -1.7L331.8 -0.6L330.3 0L328.8 0L327.3 -0.6L326.7 -1.1L326.2 -2.2M337.4 -7.7L336.9 -7.2L337.4 -6.6L337.9 -7.2L337.4 -7.7M337.4 -1.1L336.9 -0.6L337.4 0L337.9 -0.6L337.4 -1.1M346.5 -11.6L341.5 -3.9L349.1 -3.9M346.5 -11.6L346.5 0M357.7 -11.6L352.6 -11.6L352.1 -6.6L352.6 -7.2L354.1 -7.7L355.7 -7.7L357.2 -7.2L358.2 -6.1L358.7 -4.4L358.7 -3.3L358.2 -1.7L357.2 -0.6L355.7 0L354.1 0L352.6 -0.6L352.1 -1.1L351.6 -2.2M362.8 -1.1L362.3 -0.6L362.8 0L363.3 -0.6L362.8 -1.1M373.4 -9.9L372.9 -11L371.4 -11.6L370.4 -11.6L368.9 -11L367.8 -9.4L367.3 -6.6L367.3 -3.9L367.8 -1.7L368.9 -0.6L370.4 0L370.9 0L372.4 -0.6L373.4 -1.7L373.9 -3.3L373.9 -3.9L373.4 -5.5L372.4 -6.6L370.9 -7.2L370.4 -7.2L368.9 -6.6L367.8 -5.5L367.3 -3.9M380 -11.6L378.5 -11L377.5 -9.4L377 -6.6L377 -5L377.5 -2.2L378.5 -0.6L380 0L381 0L382.6 -0.6L383.6 -2.2L384.1 -5L384.1 -6.6L383.6 -9.4L382.6 -11L381 -11.6L380 -11.6M399.3 -13.8L398.3 -12.7L397.3 -11L396.3 -8.8L395.7 -6.1L395.7 -3.9L396.3 -1.1L397.3 1.1L398.3 2.8L399.3 3.9M402.9 -11.6L402.9 0M402.9 0L408.9 0M417.1 -7.7L417.1 0M417.1 -6.1L416 -7.2L415 -7.7L413.5 -7.7L412.5 -7.2L411.5 -6.1L411 -4.4L411 -3.3L411.5 -1.7L412.5 -0.6L413.5 0L415 0L416 -0.6L417.1 -1.7M421.6 -11.6L421.6 -2.2L422.1 -0.6L423.1 0L424.2 0M420.1 -7.7L423.7 -7.7M435.3 -13.8L426.2 3.9M438.4 -11.6L438.4 0M438.4 0L444.5 0M449 -7.7L448 -7.2L447 -6.1L446.5 -4.4L446.5 -3.3L447 -1.7L448 -0.6L449 0L450.5 0L451.6 -0.6L452.6 -1.7L453.1 -3.3L453.1 -4.4L452.6 -6.1L451.6 -7.2L450.5 -7.7L449 -7.7M456.6 -7.7L456.6 0M456.6 -5.5L458.2 -7.2L459.2 -7.7L460.7 -7.7L461.7 -7.2L462.2 -5.5L462.2 0M475.4 -9.4L476.4 -9.9L477.9 -11.6L477.9 0M489.1 -11.6L484 -3.9L491.6 -3.9M489.1 -11.6L489.1 0M495.2 -1.1L494.7 -0.6L495.2 0L495.7 -0.6L495.2 -1.1M506.4 -11.6L501.3 0M499.3 -11.6L506.4 -11.6M509.9 -8.8L509.9 -9.4L510.4 -10.5L510.9 -11L511.9 -11.6L514 -11.6L515 -11L515.5 -10.5L516 -9.4L516 -8.3L515.5 -7.2L514.5 -5.5L509.4 0L516.5 0M528.2 -13.8L519 3.9M532.2 -9.4L533.2 -9.9L534.8 -11.6L534.8 0M542.4 -9.4L543.4 -9.9L544.9 -11.6L544.9 0M558.1 -11.6L553 0M551 -11.6L558.1 -11.6M562.2 -1.1L561.7 -0.6L562.2 0L562.7 -0.6L562.2 -1.1M568.8 -11.6L567.2 -11L566.7 -9.9L566.7 -8.8L567.2 -7.7L568.3 -7.2L570.3 -6.6L571.8 -6.1L572.8 -5L573.3 -3.9L573.3 -2.2L572.8 -1.1L572.3 -0.6L570.8 0L568.8 0L567.2 -0.6L566.7 -1.1L566.2 -2.2L566.2 -3.9L566.7 -5L567.7 -6.1L569.3 -6.6L571.3 -7.2L572.3 -7.7L572.8 -8.8L572.8 -9.9L572.3 -11L570.8 -11.6L568.8 -11.6M583.5 -11.6L578.4 0M576.4 -11.6L583.5 -11.6M600.7 -11.6L600.7 0M600.7 -6.1L599.7 -7.2L598.7 -7.7L597.2 -7.7L596.2 -7.2L595.1 -6.1L594.6 -4.4L594.6 -3.3L595.1 -1.7L596.2 -0.6L597.2 0L598.7 0L599.7 -0.6L600.7 -1.7M604.3 -4.4L610.4 -4.4L610.4 -5.5L609.9 -6.6L609.3 -7.2L608.3 -7.7L606.8 -7.7L605.8 -7.2L604.8 -6.1L604.3 -4.4L604.3 -3.3L604.8 -1.7L605.8 -0.6L606.8 0L608.3 0L609.3 -0.6L610.4 -1.7M619.5 -7.7L619.5 1.1L619 2.8L618.5 3.3L617.5 3.9L615.9 3.9L614.9 3.3M619.5 -6.1L618.5 -7.2L617.5 -7.7L615.9 -7.7L614.9 -7.2L613.9 -6.1L613.4 -4.4L613.4 -3.3L613.9 -1.7L614.9 -0.6L615.9 0L617.5 0L618.5 -0.6L619.5 -1.7M623 -13.8L624.1 -12.7L625.1 -11L626.1 -8.8L626.6 -6.1L626.6 -3.9L626.1 -1.1L625.1 1.1L624.1 2.8L623 3.9" stroke="#000000" stroke-width="1.0" class="t"/><text transform="translate(85.3 51.8)" font-size="16.2" class="r">AIRS SkewT Diagram 2010-08-13/18:05:45.60 (Lat/Lon 14.72/117.87 deg)</text>
<path transform="translate(114.3 65.5)" d="M0 -3.1L6.1 -3.1M9.5 -5.9L10.2 -6.2L11.2 -7.2L11.2 0M15.6 -5.5L15.6 -5.9L16 -6.6L16.3 -6.9L17 -7.2L18.4 -7.2L19 -6.9L19.4 -6.6L19.7 -5.9L19.7 -5.2L19.4 -4.5L18.7 -3.4L15.3 0L20.1 0M24.1 -7.2L23.1 -6.9L22.4 -5.9L22.1 -4.1L22.1 -3.1L22.4 -1.4L23.1 -0.3L24.1 0L24.8 0L25.8 -0.3L26.5 -1.4L26.9 -3.1L26.9 -4.1L26.5 -5.9L25.8 -6.9L24.8 -7.2L24.1 -7.2" stroke="#ff0000" stroke-width="1.0" class="t"/><text transform="translate(114.3 65.5)" font-size="10.1" class="r">-120</text>
<path transform="translate(182 65.5)" d="M0 -3.1L6.1 -3.1M9.5 -5.9L10.2 -6.2L11.2 -7.2L11.2 0M16.3 -5.9L17 -6.2L18 -7.2L18 0M24.1 -7.2L23.1 -6.9L22.4 -5.9L22.1 -4.1L22.1 -3.1L22.4 -1.4L23.1 -0.3L24.1 0L24.8 0L25.8 -0.3L26.5 -1.4L26.9 -3.1L26.9 -4.1L26.5 -5.9L25.8 -6.9L24.8 -7.2L24.1 -7.2" stroke="#ff0000" stroke-width="1.0" class="t"/><text transform="translate(182 65.5)" font-size="10.1" class="r">-110</text>
<path transform="translate(249.7 65.5)" d="M0 -3.1L6.1 -3.1M9.5 -5.9L10.2 -6.2L11.2 -7.2L11.2 0M17.3 -7.2L16.3 -6.9L15.6 -5.9L15.3 -4.1L15.3 -3.1L15.6 -1.4L16.3 -0.3L17.3 0L18 0L19 -0.3L19.7 -1.4L20.1 -3.1L20.1 -4.1L19.7 -5.9L19 -6.9L18 -7.2L17.3 -7.2M24.1 -7.2L23.1 -6.9L22.4 -5.9L22.1 -4.1L22.1 -3.1L22.4 -1.4L23.1 -0.3L24.1 0L24.8 0L25.8 -0.3L26.5 -1.4L26.9 -3.1L26.9 -4.1L26.5 -5.9L25.8 -6.9L24.8 -7.2L24.1 -7.2" stroke="#ff0000" stroke-width="1.0" class="t"/><text transform="translate(249.7 65.5)" font-size="10.1" class="r">-100</text>
<path transform="translate(335 65.5)" d="M-10 -3.1L-3.9 -3.1M2.9 -4.8L2.6 -3.8L1.9 -3.1L0.9 -2.8L0.5 -2.8L-0.5 -3.1L-1.2 -3.8L-1.5 -4.8L-1.5 -5.2L-1.2 -6.2L-0.5 -6.9L0.5 -7.2L0.9 -7.2L1.9 -6.9L2.6 -6.2L2.9 -4.8L2.9 -3.1L2.6 -1.4L1.9 -0.3L0.9 0L0.2 0L-0.9 -0.3L-1.2 -1M7.3 -7.2L6.3 -6.9L5.6 -5.9L5.3 -4.1L5.3 -3.1L5.6 -1.4L6.3 -0.3L7.3 0L8 0L9 -0.3L9.7 -1.4L10 -3.1L10 -4.1L9.7 -5.9L9 -6.9L8 -7.2L7.3 -7.2" stroke="#ff0000" stroke-width="1.0" class="t"/><text transform="translate(335 65.5)" font-size="10.1" class="r">-90</text>
<path transform="translate(402.7 65.5)" d="M-10 -3.1L-3.9 -3.1M0.2 -7.2L-0.9 -6.9L-1.2 -6.2L-1.2 -5.5L-0.9 -4.8L-0.2 -4.5L1.2 -4.1L2.2 -3.8L2.9 -3.1L3.2 -2.4L3.2 -1.4L2.9 -0.7L2.6 -0.3L1.5 0L0.2 0L-0.9 -0.3L-1.2 -0.7L-1.5 -1.4L-1.5 -2.4L-1.2 -3.1L-0.5 -3.8L0.5 -4.1L1.9 -4.5L2.6 -4.8L2.9 -5.5L2.9 -6.2L2.6 -6.9L1.5 -7.2L0.2 -7.2M7.3 -7.2L6.3 -6.9L5.6 -5.9L5.3 -4.1L5.3 -3.1L5.6 -1.4L6.3 -0.3L7.3 0L8 0L9 -0.3L9.7 -1.4L10 -3.1L10 -4.1L9.7 -5.9L9 -6.9L8 -7.2L7.3 -7.2" stroke="#ff0000" stroke-width="1.0" class="t"/><text transform="translate(402.7 65.5)" font-size="10.1" class="r">-80</text>
<path transform="translate(470.5 65.5)" d="M-10 -3.1L-3.9 -3.1M3.2 -7.2L-0.2 0M-1.5 -7.2L3.2 -7.2M7.3 -7.2L6.3 -6.9L5.6 -5.9L5.3 -4.1L5.3 -3.1L5.6 -1.4L6.3 -0.3L7.3 0L8 0L9 -0.3L9.7 -1.4L10 -3.1L10 -4.1L9.7 -5.9L9 -6.9L8 -7.2L7.3 -7.2" stroke="#ff0000" stroke-width="1.0" class="t"/><text transform="translate(470.5 65.5)" font-size="10.1" class="r">-70</text>
<path transform="translate(538.3 65.5)" d="M-10 -3.1L-3.9 -3.1M2.9 -6.2L2.6 -6.9L1.5 -7.2L0.9 -7.2L-0.2 -6.9L-0.9 -5.9L-1.2 -4.1L-1.2 -2.4L-0.9 -1L-0.2 -0.3L0.9 0L1.2 0L2.2 -0.3L2.9 -1L3.2 -2.1L3.2 -2.4L2.9 -3.4L2.2 -4.1L1.2 -4.5L0.9 -4.5L-0.2 -4.1L-0.9 -3.4L-1.2 -2.4M7.3 -7.2L6.3 -6.9L5.6 -5.9L5.3 -4.1L5.3 -3.1L5.6 -1.4L6.3 -0.3L7.3 0L8 0L9 -0.3L9.7 -1.4L10 -3.1L10 -4.1L9.7 -5.9L9 -6.9L8 -7.2L7.3 -7.2" stroke="#ff0000" stroke-width="1.0" class="t"/><text transform="translate(538.3 65.5)" font-size="10.1" class="r">-60</text>
<path transform="translate(606.1 65.5)" d="M-10 -3.1L-3.9 -3.1M2.6 -7.2L-0.9 -7.2L-1.2 -4.1L-0.9 -4.5L0.2 -4.8L1.2 -4.8L2.2 -4.5L2.9 -3.8L3.2 -2.8L3.2 -2.1L2.9 -1L2.2 -0.3L1.2 0L0.2 0L-0.9 -0.3L-1.2 -0.7L-1.5 -1.4M7.3 -7.2L6.3 -6.9L5.6 -5.9L5.3 -4.1L5.3 -3.1L5.6 -1.4L6.3 -0.3L7.3 0L8 0L9 -0.3L9.7 -1.4L10 -3.1L10 -4.1L9.7 -5.9L9 -6.9L8 -7.2L7.3 -7.2" stroke="#ff0000" stroke-width="1.0" class="t"/><text transform="translate(606.1 65.5)" font-size="10.1" class="r">-50</text>
<path transform="translate(673.9 65.5)" d="M-10 -3.1L-3.9 -3.1M1.9 -7.2L-1.5 -2.4L3.6 -2.4M1.9 -7.2L1.9 0M7.3 -7.2L6.3 -6.9L5.6 -5.9L5.3 -4.1L5.3 -3.1L5.6 -1.4L6.3 -0.3L7.3 0L8 0L9 -0.3L9.7 -1.4L10 -3.1L10 -4.1L9.7 -5.9L9 -6.9L8 -7.2L7.3 -7.2" stroke="#ff0000" stroke-width="1.0" class="t"/><text transform="translate(673.9 65.5)" font-size="10.1" class="r">-40</text>
<path transform="translate(98.4 517)" d="M-10 -3.1L-3.9 -3.1M2.6 -7.2L-0.9 -7.2L-1.2 -4.1L-0.9 -4.5L0.2 -4.8L1.2 -4.8L2.2 -4.5L2.9 -3.8L3.2 -2.8L3.2 -2.1L2.9 -1L2.2 -0.3L1.2 0L0.2 0L-0.9 -0.3L-1.2 -0.7L-1.5 -1.4M7.3 -7.2L6.3 -6.9L5.6 -5.9L5.3 -4.1L5.3 -3.1L5.6 -1.4L6.3 -0.3L7.3 0L8 0L9 -0.3L9.7 -1.4L10 -3.1L10 -4.1L9.7 -5.9L9 -6.9L8 -7.2L7.3 -7.2" stroke="#ff0000" stroke-width="1.0" class="t"/><text transform="translate(98.4 517)" font-size="10.1" class="r">-50</text>
<path transform="translate(166.2 517)" d="M-10 -3.1L-3.9 -3.1M1.9 -7.2L-1.5 -2.4L3.6 -2.4M1.9 -7.2L1.9 0M7.3 -7.2L6.3 -6.9L5.6 -5.9L5.3 -4.1L5.3 -3.1L5.6 -1.4L6.3 -0.3L7.3 0L8 0L9 -0.3L9.7 -1.4L10 -3.1L10 -4.1L9.7 -5.9L9 -6.9L8 -7.2L7.3 -7.2" stroke="#ff0000" stroke-width="1.0" class="t"/><text transform="translate(166.2 517)" font-size="10.1" class="r">-40</text>
<path transform="translate(234 517)" d="M-10 -3.1L-3.9 -3.1M-0.9 -7.2L2.9 -7.2L0.9 -4.5L1.9 -4.5L2.6 -4.1L2.9 -3.8L3.2 -2.8L3.2 -2.1L2.9 -1L2.2 -0.3L1.2 0L0.2 0L-0.9 -0.3L-1.2 -0.7L-1.5 -1.4M7.3 -7.2L6.3 -6.9L5.6 -5.9L5.3 -4.1L5.3 -3.1L5.6 -1.4L6.3 -0.3L7.3 0L8 0L9 -0.3L9.7 -1.4L10 -3.1L10 -4.1L9.7 -5.9L9 -6.9L8 -7.2L7.3 -7.2" stroke="#ff0000" stroke-width="1.0" class="t"/><text transform="translate(234 517)" font-size="10.1" class="r">-30</text>
<path transform="translate(301.7 517)" d="M-10 -3.1L-3.9 -3.1M-1.2 -5.5L-1.2 -5.9L-0.9 -6.6L-0.5 -6.9L0.2 -7.2L1.5 -7.2L2.2 -6.9L2.6 -6.6L2.9 -5.9L2.9 -5.2L2.6 -4.5L1.9 -3.4L-1.5 0L3.2 0M7.3 -7.2L6.3 -6.9L5.6 -5.9L5.3 -4.1L5.3 -3.1L5.6 -1.4L6.3 -0.3L7.3 0L8 0L9 -0.3L9.7 -1.4L10 -3.1L10 -4.1L9.7 -5.9L9 -6.9L8 -7.2L7.3 -7.2" stroke="#ff0000" stroke-width="1.0" class="t"/><text transform="translate(301.7 517)" font-size="10.1" class="r">-20</text>
<path transform="translate(369.5 517)" d="M-10 -3.1L-3.9 -3.1M-0.5 -5.9L0.2 -6.2L1.2 -7.2L1.2 0M7.3 -7.2L6.3 -6.9L5.6 -5.9L5.3 -4.1L5.3 -3.1L5.6 -1.4L6.3 -0.3L7.3 0L8 0L9 -0.3L9.7 -1.4L10 -3.1L10 -4.1L9.7 -5.9L9 -6.9L8 -7.2L7.3 -7.2" stroke="#ff0000" stroke-width="1.0" class="t"/><text transform="translate(369.5 517)" font-size="10.1" class="r">-10</text>
<path transform="translate(437.3 517)" d="M-0.3 -7.2L-1.4 -6.9L-2 -5.9L-2.4 -4.1L-2.4 -3.1L-2 -1.4L-1.4 -0.3L-0.3 0L0.3 0L1.4 -0.3L2 -1.4L2.4 -3.1L2.4 -4.1L2 -5.9L1.4 -6.9L0.3 -7.2L-0.3 -7.2" stroke="#ff0000" stroke-width="1.0" class="t"/><text transform="translate(437.3 517)" font-size="10.1" class="r">0</text>
<path transform="translate(505.1 517)" d="M-5.3 -5.9L-4.6 -6.2L-3.6 -7.2L-3.6 0M2.6 -7.2L1.5 -6.9L0.9 -5.9L0.5 -4.1L0.5 -3.1L0.9 -1.4L1.5 -0.3L2.6 0L3.2 0L4.2 -0.3L4.9 -1.4L5.3 -3.1L5.3 -4.1L4.9 -5.9L4.2 -6.9L3.2 -7.2L2.6 -7.2" stroke="#ff0000" stroke-width="1.0" class="t"/><text transform="translate(505.1 517)" font-size="10.1" class="r">10</text>
<path transform="translate(572.9 517)" d="M-5.4 -5.5L-5.4 -5.9L-5.1 -6.6L-4.8 -6.9L-4.1 -7.2L-2.7 -7.2L-2 -6.9L-1.7 -6.6L-1.4 -5.9L-1.4 -5.2L-1.7 -4.5L-2.4 -3.4L-5.8 0L-1 0M3.1 -7.2L2 -6.9L1.4 -5.9L1 -4.1L1 -3.1L1.4 -1.4L2 -0.3L3.1 0L3.7 0L4.8 -0.3L5.4 -1.4L5.8 -3.1L5.8 -4.1L5.4 -5.9L4.8 -6.9L3.7 -7.2L3.1 -7.2" stroke="#ff0000" stroke-width="1.0" class="t"/><text transform="translate(572.9 517)" font-size="10.1" class="r">20</text>
<path transform="translate(640.6 517)" d="M-5.1 -7.2L-1.4 -7.2L-3.4 -4.5L-2.4 -4.5L-1.7 -4.1L-1.4 -3.8L-1 -2.8L-1 -2.1L-1.4 -1L-2 -0.3L-3.1 0L-4.1 0L-5.1 -0.3L-5.4 -0.7L-5.8 -1.4M3.1 -7.2L2 -6.9L1.4 -5.9L1 -4.1L1 -3.1L1.4 -1.4L2 -0.3L3.1 0L3.7 0L4.8 -0.3L5.4 -1.4L5.8 -3.1L5.8 -4.1L5.4 -5.9L4.8 -6.9L3.7 -7.2L3.1 -7.2" stroke="#ff0000" stroke-width="1.0" class="t"/><text transform="translate(640.6 517)" font-size="10.1" class="r">30</text>
<path transform="translate(677.8 517)" d="M2.4 -7.2L2.4 0M0 -7.2L4.8 -7.2M8.8 -8.6L8.2 -7.9L7.5 -6.9L6.8 -5.5L6.5 -3.8L6.5 -2.4L6.8 -0.7L7.5 0.7L8.2 1.7L8.8 2.4M16 -5.5L15.6 -6.2L15 -6.9L14.3 -7.2L12.9 -7.2L12.2 -6.9L11.6 -6.2L11.2 -5.5L10.9 -4.5L10.9 -2.8L11.2 -1.7L11.6 -1L12.2 -0.3L12.9 0L14.3 0L15 -0.3L15.6 -1L16 -1.7M18 -8.6L18.7 -7.9L19.4 -6.9L20.1 -5.5L20.4 -3.8L20.4 -2.4L20.1 -0.7L19.4 0.7L18.7 1.7L18 2.4" stroke="#ff0000" stroke-width="1.0" class="t"/><text transform="translate(677.8 517)" font-size="10.1" class="r">T(C)</text>
<path transform="translate(66.6 74.9)" d="M-17.3 -5.9L-16.7 -6.2L-15.6 -7.2L-15.6 0M-9.5 -7.2L-10.5 -6.9L-11.2 -5.9L-11.6 -4.1L-11.6 -3.1L-11.2 -1.4L-10.5 -0.3L-9.5 0L-8.8 0L-7.8 -0.3L-7.1 -1.4L-6.8 -3.1L-6.8 -4.1L-7.1 -5.9L-7.8 -6.9L-8.8 -7.2L-9.5 -7.2M-2.7 -7.2L-3.7 -6.9L-4.4 -5.9L-4.8 -4.1L-4.8 -3.1L-4.4 -1.4L-3.7 -0.3L-2.7 0L-2 0L-1 -0.3L-0.3 -1.4L0 -3.1L0 -4.1L-0.3 -5.9L-1 -6.9L-2 -7.2L-2.7 -7.2" stroke="#000000" stroke-width="1.0" class="t"/><text transform="translate(66.6 74.9)" font-size="10.1" class="r">100</text>
<path transform="translate(66.6 201.3)" d="M-18 -5.5L-18 -5.9L-17.7 -6.6L-17.3 -6.9L-16.7 -7.2L-15.3 -7.2L-14.6 -6.9L-14.3 -6.6L-13.9 -5.9L-13.9 -5.2L-14.3 -4.5L-15 -3.4L-18.4 0L-13.6 0M-9.5 -7.2L-10.5 -6.9L-11.2 -5.9L-11.6 -4.1L-11.6 -3.1L-11.2 -1.4L-10.5 -0.3L-9.5 0L-8.8 0L-7.8 -0.3L-7.1 -1.4L-6.8 -3.1L-6.8 -4.1L-7.1 -5.9L-7.8 -6.9L-8.8 -7.2L-9.5 -7.2M-2.7 -7.2L-3.7 -6.9L-4.4 -5.9L-4.8 -4.1L-4.8 -3.1L-4.4 -1.4L-3.7 -0.3L-2.7 0L-2 0L-1 -0.3L-0.3 -1.4L0 -3.1L0 -4.1L-0.3 -5.9L-1 -6.9L-2 -7.2L-2.7 -7.2" stroke="#000000" stroke-width="1.0" class="t"/><text transform="translate(66.6 201.3)" font-size="10.1" class="r">200</text>
<path transform="translate(66.6 275.3)" d="M-17.7 -7.2L-13.9 -7.2L-16 -4.5L-15 -4.5L-14.3 -4.1L-13.9 -3.8L-13.6 -2.8L-13.6 -2.1L-13.9 -1L-14.6 -0.3L-15.6 0L-16.7 0L-17.7 -0.3L-18 -0.7L-18.4 -1.4M-9.5 -7.2L-10.5 -6.9L-11.2 -5.9L-11.6 -4.1L-11.6 -3.1L-11.2 -1.4L-10.5 -0.3L-9.5 0L-8.8 0L-7.8 -0.3L-7.1 -1.4L-6.8 -3.1L-6.8 -4.1L-7.1 -5.9L-7.8 -6.9L-8.8 -7.2L-9.5 -7.2M-2.7 -7.2L-3.7 -6.9L-4.4 -5.9L-4.8 -4.1L-4.8 -3.1L-4.4 -1.4L-3.7 -0.3L-2.7 0L-2 0L-1 -0.3L-0.3 -1.4L0 -3.1L0 -4.1L-0.3 -5.9L-1 -6.9L-2 -7.2L-2.7 -7.2" stroke="#000000" stroke-width="1.0" class="t"/><text transform="translate(66.6 275.3)" font-size="10.1" class="r">300</text>
<path transform="translate(66.6 327.8)" d="M-15 -7.2L-18.4 -2.4L-13.3 -2.4M-15 -7.2L-15 0M-9.5 -7.2L-10.5 -6.9L-11.2 -5.9L-11.6 -4.1L-11.6 -3.1L-11.2 -1.4L-10.5 -0.3L-9.5 0L-8.8 0L-7.8 -0.3L-7.1 -1.4L-6.8 -3.1L-6.8 -4.1L-7.1 -5.9L-7.8 -6.9L-8.8 -7.2L-9.5 -7.2M-2.7 -7.2L-3.7 -6.9L-4.4 -5.9L-4.8 -4.1L-4.8 -3.1L-4.4 -1.4L-3.7 -0.3L-2.7 0L-2 0L-1 -0.3L-0.3 -1.4L0 -3.1L0 -4.1L-0.3 -5.9L-1 -6.9L-2 -7.2L-2.7 -7.2" stroke="#000000" stroke-width="1.0" class="t"/><text transform="translate(66.6 327.8)" font-size="10.1" class="r">400</text>
<path transform="translate(66.6 368.5)" d="M-14.3 -7.2L-17.7 -7.2L-18 -4.1L-17.7 -4.5L-16.7 -4.8L-15.6 -4.8L-14.6 -4.5L-13.9 -3.8L-13.6 -2.8L-13.6 -2.1L-13.9 -1L-14.6 -0.3L-15.6 0L-16.7 0L-17.7 -0.3L-18 -0.7L-18.4 -1.4M-9.5 -7.2L-10.5 -6.9L-11.2 -5.9L-11.6 -4.1L-11.6 -3.1L-11.2 -1.4L-10.5 -0.3L-9.5 0L-8.8 0L-7.8 -0.3L-7.1 -1.4L-6.8 -3.1L-6.8 -4.1L-7.1 -5.9L-7.8 -6.9L-8.8 -7.2L-9.5 -7.2M-2.7 -7.2L-3.7 -6.9L-4.4 -5.9L-4.8 -4.1L-4.8 -3.1L-4.4 -1.4L-3.7 -0.3L-2.7 0L-2 0L-1 -0.3L-0.3 -1.4L0 -3.1L0 -4.1L-0.3 -5.9L-1 -6.9L-2 -7.2L-2.7 -7.2" stroke="#000000" stroke-width="1.0" class="t"/><text transform="translate(66.6 368.5)" font-size="10.1" class="r">500</text>
<path transform="translate(66.6 401.7)" d="M-13.9 -6.2L-14.3 -6.9L-15.3 -7.2L-16 -7.2L-17 -6.9L-17.7 -5.9L-18 -4.1L-18 -2.4L-17.7 -1L-17 -0.3L-16 0L-15.6 0L-14.6 -0.3L-13.9 -1L-13.6 -2.1L-13.6 -2.4L-13.9 -3.4L-14.6 -4.1L-15.6 -4.5L-16 -4.5L-17 -4.1L-17.7 -3.4L-18 -2.4M-9.5 -7.2L-10.5 -6.9L-11.2 -5.9L-11.6 -4.1L-11.6 -3.1L-11.2 -1.4L-10.5 -0.3L-9.5 0L-8.8 0L-7.8 -0.3L-7.1 -1.4L-6.8 -3.1L-6.8 -4.1L-7.1 -5.9L-7.8 -6.9L-8.8 -7.2L-9.5 -7.2M-2.7 -7.2L-3.7 -6.9L-4.4 -5.9L-4.8 -4.1L-4.8 -3.1L-4.4 -1.4L-3.7 -0.3L-2.7 0L-2 0L-1 -0.3L-0.3 -1.4L0 -3.1L0 -4.1L-0.3 -5.9L-1 -6.9L-2 -7.2L-2.7 -7.2" stroke="#000000" stroke-width="1.0" class="t"/><text transform="translate(66.6 401.7)" font-size="10.1" class="r">600</text>
<path transform="translate(66.6 429.8)" d="M-13.6 -7.2L-17 0M-18.4 -7.2L-13.6 -7.2M-9.5 -7.2L-10.5 -6.9L-11.2 -5.9L-11.6 -4.1L-11.6 -3.1L-11.2 -1.4L-10.5 -0.3L-9.5 0L-8.8 0L-7.8 -0.3L-7.1 -1.4L-6.8 -3.1L-6.8 -4.1L-7.1 -5.9L-7.8 -6.9L-8.8 -7.2L-9.5 -7.2M-2.7 -7.2L-3.7 -6.9L-4.4 -5.9L-4.8 -4.1L-4.8 -3.1L-4.4 -1.4L-3.7 -0.3L-2.7 0L-2 0L-1 -0.3L-0.3 -1.4L0 -3.1L0 -4.1L-0.3 -5.9L-1 -6.9L-2 -7.2L-2.7 -7.2" stroke="#000000" stroke-width="1.0" class="t"/><text transform="translate(66.6 429.8)" font-size="10.1" class="r">700</text>
<path transform="translate(66.6 454.2)" d="M-16.7 -7.2L-17.7 -6.9L-18 -6.2L-18 -5.5L-17.7 -4.8L-17 -4.5L-15.6 -4.1L-14.6 -3.8L-13.9 -3.1L-13.6 -2.4L-13.6 -1.4L-13.9 -0.7L-14.3 -0.3L-15.3 0L-16.7 0L-17.7 -0.3L-18 -0.7L-18.4 -1.4L-18.4 -2.4L-18 -3.1L-17.3 -3.8L-16.3 -4.1L-15 -4.5L-14.3 -4.8L-13.9 -5.5L-13.9 -6.2L-14.3 -6.9L-15.3 -7.2L-16.7 -7.2M-9.5 -7.2L-10.5 -6.9L-11.2 -5.9L-11.6 -4.1L-11.6 -3.1L-11.2 -1.4L-10.5 -0.3L-9.5 0L-8.8 0L-7.8 -0.3L-7.1 -1.4L-6.8 -3.1L-6.8 -4.1L-7.1 -5.9L-7.8 -6.9L-8.8 -7.2L-9.5 -7.2M-2.7 -7.2L-3.7 -6.9L-4.4 -5.9L-4.8 -4.1L-4.8 -3.1L-4.4 -1.4L-3.7 -0.3L-2.7 0L-2 0L-1 -0.3L-0.3 -1.4L0 -3.1L0 -4.1L-0.3 -5.9L-1 -6.9L-2 -7.2L-2.7 -7.2" stroke="#000000" stroke-width="1.0" class="t"/><text transform="translate(66.6 454.2)" font-size="10.1" class="r">800</text>
<path transform="translate(66.6 475.7)" d="M-13.9 -4.8L-14.3 -3.8L-15 -3.1L-16 -2.8L-16.3 -2.8L-17.3 -3.1L-18 -3.8L-18.4 -4.8L-18.4 -5.2L-18 -6.2L-17.3 -6.9L-16.3 -7.2L-16 -7.2L-15 -6.9L-14.3 -6.2L-13.9 -4.8L-13.9 -3.1L-14.3 -1.4L-15 -0.3L-16 0L-16.7 0L-17.7 -0.3L-18 -1M-9.5 -7.2L-10.5 -6.9L-11.2 -5.9L-11.6 -4.1L-11.6 -3.1L-11.2 -1.4L-10.5 -0.3L-9.5 0L-8.8 0L-7.8 -0.3L-7.1 -1.4L-6.8 -3.1L-6.8 -4.1L-7.1 -5.9L-7.8 -6.9L-8.8 -7.2L-9.5 -7.2M-2.7 -7.2L-3.7 -6.9L-4.4 -5.9L-4.8 -4.1L-4.8 -3.1L-4.4 -1.4L-3.7 -0.3L-2.7 0L-2 0L-1 -0.3L-0.3 -1.4L0 -3.1L0 -4.1L-0.3 -5.9L-1 -6.9L-2 -7.2L-2.7 -7.2" stroke="#000000" stroke-width="1.0" class="t"/><text transform="translate(66.6 475.7)" font-size="10.1" class="r">900</text>
<path transform="translate(66.6 494.9)" d="M-24.1 -5.9L-23.5 -6.2L-22.4 -7.2L-22.4 0M-16.3 -7.2L-17.3 -6.9L-18 -5.9L-18.4 -4.1L-18.4 -3.1L-18 -1.4L-17.3 -0.3L-16.3 0L-15.6 0L-14.6 -0.3L-13.9 -1.4L-13.6 -3.1L-13.6 -4.1L-13.9 -5.9L-14.6 -6.9L-15.6 -7.2L-16.3 -7.2M-9.5 -7.2L-10.5 -6.9L-11.2 -5.9L-11.6 -4.1L-11.6 -3.1L-11.2 -1.4L-10.5 -0.3L-9.5 0L-8.8 0L-7.8 -0.3L-7.1 -1.4L-6.8 -3.1L-6.8 -4.1L-7.1 -5.9L-7.8 -6.9L-8.8 -7.2L-9.5 -7.2M-2.7 -7.2L-3.7 -6.9L-4.4 -5.9L-4.8 -4.1L-4.8 -3.1L-4.4 -1.4L-3.7 -0.3L-2.7 0L-2 0L-1 -0.3L-0.3 -1.4L0 -3.1L0 -4.1L-0.3 -5.9L-1 -6.9L-2 -7.2L-2.7 -7.2" stroke="#000000" stroke-width="1.0" class="t"/><text transform="translate(66.6 494.9)" font-size="10.1" class="r">1000</text>
<path transform="translate(81.5 333) rotate(-90)" d="M0 -9L0 0M0 -9L3.9 -9L5.2 -8.6L5.7 -8.2L6.1 -7.3L6.1 -6L5.7 -5.2L5.2 -4.7L3.9 -4.3L0 -4.3M9.2 -9L9.2 0M9.2 -9L13.1 -9L14.4 -8.6L14.8 -8.2L15.3 -7.3L15.3 -6.5L14.8 -5.6L14.4 -5.2L13.1 -4.7L9.2 -4.7M12.2 -4.7L15.3 0M18.3 -9L18.3 0M18.3 -9L24 -9M18.3 -4.7L21.8 -4.7M18.3 0L24 0M32.3 -7.7L31.4 -8.6L30.1 -9L28.4 -9L27.1 -8.6L26.2 -7.7L26.2 -6.9L26.6 -6L27.1 -5.6L27.9 -5.2L30.6 -4.3L31.4 -3.9L31.9 -3.4L32.3 -2.6L32.3 -1.3L31.4 -0.4L30.1 0L28.4 0L27.1 -0.4L26.2 -1.3M41 -7.7L40.2 -8.6L38.8 -9L37.1 -9L35.8 -8.6L34.9 -7.7L34.9 -6.9L35.4 -6L35.8 -5.6L36.7 -5.2L39.3 -4.3L40.2 -3.9L40.6 -3.4L41 -2.6L41 -1.3L40.2 -0.4L38.8 0L37.1 0L35.8 -0.4L34.9 -1.3M44.1 -9L44.1 -2.6L44.5 -1.3L45.4 -0.4L46.7 0L47.6 0L48.9 -0.4L49.8 -1.3L50.2 -2.6L50.2 -9M53.7 -9L53.7 0M53.7 -9L57.6 -9L58.9 -8.6L59.4 -8.2L59.8 -7.3L59.8 -6.5L59.4 -5.6L58.9 -5.2L57.6 -4.7L53.7 -4.7M56.7 -4.7L59.8 0M62.9 -9L62.9 0M62.9 -9L68.5 -9M62.9 -4.7L66.3 -4.7M62.9 0L68.5 0M81.2 -10.8L80.3 -9.9L79.4 -8.6L78.6 -6.9L78.1 -4.7L78.1 -3L78.6 -0.9L79.4 0.9L80.3 2.1L81.2 3M84.2 -9L84.2 0M84.2 -9L87.7 0M91.2 -9L87.7 0M91.2 -9L91.2 0M94.7 -9L94.7 0M94.7 -9L98.6 -9L100 -8.6L100.4 -8.2L100.8 -7.3L100.8 -6.5L100.4 -5.6L100 -5.2L98.6 -4.7M94.7 -4.7L98.6 -4.7L100 -4.3L100.4 -3.9L100.8 -3L100.8 -1.7L100.4 -0.9L100 -0.4L98.6 0L94.7 0M103.4 -10.8L104.3 -9.9L105.2 -8.6L106.1 -6.9L106.5 -4.7L106.5 -3L106.1 -0.9L105.2 0.9L104.3 2.1L103.4 3" stroke="#000000" stroke-width="1.0" class="t"/><text transform="translate(81.5 333) rotate(-90)" font-size="12.6" class="r">PRESSURE (MB)</text>
<path transform="translate(117 116.5)" d="M4.8 -12.5L0 0M4.8 -12.5L9.5 0M1.8 -4.2L7.7 -4.2M12.5 -8.3L12.5 0M12.5 -5.9L14.3 -7.7L15.4 -8.3L17.2 -8.3L18.4 -7.7L19 -5.9L19 0M19 -5.9L20.8 -7.7L22 -8.3L23.8 -8.3L24.9 -7.7L25.5 -5.9L25.5 0M30.3 -12.5L30.3 0M30.3 -6.5L31.5 -7.7L32.7 -8.3L34.5 -8.3L35.6 -7.7L36.8 -6.5L37.4 -4.8L37.4 -3.6L36.8 -1.8L35.6 -0.6L34.5 0L32.7 0L31.5 -0.6L30.3 -1.8M41 -12.5L41.6 -11.9L42.2 -12.5L41.6 -13.1L41 -12.5M41.6 -8.3L41.6 0M45.7 -4.8L52.9 -4.8L52.9 -5.9L52.3 -7.1L51.7 -7.7L50.5 -8.3L48.7 -8.3L47.5 -7.7L46.3 -6.5L45.7 -4.8L45.7 -3.6L46.3 -1.8L47.5 -0.6L48.7 0L50.5 0L51.7 -0.6L52.9 -1.8M57 -8.3L57 0M57 -5.9L58.8 -7.7L60 -8.3L61.8 -8.3L63 -7.7L63.6 -5.9L63.6 0M68.9 -12.5L68.9 -2.4L69.5 -0.6L70.7 0L71.9 0M67.1 -8.3L71.3 -8.3M87.9 -12.5L83.2 0M87.9 -12.5L92.7 0M84.9 -4.2L90.9 -4.2M95 -12.5L95.6 -11.9L96.2 -12.5L95.6 -13.1L95 -12.5M95.6 -8.3L95.6 0M100.4 -8.3L100.4 0M100.4 -4.8L101 -6.5L102.2 -7.7L103.4 -8.3L105.1 -8.3M120 -12.5L120 0M115.8 -12.5L124.1 -12.5M126.5 -4.8L133.7 -4.8L133.7 -5.9L133.1 -7.1L132.5 -7.7L131.3 -8.3L129.5 -8.3L128.3 -7.7L127.1 -6.5L126.5 -4.8L126.5 -3.6L127.1 -1.8L128.3 -0.6L129.5 0L131.3 0L132.5 -0.6L133.7 -1.8M137.8 -8.3L137.8 0M137.8 -5.9L139.6 -7.7L140.8 -8.3L142.6 -8.3L143.7 -7.7L144.3 -5.9L144.3 0M144.3 -5.9L146.1 -7.7L147.3 -8.3L149.1 -8.3L150.3 -7.7L150.9 -5.9L150.9 0M155.6 -8.3L155.6 4.2M155.6 -6.5L156.8 -7.7L158 -8.3L159.8 -8.3L161 -7.7L162.2 -6.5L162.8 -4.8L162.8 -3.6L162.2 -1.8L161 -0.6L159.8 0L158 0L156.8 -0.6L155.6 -1.8" stroke="#ff0000" stroke-width="1" class="t"/><text transform="translate(117 116.5)" font-size="17.5" class="r">Ambient Air Temp</text>
<path transform="translate(119.2 137.5)" d="M0 -12.5L0 0M0 -12.5L4.2 -12.5L5.9 -11.9L7.1 -10.7L7.7 -9.5L8.3 -7.7L8.3 -4.8L7.7 -3L7.1 -1.8L5.9 -0.6L4.2 0L0 0M11.9 -4.8L19 -4.8L19 -5.9L18.4 -7.1L17.8 -7.7L16.6 -8.3L14.8 -8.3L13.7 -7.7L12.5 -6.5L11.9 -4.8L11.9 -3.6L12.5 -1.8L13.7 -0.6L14.8 0L16.6 0L17.8 -0.6L19 -1.8M22.6 -8.3L24.9 0M27.3 -8.3L24.9 0M27.3 -8.3L29.7 0M32.1 -8.3L29.7 0M45.7 -12.5L45.7 0M45.7 -12.5L51.1 -12.5L52.9 -11.9L53.5 -11.3L54.1 -10.1L54.1 -8.3L53.5 -7.1L52.9 -6.5L51.1 -5.9L45.7 -5.9M60.6 -8.3L59.4 -7.7L58.2 -6.5L57.6 -4.8L57.6 -3.6L58.2 -1.8L59.4 -0.6L60.6 0L62.4 0L63.6 -0.6L64.7 -1.8L65.3 -3.6L65.3 -4.8L64.7 -6.5L63.6 -7.7L62.4 -8.3L60.6 -8.3M68.9 -12.5L69.5 -11.9L70.1 -12.5L69.5 -13.1L68.9 -12.5M69.5 -8.3L69.5 0M74.2 -8.3L74.2 0M74.2 -5.9L76 -7.7L77.2 -8.3L79 -8.3L80.2 -7.7L80.8 -5.9L80.8 0M86.1 -12.5L86.1 -2.4L86.7 -0.6L87.9 0L89.1 0M84.3 -8.3L88.5 -8.3M104.5 -12.5L104.5 0M100.4 -12.5L108.7 -12.5M111.1 -4.8L118.2 -4.8L118.2 -5.9L117.6 -7.1L117 -7.7L115.8 -8.3L114 -8.3L112.9 -7.7L111.7 -6.5L111.1 -4.8L111.1 -3.6L111.7 -1.8L112.9 -0.6L114 0L115.8 0L117 -0.6L118.2 -1.8M122.4 -8.3L122.4 0M122.4 -5.9L124.1 -7.7L125.3 -8.3L127.1 -8.3L128.3 -7.7L128.9 -5.9L128.9 0M128.9 -5.9L130.7 -7.7L131.9 -8.3L133.7 -8.3L134.8 -7.7L135.4 -5.9L135.4 0M140.2 -8.3L140.2 4.2M140.2 -6.5L141.4 -7.7L142.6 -8.3L144.3 -8.3L145.5 -7.7L146.7 -6.5L147.3 -4.8L147.3 -3.6L146.7 -1.8L145.5 -0.6L144.3 0L142.6 0L141.4 -0.6L140.2 -1.8" stroke="#0000ff" stroke-width="1" class="t"/><text transform="translate(119.2 137.5)" font-size="17.5" class="r">Dew Point Temp</text>
<path transform="translate(117 159)" d="M4.8 -12.5L0 0M4.8 -12.5L9.5 0M1.8 -4.2L7.7 -4.2M11.9 -12.5L12.5 -11.9L13.1 -12.5L12.5 -13.1L11.9 -12.5M12.5 -8.3L12.5 0M17.2 -8.3L17.2 0M17.2 -4.8L17.8 -6.5L19 -7.7L20.2 -8.3L22 -8.3M34.5 -12.5L34.5 0M34.5 -12.5L39.8 -12.5L41.6 -11.9L42.2 -11.3L42.8 -10.1L42.8 -8.3L42.2 -7.1L41.6 -6.5L39.8 -5.9L34.5 -5.9M53.5 -8.3L53.5 0M53.5 -6.5L52.3 -7.7L51.1 -8.3L49.3 -8.3L48.1 -7.7L46.9 -6.5L46.3 -4.8L46.3 -3.6L46.9 -1.8L48.1 -0.6L49.3 0L51.1 0L52.3 -0.6L53.5 -1.8M58.2 -8.3L58.2 0M58.2 -4.8L58.8 -6.5L60 -7.7L61.2 -8.3L63 -8.3M72.5 -6.5L71.3 -7.7L70.1 -8.3L68.3 -8.3L67.1 -7.7L65.9 -6.5L65.3 -4.8L65.3 -3.6L65.9 -1.8L67.1 -0.6L68.3 0L70.1 0L71.3 -0.6L72.5 -1.8M76 -4.8L83.2 -4.8L83.2 -5.9L82.6 -7.1L82 -7.7L80.8 -8.3L79 -8.3L77.8 -7.7L76.6 -6.5L76 -4.8L76 -3.6L76.6 -1.8L77.8 -0.6L79 0L80.8 0L82 -0.6L83.2 -1.8M87.3 -12.5L87.3 0M103.9 -12.5L103.9 0M99.8 -12.5L108.1 -12.5M110.5 -4.8L117.6 -4.8L117.6 -5.9L117 -7.1L116.4 -7.7L115.2 -8.3L113.5 -8.3L112.3 -7.7L111.1 -6.5L110.5 -4.8L110.5 -3.6L111.1 -1.8L112.3 -0.6L113.5 0L115.2 0L116.4 -0.6L117.6 -1.8M121.8 -8.3L121.8 0M121.8 -5.9L123.6 -7.7L124.7 -8.3L126.5 -8.3L127.7 -7.7L128.3 -5.9L128.3 0M128.3 -5.9L130.1 -7.7L131.3 -8.3L133.1 -8.3L134.2 -7.7L134.8 -5.9L134.8 0M139.6 -8.3L139.6 4.2M139.6 -6.5L140.8 -7.7L142 -8.3L143.7 -8.3L144.9 -7.7L146.1 -6.5L146.7 -4.8L146.7 -3.6L146.1 -1.8L144.9 -0.6L143.7 0L142 0L140.8 -0.6L139.6 -1.8" stroke="#58089c" stroke-width="1" class="t"/><text transform="translate(117 159)" font-size="17.5" class="r">Air Parcel Temp</text>
<path transform="translate(701.9 84.7)" d="M3 -9.1L3 0M0 -9.1L5.9 -9.1M8 -9.1L8 0M8 -9.1L11.8 -9.1L13.1 -8.6L13.5 -8.2L13.9 -7.3L13.9 -6L13.5 -5.2L13.1 -4.8L11.8 -4.3L8 -4.3M17.3 -6L16.9 -5.6L17.3 -5.2L17.7 -5.6L17.3 -6M17.3 -0.9L16.9 -0.4L17.3 0L17.7 -0.4L17.3 -0.9M22 -7.3L22.8 -7.8L24.1 -9.1L24.1 0M31.7 -9.1L30.4 -8.6L29.6 -7.3L29.2 -5.2L29.2 -3.9L29.6 -1.7L30.4 -0.4L31.7 0L32.5 0L33.8 -0.4L34.6 -1.7L35.1 -3.9L35.1 -5.2L34.6 -7.3L33.8 -8.6L32.5 -9.1L31.7 -9.1M40.1 -9.1L38.9 -8.6L38 -7.3L37.6 -5.2L37.6 -3.9L38 -1.7L38.9 -0.4L40.1 0L41 0L42.2 -0.4L43.1 -1.7L43.5 -3.9L43.5 -5.2L43.1 -7.3L42.2 -8.6L41 -9.1L40.1 -9.1" stroke="#000000" stroke-width="1.0" class="t"/><text transform="translate(701.9 84.7)" font-size="12.7" class="r">TP:100</text>
<path transform="translate(701.4 100.4)" d="M0 -9.1L0 0M0 -9.1L3.4 0M6.8 -9.1L3.4 0M6.8 -9.1L6.8 0M9.3 -9.1L11.4 0M13.5 -9.1L11.4 0M13.5 -9.1L15.6 0M17.7 -9.1L15.6 0M20.7 -6L20.3 -5.6L20.7 -5.2L21.1 -5.6L20.7 -6M20.7 -0.9L20.3 -0.4L20.7 0L21.1 -0.4L20.7 -0.9M24.5 -9.1L24.5 0M24.5 -9.1L30.4 0M30.4 -9.1L30.4 0M40.6 -10.8L33 3M45.2 -9.1L41.8 0M45.2 -9.1L48.6 0M43.1 -3L47.3 -3" stroke="#000000" stroke-width="1.0" class="t"/><text transform="translate(701.4 100.4)" font-size="12.7" class="r">MW:N/A</text>
<path transform="translate(701.1 116.1)" d="M0 -9.1L0 0M0 -9.1L5.5 -9.1M0 -4.8L3.4 -4.8M7.6 -9.1L7.6 0M7.6 -9.1L11.4 -9.1L12.7 -8.6L13.1 -8.2L13.5 -7.3L13.5 -6.5L13.1 -5.6L12.7 -5.2L11.4 -4.8L7.6 -4.8M10.6 -4.8L13.5 0M22 -9.1L16.1 0M16.1 -9.1L22 -9.1M16.1 0L22 0M25.3 -6L24.9 -5.6L25.3 -5.2L25.8 -5.6L25.3 -6M25.3 -0.9L24.9 -0.4L25.3 0L25.8 -0.4L25.3 -0.9M33.8 -9.1L29.6 -9.1L29.2 -5.2L29.6 -5.6L30.8 -6L32.1 -6L33.4 -5.6L34.2 -4.8L34.6 -3.5L34.6 -2.6L34.2 -1.3L33.4 -0.4L32.1 0L30.8 0L29.6 -0.4L29.2 -0.9L28.7 -1.7M42.2 -9.1L38 -9.1L37.6 -5.2L38 -5.6L39.3 -6L40.6 -6L41.8 -5.6L42.7 -4.8L43.1 -3.5L43.1 -2.6L42.7 -1.3L41.8 -0.4L40.6 0L39.3 0L38 -0.4L37.6 -0.9L37.2 -1.7M51.5 -9.1L47.3 0M45.6 -9.1L51.5 -9.1" stroke="#000000" stroke-width="1.0" class="t"/><text transform="translate(701.1 116.1)" font-size="12.7" class="r">FRZ:557</text>
<path transform="translate(700.8 131.8)" d="M0 -9.1L2.1 0M4.2 -9.1L2.1 0M4.2 -9.1L6.3 0M8.4 -9.1L6.3 0M11 -9.1L11 0M11 -9.1L14.8 -9.1L16.1 -8.6L16.5 -8.2L16.9 -7.3L16.9 -6.5L16.5 -5.6L16.1 -5.2L14.8 -4.8M11 -4.8L14.8 -4.8L16.1 -4.3L16.5 -3.9L16.9 -3L16.9 -1.7L16.5 -0.9L16.1 -0.4L14.8 0L11 0M22 -9.1L20.7 -8.6L19.9 -7.3L19.4 -5.2L19.4 -3.9L19.9 -1.7L20.7 -0.4L22 0L22.8 0L24.1 -0.4L24.9 -1.7L25.3 -3.9L25.3 -5.2L24.9 -7.3L24.1 -8.6L22.8 -9.1L22 -9.1M28.7 -6L28.3 -5.6L28.7 -5.2L29.2 -5.6L28.7 -6M28.7 -0.9L28.3 -0.4L28.7 0L29.2 -0.4L28.7 -0.9M37.2 -9.1L33 -9.1L32.5 -5.2L33 -5.6L34.2 -6L35.5 -6L36.8 -5.6L37.6 -4.8L38 -3.5L38 -2.6L37.6 -1.3L36.8 -0.4L35.5 0L34.2 0L33 -0.4L32.5 -0.9L32.1 -1.7M44.8 -9.1L40.6 -3L46.9 -3M44.8 -9.1L44.8 0M51.1 -9.1L49.9 -8.6L49.4 -7.8L49.4 -6.9L49.9 -6L50.7 -5.6L52.4 -5.2L53.7 -4.8L54.5 -3.9L54.9 -3L54.9 -1.7L54.5 -0.9L54.1 -0.4L52.8 0L51.1 0L49.9 -0.4L49.4 -0.9L49 -1.7L49 -3L49.4 -3.9L50.3 -4.8L51.5 -5.2L53.2 -5.6L54.1 -6L54.5 -6.9L54.5 -7.8L54.1 -8.6L52.8 -9.1L51.1 -9.1" stroke="#000000" stroke-width="1.0" class="t"/><text transform="translate(700.8 131.8)" font-size="12.7" class="r">WB0:548</text>
<path transform="translate(700.5 147.5)" d="M0 -9.1L0 0M0 -9.1L3.8 -9.1L5.1 -8.6L5.5 -8.2L5.9 -7.3L5.9 -6L5.5 -5.2L5.1 -4.8L3.8 -4.3L0 -4.3M8 -9.1L10.1 0M12.3 -9.1L10.1 0M12.3 -9.1L14.4 0M16.5 -9.1L14.4 0M19.4 -6L19 -5.6L19.4 -5.2L19.9 -5.6L19.4 -6M19.4 -0.9L19 -0.4L19.4 0L19.9 -0.4L19.4 -0.9M23.7 -9.1L28.3 -9.1L25.8 -5.6L27 -5.6L27.9 -5.2L28.3 -4.8L28.7 -3.5L28.7 -2.6L28.3 -1.3L27.5 -0.4L26.2 0L24.9 0L23.7 -0.4L23.2 -0.9L22.8 -1.7M36.3 -9.1L32.1 -9.1L31.7 -5.2L32.1 -5.6L33.4 -6L34.6 -6L35.9 -5.6L36.8 -4.8L37.2 -3.5L37.2 -2.6L36.8 -1.3L35.9 -0.4L34.6 0L33.4 0L32.1 -0.4L31.7 -0.9L31.3 -1.7M40.6 -0.9L40.1 -0.4L40.6 0L41 -0.4L40.6 -0.9M45.2 -7.3L46.1 -7.8L47.3 -9.1L47.3 0M57.9 -6L57.5 -4.8L56.6 -3.9L55.3 -3.5L54.9 -3.5L53.7 -3.9L52.8 -4.8L52.4 -6L52.4 -6.5L52.8 -7.8L53.7 -8.6L54.9 -9.1L55.3 -9.1L56.6 -8.6L57.5 -7.8L57.9 -6L57.9 -3.9L57.5 -1.7L56.6 -0.4L55.3 0L54.5 0L53.2 -0.4L52.8 -1.3" stroke="#000000" stroke-width="1.0" class="t"/><text transform="translate(700.5 147.5)" font-size="12.7" class="r">PW:35.19</text>
<path transform="translate(701.4 163.2)" d="M0 -9.1L0 0M0 -9.1L3.8 -9.1L5.1 -8.6L5.5 -8.2L5.9 -7.3L5.9 -6.5L5.5 -5.6L5.1 -5.2L3.8 -4.8L0 -4.8M3 -4.8L5.9 0M8.9 -9.1L8.9 0M14.8 -9.1L14.8 0M8.9 -4.8L14.8 -4.8M18.6 -6L18.2 -5.6L18.6 -5.2L19 -5.6L18.6 -6M18.6 -0.9L18.2 -0.4L18.6 0L19 -0.4L18.6 -0.9M27.9 -9.1L23.7 0M22 -9.1L27.9 -9.1M35.9 -7.8L35.5 -8.6L34.2 -9.1L33.4 -9.1L32.1 -8.6L31.3 -7.3L30.8 -5.2L30.8 -3L31.3 -1.3L32.1 -0.4L33.4 0L33.8 0L35.1 -0.4L35.9 -1.3L36.3 -2.6L36.3 -3L35.9 -4.3L35.1 -5.2L33.8 -5.6L33.4 -5.6L32.1 -5.2L31.3 -4.3L30.8 -3M39.7 -0.9L39.3 -0.4L39.7 0L40.1 -0.4L39.7 -0.9M45.2 -9.1L43.9 -8.6L43.5 -7.8L43.5 -6.9L43.9 -6L44.8 -5.6L46.5 -5.2L47.7 -4.8L48.6 -3.9L49 -3L49 -1.7L48.6 -0.9L48.2 -0.4L46.9 0L45.2 0L43.9 -0.4L43.5 -0.9L43.1 -1.7L43.1 -3L43.5 -3.9L44.4 -4.8L45.6 -5.2L47.3 -5.6L48.2 -6L48.6 -6.9L48.6 -7.8L48.2 -8.6L46.9 -9.1L45.2 -9.1" stroke="#000000" stroke-width="1.0" class="t"/><text transform="translate(701.4 163.2)" font-size="12.7" class="r">RH:76.8</text>
<path transform="translate(700 179)" d="M0 -9.1L0 0M0 -9.1L3.4 0M6.8 -9.1L3.4 0M6.8 -9.1L6.8 0M12.3 -9.1L8.9 0M12.3 -9.1L15.6 0M10.1 -3L14.4 -3M17.3 -9.1L23.2 0M23.2 -9.1L17.3 0M27.9 -9.1L27.9 0M24.9 -9.1L30.8 -9.1M33.4 -6L33 -5.6L33.4 -5.2L33.8 -5.6L33.4 -6M33.4 -0.9L33 -0.4L33.4 0L33.8 -0.4L33.4 -0.9M37.6 -9.1L42.2 -9.1L39.7 -5.6L41 -5.6L41.8 -5.2L42.2 -4.8L42.7 -3.5L42.7 -2.6L42.2 -1.3L41.4 -0.4L40.1 0L38.9 0L37.6 -0.4L37.2 -0.9L36.8 -1.7M47.7 -9.1L46.5 -8.6L45.6 -7.3L45.2 -5.2L45.2 -3.9L45.6 -1.7L46.5 -0.4L47.7 0L48.6 0L49.9 -0.4L50.7 -1.7L51.1 -3.9L51.1 -5.2L50.7 -7.3L49.9 -8.6L48.6 -9.1L47.7 -9.1M54.5 -0.9L54.1 -0.4L54.5 0L54.9 -0.4L54.5 -0.9M63.8 -9.1L59.6 0M57.9 -9.1L63.8 -9.1" stroke="#000000" stroke-width="1.0" class="t"/><text transform="translate(700 179)" font-size="12.7" class="r">MAXT:30.7</text>
<path transform="translate(701.1 194.7)" d="M3 -9.1L3 0M0 -9.1L5.9 -9.1M8 -9.1L8 0M13.9 -9.1L13.9 0M8 -4.8L13.9 -4.8M17.7 -6L17.3 -5.6L17.7 -5.2L18.2 -5.6L17.7 -6M17.7 -0.9L17.3 -0.4L17.7 0L18.2 -0.4L17.7 -0.9M26.2 -9.1L22 -9.1L21.5 -5.2L22 -5.6L23.2 -6L24.5 -6L25.8 -5.6L26.6 -4.8L27 -3.5L27 -2.6L26.6 -1.3L25.8 -0.4L24.5 0L23.2 0L22 -0.4L21.5 -0.9L21.1 -1.7M33.8 -9.1L29.6 -3L35.9 -3M33.8 -9.1L33.8 0M43.5 -7.8L43.1 -8.6L41.8 -9.1L41 -9.1L39.7 -8.6L38.9 -7.3L38.4 -5.2L38.4 -3L38.9 -1.3L39.7 -0.4L41 0L41.4 0L42.7 -0.4L43.5 -1.3L43.9 -2.6L43.9 -3L43.5 -4.3L42.7 -5.2L41.4 -5.6L41 -5.6L39.7 -5.2L38.9 -4.3L38.4 -3M47.3 -9.1L52 -9.1L49.4 -5.6L50.7 -5.6L51.5 -5.2L52 -4.8L52.4 -3.5L52.4 -2.6L52 -1.3L51.1 -0.4L49.9 0L48.6 0L47.3 -0.4L46.9 -0.9L46.5 -1.7" stroke="#000000" stroke-width="1.0" class="t"/><text transform="translate(701.1 194.7)" font-size="12.7" class="r">TH:5463</text>
<path transform="translate(701.6 210.4)" d="M0 -9.1L0 0M0 0L5.1 0M11.8 -9.1L7.6 -9.1L7.2 -5.2L7.6 -5.6L8.9 -6L10.1 -6L11.4 -5.6L12.3 -4.8L12.7 -3.5L12.7 -2.6L12.3 -1.3L11.4 -0.4L10.1 0L8.9 0L7.6 -0.4L7.2 -0.9L6.8 -1.7M21.1 -9.1L16.9 0M15.2 -9.1L21.1 -9.1M24.5 -6L24.1 -5.6L24.5 -5.2L24.9 -5.6L24.5 -6M24.5 -0.9L24.1 -0.4L24.5 0L24.9 -0.4L24.5 -0.9M33 -9.1L28.7 -9.1L28.3 -5.2L28.7 -5.6L30 -6L31.3 -6L32.5 -5.6L33.4 -4.8L33.8 -3.5L33.8 -2.6L33.4 -1.3L32.5 -0.4L31.3 0L30 0L28.7 -0.4L28.3 -0.9L27.9 -1.7M37.2 -0.9L36.8 -0.4L37.2 0L37.6 -0.4L37.2 -0.9M46.1 -6L45.6 -4.8L44.8 -3.9L43.5 -3.5L43.1 -3.5L41.8 -3.9L41 -4.8L40.6 -6L40.6 -6.5L41 -7.8L41.8 -8.6L43.1 -9.1L43.5 -9.1L44.8 -8.6L45.6 -7.8L46.1 -6L46.1 -3.9L45.6 -1.7L44.8 -0.4L43.5 0L42.7 0L41.4 -0.4L41 -1.3" stroke="#000000" stroke-width="1.0" class="t"/><text transform="translate(701.6 210.4)" font-size="12.7" class="r">L57:5.9</text>
<path transform="translate(701.3 226.1)" d="M0 -9.1L0 0M0 0L5.1 0M13.1 -6.9L12.7 -7.8L11.8 -8.6L11 -9.1L9.3 -9.1L8.4 -8.6L7.6 -7.8L7.2 -6.9L6.8 -5.6L6.8 -3.5L7.2 -2.2L7.6 -1.3L8.4 -0.4L9.3 0L11 0L11.8 -0.4L12.7 -1.3L13.1 -2.2M16.1 -9.1L16.1 0M16.1 0L21.1 0M23.7 -6L23.2 -5.6L23.7 -5.2L24.1 -5.6L23.7 -6M23.7 -0.9L23.2 -0.4L23.7 0L24.1 -0.4L23.7 -0.9M32.5 -6L32.1 -4.8L31.3 -3.9L30 -3.5L29.6 -3.5L28.3 -3.9L27.5 -4.8L27 -6L27 -6.5L27.5 -7.8L28.3 -8.6L29.6 -9.1L30 -9.1L31.3 -8.6L32.1 -7.8L32.5 -6L32.5 -3.9L32.1 -1.7L31.3 -0.4L30 0L29.2 0L27.9 -0.4L27.5 -1.3M37.6 -9.1L36.3 -8.6L35.9 -7.8L35.9 -6.9L36.3 -6L37.2 -5.6L38.9 -5.2L40.1 -4.8L41 -3.9L41.4 -3L41.4 -1.7L41 -0.9L40.6 -0.4L39.3 0L37.6 0L36.3 -0.4L35.9 -0.9L35.5 -1.7L35.5 -3L35.9 -3.9L36.8 -4.8L38 -5.2L39.7 -5.6L40.6 -6L41 -6.9L41 -7.8L40.6 -8.6L39.3 -9.1L37.6 -9.1M46.5 -9.1L45.2 -8.6L44.4 -7.3L43.9 -5.2L43.9 -3.9L44.4 -1.7L45.2 -0.4L46.5 0L47.3 0L48.6 -0.4L49.4 -1.7L49.9 -3.9L49.9 -5.2L49.4 -7.3L48.6 -8.6L47.3 -9.1L46.5 -9.1" stroke="#000000" stroke-width="1.0" class="t"/><text transform="translate(701.3 226.1)" font-size="12.7" class="r">LCL:980</text>
<path transform="translate(701.8 241.8)" d="M0 -9.1L0 0M0 0L5.1 0M7.2 -9.1L7.2 0M11 -6L10.6 -5.6L11 -5.2L11.4 -5.6L11 -6M11 -0.9L10.6 -0.4L11 0L11.4 -0.4L11 -0.9M14.8 -3.9L22.4 -3.9M29.6 -9.1L25.3 -3L31.7 -3M29.6 -9.1L29.6 0M34.6 -0.9L34.2 -0.4L34.6 0L35.1 -0.4L34.6 -0.9M38.9 -9.1L43.5 -9.1L41 -5.6L42.2 -5.6L43.1 -5.2L43.5 -4.8L43.9 -3.5L43.9 -2.6L43.5 -1.3L42.7 -0.4L41.4 0L40.1 0L38.9 -0.4L38.4 -0.9L38 -1.7" stroke="#000000" stroke-width="1.0" class="t"/><text transform="translate(701.8 241.8)" font-size="12.7" class="r">LI:-4.3</text>
<path transform="translate(702.7 257.5)" d="M5.9 -7.8L5.1 -8.6L3.8 -9.1L2.1 -9.1L0.8 -8.6L0 -7.8L0 -6.9L0.4 -6L0.8 -5.6L1.7 -5.2L4.2 -4.3L5.1 -3.9L5.5 -3.5L5.9 -2.6L5.9 -1.3L5.1 -0.4L3.8 0L2.1 0L0.8 -0.4L0 -1.3M8.9 -9.1L8.9 0M12.7 -6L12.3 -5.6L12.7 -5.2L13.1 -5.6L12.7 -6M12.7 -0.9L12.3 -0.4L12.7 0L13.1 -0.4L12.7 -0.9M16.5 -6.9L16.5 -7.3L16.9 -8.2L17.3 -8.6L18.2 -9.1L19.9 -9.1L20.7 -8.6L21.1 -8.2L21.5 -7.3L21.5 -6.5L21.1 -5.6L20.3 -4.3L16.1 0L22 0M25.3 -0.9L24.9 -0.4L25.3 0L25.8 -0.4L25.3 -0.9M34.6 -9.1L30.4 0M28.7 -9.1L34.6 -9.1" stroke="#000000" stroke-width="1.0" class="t"/><text transform="translate(702.7 257.5)" font-size="12.7" class="r">SI:2.7</text>
<path transform="translate(701.7 273.2)" d="M3 -9.1L3 0M0 -9.1L5.9 -9.1M9.7 -9.1L9.7 0M6.8 -9.1L12.7 -9.1M15.2 -6L14.8 -5.6L15.2 -5.2L15.6 -5.6L15.2 -6M15.2 -0.9L14.8 -0.4L15.2 0L15.6 -0.4L15.2 -0.9M19.4 -9.1L24.1 -9.1L21.5 -5.6L22.8 -5.6L23.7 -5.2L24.1 -4.8L24.5 -3.5L24.5 -2.6L24.1 -1.3L23.2 -0.4L22 0L20.7 0L19.4 -0.4L19 -0.9L18.6 -1.7M32.5 -6L32.1 -4.8L31.3 -3.9L30 -3.5L29.6 -3.5L28.3 -3.9L27.5 -4.8L27 -6L27 -6.5L27.5 -7.8L28.3 -8.6L29.6 -9.1L30 -9.1L31.3 -8.6L32.1 -7.8L32.5 -6L32.5 -3.9L32.1 -1.7L31.3 -0.4L30 0L29.2 0L27.9 -0.4L27.5 -1.3M36.3 -0.9L35.9 -0.4L36.3 0L36.8 -0.4L36.3 -0.9M45.2 -7.8L44.8 -8.6L43.5 -9.1L42.7 -9.1L41.4 -8.6L40.6 -7.3L40.1 -5.2L40.1 -3L40.6 -1.3L41.4 -0.4L42.7 0L43.1 0L44.4 -0.4L45.2 -1.3L45.6 -2.6L45.6 -3L45.2 -4.3L44.4 -5.2L43.1 -5.6L42.7 -5.6L41.4 -5.2L40.6 -4.3L40.1 -3" stroke="#000000" stroke-width="1.0" class="t"/><text transform="translate(701.7 273.2)" font-size="12.7" class="r">TT:39.6</text>
<path transform="translate(702.3 288.9)" d="M0 -9.1L0 0M5.9 -9.1L0 -3M2.1 -5.2L5.9 0M8.9 -9.1L8.9 0M12.7 -6L12.3 -5.6L12.7 -5.2L13.1 -5.6L12.7 -6M12.7 -0.9L12.3 -0.4L12.7 0L13.1 -0.4L12.7 -0.9M16.9 -9.1L21.5 -9.1L19 -5.6L20.3 -5.6L21.1 -5.2L21.5 -4.8L22 -3.5L22 -2.6L21.5 -1.3L20.7 -0.4L19.4 0L18.2 0L16.9 -0.4L16.5 -0.9L16.1 -1.7M27 -9.1L25.8 -8.6L24.9 -7.3L24.5 -5.2L24.5 -3.9L24.9 -1.7L25.8 -0.4L27 0L27.9 0L29.2 -0.4L30 -1.7L30.4 -3.9L30.4 -5.2L30 -7.3L29.2 -8.6L27.9 -9.1L27 -9.1M33.4 -6.9L33.4 -7.3L33.8 -8.2L34.2 -8.6L35.1 -9.1L36.8 -9.1L37.6 -8.6L38 -8.2L38.4 -7.3L38.4 -6.5L38 -5.6L37.2 -4.3L33 0L38.9 0" stroke="#000000" stroke-width="1.0" class="t"/><text transform="translate(702.3 288.9)" font-size="12.7" class="r">KI:302</text>
<path transform="translate(701.5 304.6)" d="M5.9 -7.8L5.1 -8.6L3.8 -9.1L2.1 -9.1L0.8 -8.6L0 -7.8L0 -6.9L0.4 -6L0.8 -5.6L1.7 -5.2L4.2 -4.3L5.1 -3.9L5.5 -3.5L5.9 -2.6L5.9 -1.3L5.1 -0.4L3.8 0L2.1 0L0.8 -0.4L0 -1.3M8 -9.1L10.1 0M12.3 -9.1L10.1 0M12.3 -9.1L14.4 0M16.5 -9.1L14.4 0M19.4 -6L19 -5.6L19.4 -5.2L19.9 -5.6L19.4 -6M19.4 -0.9L19 -0.4L19.4 0L19.9 -0.4L19.4 -0.9M23.2 -9.1L23.2 0M23.2 -9.1L29.2 0M29.2 -9.1L29.2 0M39.3 -10.8L31.7 3M43.9 -9.1L40.6 0M43.9 -9.1L47.3 0M41.8 -3L46.1 -3" stroke="#000000" stroke-width="1.0" class="t"/><text transform="translate(701.5 304.6)" font-size="12.7" class="r">SW:N/A</text>
<path transform="translate(702.8 320.4)" d="M0 -9.1L0 0M0 -9.1L5.5 -9.1M0 -4.8L3.4 -4.8M0 0L5.5 0M8 -9.1L8 0M11.8 -6L11.4 -5.6L11.8 -5.2L12.3 -5.6L11.8 -6M11.8 -0.9L11.4 -0.4L11.8 0L12.3 -0.4L11.8 -0.9M17.7 -9.1L16.5 -8.6L15.6 -7.3L15.2 -5.2L15.2 -3.9L15.6 -1.7L16.5 -0.4L17.7 0L18.6 0L19.9 -0.4L20.7 -1.7L21.1 -3.9L21.1 -5.2L20.7 -7.3L19.9 -8.6L18.6 -9.1L17.7 -9.1M24.5 -0.9L24.1 -0.4L24.5 0L24.9 -0.4L24.5 -0.9M28.3 -6.9L28.3 -7.3L28.7 -8.2L29.2 -8.6L30 -9.1L31.7 -9.1L32.5 -8.6L33 -8.2L33.4 -7.3L33.4 -6.5L33 -5.6L32.1 -4.3L27.9 0L33.8 0" stroke="#000000" stroke-width="1.0" class="t"/><text transform="translate(702.8 320.4)" font-size="12.7" class="r">EI:0.2</text>
<path transform="translate(699.6 336.1)" d="M0 -3.9L7.6 -3.9M11 -9.1L11 0M11 -9.1L14.8 -9.1L16.1 -8.6L16.5 -8.2L16.9 -7.3L16.9 -6L16.5 -5.2L16.1 -4.8L14.8 -4.3L11 -4.3M22 -9.1L18.6 0M22 -9.1L25.3 0M19.9 -3L24.1 -3M27.5 -9.1L27.5 0M27.5 -9.1L31.3 -9.1L32.5 -8.6L33 -8.2L33.4 -7.3L33.4 -6.5L33 -5.6L32.5 -5.2L31.3 -4.8L27.5 -4.8M30.4 -4.8L33.4 0M42.2 -6.9L41.8 -7.8L41 -8.6L40.1 -9.1L38.4 -9.1L37.6 -8.6L36.8 -7.8L36.3 -6.9L35.9 -5.6L35.9 -3.5L36.3 -2.2L36.8 -1.3L37.6 -0.4L38.4 0L40.1 0L41 -0.4L41.8 -1.3L42.2 -2.2M45.2 -9.1L45.2 0M45.2 -9.1L50.7 -9.1M45.2 -4.8L48.6 -4.8M45.2 0L50.7 0M53.2 -9.1L53.2 0M53.2 0L58.3 0M60.4 -3.9L68 -3.9" stroke="#000000" stroke-width="1.0" class="t"/><text transform="translate(699.6 336.1)" font-size="12.7" class="r">-PARCEL-</text>
<path transform="translate(699.6 351.8)" d="M6.3 -6.9L5.9 -7.8L5.1 -8.6L4.2 -9.1L2.5 -9.1L1.7 -8.6L0.8 -7.8L0.4 -6.9L0 -5.6L0 -3.5L0.4 -2.2L0.8 -1.3L1.7 -0.4L2.5 0L4.2 0L5.1 -0.4L5.9 -1.3L6.3 -2.2M11.4 -9.1L8 0M11.4 -9.1L14.8 0M9.3 -3L13.5 -3M16.9 -9.1L16.9 0M16.9 -9.1L20.7 -9.1L22 -8.6L22.4 -8.2L22.8 -7.3L22.8 -6L22.4 -5.2L22 -4.8L20.7 -4.3L16.9 -4.3M25.8 -9.1L25.8 0M25.8 -9.1L31.3 -9.1M25.8 -4.8L29.2 -4.8M25.8 0L31.3 0M34.2 -6L33.8 -5.6L34.2 -5.2L34.6 -5.6L34.2 -6M34.2 -0.9L33.8 -0.4L34.2 0L34.6 -0.4L34.2 -0.9M38 -6.9L38 -7.3L38.4 -8.2L38.9 -8.6L39.7 -9.1L41.4 -9.1L42.2 -8.6L42.7 -8.2L43.1 -7.3L43.1 -6.5L42.7 -5.6L41.8 -4.3L37.6 0L43.5 0M47.3 -7.3L48.2 -7.8L49.4 -9.1L49.4 0M58.7 -9.1L54.5 -3L60.8 -3M58.7 -9.1L58.7 0M68.4 -6L68 -4.8L67.2 -3.9L65.9 -3.5L65.5 -3.5L64.2 -3.9L63.4 -4.8L63 -6L63 -6.5L63.4 -7.8L64.2 -8.6L65.5 -9.1L65.9 -9.1L67.2 -8.6L68 -7.8L68.4 -6L68.4 -3.9L68 -1.7L67.2 -0.4L65.9 0L65.1 0L63.8 -0.4L63.4 -1.3" stroke="#000000" stroke-width="1.0" class="t"/><text transform="translate(699.6 351.8)" font-size="12.7" class="r">CAPE:2149</text>
<path transform="translate(702.3 367.5)" d="M6.3 -6.9L5.9 -7.8L5.1 -8.6L4.2 -9.1L2.5 -9.1L1.7 -8.6L0.8 -7.8L0.4 -6.9L0 -5.6L0 -3.5L0.4 -2.2L0.8 -1.3L1.7 -0.4L2.5 0L4.2 0L5.1 -0.4L5.9 -1.3L6.3 -2.2M9.3 -9.1L9.3 0M12.7 -9.1L12.7 0M12.7 -9.1L18.6 0M18.6 -9.1L18.6 0M22 -9.1L22 0M27.9 -9.1L27.9 0M22 -4.8L27.9 -4.8M31.7 -6L31.3 -5.6L31.7 -5.2L32.1 -5.6L31.7 -6M31.7 -0.9L31.3 -0.4L31.7 0L32.1 -0.4L31.7 -0.9M36.3 -7.3L37.2 -7.8L38.4 -9.1L38.4 0" stroke="#000000" stroke-width="1.0" class="t"/><text transform="translate(702.3 367.5)" font-size="12.7" class="r">CINH:1</text>
<path transform="translate(701.3 383.2)" d="M0 -9.1L0 0M0 0L5.1 0M13.1 -6.9L12.7 -7.8L11.8 -8.6L11 -9.1L9.3 -9.1L8.4 -8.6L7.6 -7.8L7.2 -6.9L6.8 -5.6L6.8 -3.5L7.2 -2.2L7.6 -1.3L8.4 -0.4L9.3 0L11 0L11.8 -0.4L12.7 -1.3L13.1 -2.2M16.1 -9.1L16.1 0M16.1 0L21.1 0M23.7 -6L23.2 -5.6L23.7 -5.2L24.1 -5.6L23.7 -6M23.7 -0.9L23.2 -0.4L23.7 0L24.1 -0.4L23.7 -0.9M32.5 -6L32.1 -4.8L31.3 -3.9L30 -3.5L29.6 -3.5L28.3 -3.9L27.5 -4.8L27 -6L27 -6.5L27.5 -7.8L28.3 -8.6L29.6 -9.1L30 -9.1L31.3 -8.6L32.1 -7.8L32.5 -6L32.5 -3.9L32.1 -1.7L31.3 -0.4L30 0L29.2 0L27.9 -0.4L27.5 -1.3M37.6 -9.1L36.3 -8.6L35.9 -7.8L35.9 -6.9L36.3 -6L37.2 -5.6L38.9 -5.2L40.1 -4.8L41 -3.9L41.4 -3L41.4 -1.7L41 -0.9L40.6 -0.4L39.3 0L37.6 0L36.3 -0.4L35.9 -0.9L35.5 -1.7L35.5 -3L35.9 -3.9L36.8 -4.8L38 -5.2L39.7 -5.6L40.6 -6L41 -6.9L41 -7.8L40.6 -8.6L39.3 -9.1L37.6 -9.1M46.5 -9.1L45.2 -8.6L44.4 -7.3L43.9 -5.2L43.9 -3.9L44.4 -1.7L45.2 -0.4L46.5 0L47.3 0L48.6 -0.4L49.4 -1.7L49.9 -3.9L49.9 -5.2L49.4 -7.3L48.6 -8.6L47.3 -9.1L46.5 -9.1" stroke="#000000" stroke-width="1.0" class="t"/><text transform="translate(701.3 383.2)" font-size="12.7" class="r">LCL:980</text>
<path transform="translate(701.4 398.9)" d="M6.3 -6.9L5.9 -7.8L5.1 -8.6L4.2 -9.1L2.5 -9.1L1.7 -8.6L0.8 -7.8L0.4 -6.9L0 -5.6L0 -3.5L0.4 -2.2L0.8 -1.3L1.7 -0.4L2.5 0L4.2 0L5.1 -0.4L5.9 -1.3L6.3 -2.2M11.4 -9.1L8 0M11.4 -9.1L14.8 0M9.3 -3L13.5 -3M16.9 -9.1L16.9 0M16.9 -9.1L20.7 -9.1L22 -8.6L22.4 -8.2L22.8 -7.3L22.8 -6L22.4 -5.2L22 -4.8L20.7 -4.3L16.9 -4.3M26.2 -6L25.8 -5.6L26.2 -5.2L26.6 -5.6L26.2 -6M26.2 -0.9L25.8 -0.4L26.2 0L26.6 -0.4L26.2 -0.9M32.1 -9.1L30.8 -8.6L30 -7.3L29.6 -5.2L29.6 -3.9L30 -1.7L30.8 -0.4L32.1 0L33 0L34.2 -0.4L35.1 -1.7L35.5 -3.9L35.5 -5.2L35.1 -7.3L34.2 -8.6L33 -9.1L32.1 -9.1M38.9 -0.9L38.4 -0.4L38.9 0L39.3 -0.4L38.9 -0.9M44.8 -9.1L43.5 -8.6L42.7 -7.3L42.2 -5.2L42.2 -3.9L42.7 -1.7L43.5 -0.4L44.8 0L45.6 0L46.9 -0.4L47.7 -1.7L48.2 -3.9L48.2 -5.2L47.7 -7.3L46.9 -8.6L45.6 -9.1L44.8 -9.1" stroke="#000000" stroke-width="1.0" class="t"/><text transform="translate(701.4 398.9)" font-size="12.7" class="r">CAP:0.0</text>
<path transform="translate(701.5 414.6)" d="M0 -9.1L0 0M0 0L5.1 0M7.2 -9.1L7.2 0M7.2 -9.1L12.7 -9.1M7.2 -4.8L10.6 -4.8M20.7 -6.9L20.3 -7.8L19.4 -8.6L18.6 -9.1L16.9 -9.1L16.1 -8.6L15.2 -7.8L14.8 -6.9L14.4 -5.6L14.4 -3.5L14.8 -2.2L15.2 -1.3L16.1 -0.4L16.9 0L18.6 0L19.4 -0.4L20.3 -1.3L20.7 -2.2M24.1 -6L23.7 -5.6L24.1 -5.2L24.5 -5.6L24.1 -6M24.1 -0.9L23.7 -0.4L24.1 0L24.5 -0.4L24.1 -0.9M33 -6L32.5 -4.8L31.7 -3.9L30.4 -3.5L30 -3.5L28.7 -3.9L27.9 -4.8L27.5 -6L27.5 -6.5L27.9 -7.8L28.7 -8.6L30 -9.1L30.4 -9.1L31.7 -8.6L32.5 -7.8L33 -6L33 -3.9L32.5 -1.7L31.7 -0.4L30.4 0L29.6 0L28.3 -0.4L27.9 -1.3M41.8 -9.1L37.6 0M35.9 -9.1L41.8 -9.1M45.6 -7.3L46.5 -7.8L47.7 -9.1L47.7 0" stroke="#000000" stroke-width="1.0" class="t"/><text transform="translate(701.5 414.6)" font-size="12.7" class="r">LFC:971</text>
<path transform="translate(702.3 430.3)" d="M0 -9.1L0 0M0 -9.1L5.5 -9.1M0 -4.8L3.4 -4.8M0 0L5.5 0M8 -9.1L8 0M8 0L13.1 0M15.6 -6L15.2 -5.6L15.6 -5.2L16.1 -5.6L15.6 -6M15.6 -0.9L15.2 -0.4L15.6 0L16.1 -0.4L15.6 -0.9M20.3 -7.3L21.1 -7.8L22.4 -9.1L22.4 0M31.7 -9.1L27.5 -3L33.8 -3M31.7 -9.1L31.7 0M37.2 -7.3L38 -7.8L39.3 -9.1L39.3 0" stroke="#000000" stroke-width="1.0" class="t"/><text transform="translate(702.3 430.3)" font-size="12.7" class="r">EL:141</text>
<path transform="translate(701.2 446)" d="M0 -9.1L0 0M0 -9.1L3.4 0M6.8 -9.1L3.4 0M6.8 -9.1L6.8 0M10.1 -9.1L10.1 0M10.1 -9.1L13.9 -9.1L15.2 -8.6L15.6 -8.2L16.1 -7.3L16.1 -6L15.6 -5.2L15.2 -4.8L13.9 -4.3L10.1 -4.3M19 -9.1L19 0M19 0L24.1 0M26.6 -6L26.2 -5.6L26.6 -5.2L27 -5.6L26.6 -6M26.6 -0.9L26.2 -0.4L26.6 0L27 -0.4L26.6 -0.9M31.3 -7.3L32.1 -7.8L33.4 -9.1L33.4 0M41 -9.1L39.7 -8.6L38.9 -7.3L38.4 -5.2L38.4 -3.9L38.9 -1.7L39.7 -0.4L41 0L41.8 0L43.1 -0.4L43.9 -1.7L44.4 -3.9L44.4 -5.2L43.9 -7.3L43.1 -8.6L41.8 -9.1L41 -9.1M48.2 -7.3L49 -7.8L50.3 -9.1L50.3 0" stroke="#000000" stroke-width="1.0" class="t"/><text transform="translate(701.2 446)" font-size="12.7" class="r">MPL:101</text>
<path transform="translate(701.2 461.7)" d="M0 -3.9L7.6 -3.9M10.1 -9.1L12.3 0M14.4 -9.1L12.3 0M14.4 -9.1L16.5 0M18.6 -9.1L16.5 0M21.1 -9.1L21.1 0M24.5 -9.1L24.5 0M24.5 -9.1L30.4 0M30.4 -9.1L30.4 0M33.8 -9.1L33.8 0M33.8 -9.1L36.8 -9.1L38 -8.6L38.9 -7.8L39.3 -6.9L39.7 -5.6L39.7 -3.5L39.3 -2.2L38.9 -1.3L38 -0.4L36.8 0L33.8 0M42.7 -3.9L50.3 -3.9" stroke="#000000" stroke-width="1.0" class="t"/><text transform="translate(701.2 461.7)" font-size="12.7" class="r">-WIND-</text>
<path transform="translate(703.7 477.4)" d="M0 -9.1L0 0M0 -9.1L5.9 0M5.9 -9.1L5.9 0M11.4 -9.1L10.6 -8.6L9.7 -7.8L9.3 -6.9L8.9 -5.6L8.9 -3.5L9.3 -2.2L9.7 -1.3L10.6 -0.4L11.4 0L13.1 0L13.9 -0.4L14.8 -1.3L15.2 -2.2L15.6 -3.5L15.6 -5.6L15.2 -6.9L14.8 -7.8L13.9 -8.6L13.1 -9.1L11.4 -9.1M20.3 -9.1L20.3 0M17.3 -9.1L23.2 -9.1" stroke="#000000" stroke-width="1.0" class="t"/><text transform="translate(703.7 477.4)" font-size="12.7" class="r">NOT</text>
<path transform="translate(702.9 493.2)" d="M3.4 -9.1L0 0M3.4 -9.1L6.8 0M1.3 -3L5.5 -3M7.6 -9.1L11 0M14.4 -9.1L11 0M18.6 -9.1L15.2 0M18.6 -9.1L22 0M16.5 -3L20.7 -3M24.1 -9.1L24.1 0M27.5 -9.1L27.5 0M27.5 0L32.5 0" stroke="#000000" stroke-width="1.0" class="t"/><text transform="translate(702.9 493.2)" font-size="12.7" class="r">AVAIL</text>
<path transform="translate(140.4 530.2) rotate(-45)" d="M2 -6.8L1 -6.5L0.3 -5.5L0 -3.9L0 -2.9L0.3 -1.3L1 -0.3L2 0L2.7 0L3.7 -0.3L4.4 -1.3L4.7 -2.9L4.7 -3.9L4.4 -5.5L3.7 -6.5L2.7 -6.8L2 -6.8M7.4 -0.7L7 -0.3L7.4 0L7.7 -0.3L7.4 -0.7M11.1 -5.5L11.7 -5.9L12.7 -6.8L12.7 0" stroke="#58089c" stroke-width="1.0" class="t"/><text transform="translate(140.4 530.2) rotate(-45)" font-size="9.5" class="r">0.1</text>
<path transform="translate(186.2 530.9) rotate(-45)" d="M2 -6.8L1 -6.5L0.3 -5.5L0 -3.9L0 -2.9L0.3 -1.3L1 -0.3L2 0L2.7 0L3.7 -0.3L4.4 -1.3L4.7 -2.9L4.7 -3.9L4.4 -5.5L3.7 -6.5L2.7 -6.8L2 -6.8M7.4 -0.7L7 -0.3L7.4 0L7.7 -0.3L7.4 -0.7M10.4 -5.2L10.4 -5.5L10.7 -6.2L11.1 -6.5L11.7 -6.8L13.1 -6.8L13.7 -6.5L14.1 -6.2L14.4 -5.5L14.4 -4.9L14.1 -4.2L13.4 -3.2L10.1 0L14.7 0" stroke="#58089c" stroke-width="1.0" class="t"/><text transform="translate(186.2 530.9) rotate(-45)" font-size="9.5" class="r">0.2</text>
<path transform="translate(251.7 530.9) rotate(-45)" d="M2 -6.8L1 -6.5L0.3 -5.5L0 -3.9L0 -2.9L0.3 -1.3L1 -0.3L2 0L2.7 0L3.7 -0.3L4.4 -1.3L4.7 -2.9L4.7 -3.9L4.4 -5.5L3.7 -6.5L2.7 -6.8L2 -6.8M7.4 -0.7L7 -0.3L7.4 0L7.7 -0.3L7.4 -0.7M14.1 -6.8L10.7 -6.8L10.4 -3.9L10.7 -4.2L11.7 -4.5L12.7 -4.5L13.7 -4.2L14.4 -3.6L14.7 -2.6L14.7 -2L14.4 -1L13.7 -0.3L12.7 0L11.7 0L10.7 -0.3L10.4 -0.7L10.1 -1.3" stroke="#58089c" stroke-width="1.0" class="t"/><text transform="translate(251.7 530.9) rotate(-45)" font-size="9.5" class="r">0.5</text>
<path transform="translate(309.4 526.3) rotate(-45)" d="M0 -5.5L0.7 -5.9L1.7 -6.8L1.7 0" stroke="#58089c" stroke-width="1.0" class="t"/><text transform="translate(309.4 526.3) rotate(-45)" font-size="9.5" class="r">1</text>
<path transform="translate(338.7 530.6) rotate(-45)" d="M0 -5.5L0.7 -5.9L1.7 -6.8L1.7 0M6.4 -0.7L6 -0.3L6.4 0L6.7 -0.3L6.4 -0.7M13.1 -6.8L9.7 -6.8L9.4 -3.9L9.7 -4.2L10.7 -4.5L11.7 -4.5L12.7 -4.2L13.4 -3.6L13.7 -2.6L13.7 -2L13.4 -1L12.7 -0.3L11.7 0L10.7 0L9.7 -0.3L9.4 -0.7L9 -1.3" stroke="#58089c" stroke-width="1.0" class="t"/><text transform="translate(338.7 530.6) rotate(-45)" font-size="9.5" class="r">1.5</text>
<path transform="translate(366.3 527.4) rotate(-45)" d="M0.3 -5.2L0.3 -5.5L0.7 -6.2L1 -6.5L1.7 -6.8L3 -6.8L3.7 -6.5L4 -6.2L4.4 -5.5L4.4 -4.9L4 -4.2L3.4 -3.2L0 0L4.7 0" stroke="#58089c" stroke-width="1.0" class="t"/><text transform="translate(366.3 527.4) rotate(-45)" font-size="9.5" class="r">2</text>
<path transform="translate(401.2 527.4) rotate(-45)" d="M0.7 -6.8L4.4 -6.8L2.3 -4.2L3.4 -4.2L4 -3.9L4.4 -3.6L4.7 -2.6L4.7 -2L4.4 -1L3.7 -0.3L2.7 0L1.7 0L0.7 -0.3L0.3 -0.7L0 -1.3" stroke="#58089c" stroke-width="1.0" class="t"/><text transform="translate(401.2 527.4) rotate(-45)" font-size="9.5" class="r">3</text>
<path transform="translate(428.8 527.5) rotate(-45)" d="M3.4 -6.8L0 -2.3L5 -2.3M3.4 -6.8L3.4 0" stroke="#58089c" stroke-width="1.0" class="t"/><text transform="translate(428.8 527.5) rotate(-45)" font-size="9.5" class="r">4</text>
<path transform="translate(466.7 527.3) rotate(-45)" d="M4 -5.9L3.7 -6.5L2.7 -6.8L2 -6.8L1 -6.5L0.3 -5.5L0 -3.9L0 -2.3L0.3 -1L1 -0.3L2 0L2.3 0L3.4 -0.3L4 -1L4.4 -2L4.4 -2.3L4 -3.2L3.4 -3.9L2.3 -4.2L2 -4.2L1 -3.9L0.3 -3.2L0 -2.3" stroke="#58089c" stroke-width="1.0" class="t"/><text transform="translate(466.7 527.3) rotate(-45)" font-size="9.5" class="r">6</text>
<path transform="translate(495 527.4) rotate(-45)" d="M1.7 -6.8L0.7 -6.5L0.3 -5.9L0.3 -5.2L0.7 -4.5L1.3 -4.2L2.7 -3.9L3.7 -3.6L4.4 -2.9L4.7 -2.3L4.7 -1.3L4.4 -0.7L4 -0.3L3 0L1.7 0L0.7 -0.3L0.3 -0.7L0 -1.3L0 -2.3L0.3 -2.9L1 -3.6L2 -3.9L3.4 -4.2L4 -4.5L4.4 -5.2L4.4 -5.9L4 -6.5L3 -6.8L1.7 -6.8" stroke="#58089c" stroke-width="1.0" class="t"/><text transform="translate(495 527.4) rotate(-45)" font-size="9.5" class="r">8</text>
<path transform="translate(515.1 529.4) rotate(-45)" d="M0 -5.5L0.7 -5.9L1.7 -6.8L1.7 0M7.7 -6.8L6.7 -6.5L6 -5.5L5.7 -3.9L5.7 -2.9L6 -1.3L6.7 -0.3L7.7 0L8.4 0L9.4 -0.3L10.1 -1.3L10.4 -2.9L10.4 -3.9L10.1 -5.5L9.4 -6.5L8.4 -6.8L7.7 -6.8" stroke="#58089c" stroke-width="1.0" class="t"/><text transform="translate(515.1 529.4) rotate(-45)" font-size="9.5" class="r">10</text>
<path transform="translate(534.7 529.4) rotate(-45)" d="M0 -5.5L0.7 -5.9L1.7 -6.8L1.7 0M6 -5.2L6 -5.5L6.4 -6.2L6.7 -6.5L7.4 -6.8L8.7 -6.8L9.4 -6.5L9.7 -6.2L10.1 -5.5L10.1 -4.9L9.7 -4.2L9 -3.2L5.7 0L10.4 0" stroke="#58089c" stroke-width="1.0" class="t"/><text transform="translate(534.7 529.4) rotate(-45)" font-size="9.5" class="r">12</text>
<path transform="translate(557.8 529.4) rotate(-45)" d="M0 -5.5L0.7 -5.9L1.7 -6.8L1.7 0M9.7 -6.8L6.4 -6.8L6 -3.9L6.4 -4.2L7.4 -4.5L8.4 -4.5L9.4 -4.2L10.1 -3.6L10.4 -2.6L10.4 -2L10.1 -1L9.4 -0.3L8.4 0L7.4 0L6.4 -0.3L6 -0.7L5.7 -1.3" stroke="#58089c" stroke-width="1.0" class="t"/><text transform="translate(557.8 529.4) rotate(-45)" font-size="9.5" class="r">15</text>
<path transform="translate(588.1 529.7) rotate(-45)" d="M0.3 -5.2L0.3 -5.5L0.7 -6.2L1 -6.5L1.7 -6.8L3 -6.8L3.7 -6.5L4 -6.2L4.4 -5.5L4.4 -4.9L4 -4.2L3.4 -3.2L0 0L4.7 0M8.7 -6.8L7.7 -6.5L7 -5.5L6.7 -3.9L6.7 -2.9L7 -1.3L7.7 -0.3L8.7 0L9.4 0L10.4 -0.3L11.1 -1.3L11.4 -2.9L11.4 -3.9L11.1 -5.5L10.4 -6.5L9.4 -6.8L8.7 -6.8" stroke="#58089c" stroke-width="1.0" class="t"/><text transform="translate(588.1 529.7) rotate(-45)" font-size="9.5" class="r">20</text>
<path transform="translate(612.9 529.7) rotate(-45)" d="M0.3 -5.2L0.3 -5.5L0.7 -6.2L1 -6.5L1.7 -6.8L3 -6.8L3.7 -6.5L4 -6.2L4.4 -5.5L4.4 -4.9L4 -4.2L3.4 -3.2L0 0L4.7 0M10.7 -6.8L7.4 -6.8L7 -3.9L7.4 -4.2L8.4 -4.5L9.4 -4.5L10.4 -4.2L11.1 -3.6L11.4 -2.6L11.4 -2L11.1 -1L10.4 -0.3L9.4 0L8.4 0L7.4 -0.3L7 -0.7L6.7 -1.3" stroke="#58089c" stroke-width="1.0" class="t"/><text transform="translate(612.9 529.7) rotate(-45)" font-size="9.5" class="r">25</text>
<path transform="translate(632.9 529.7) rotate(-45)" d="M0.7 -6.8L4.4 -6.8L2.3 -4.2L3.4 -4.2L4 -3.9L4.4 -3.6L4.7 -2.6L4.7 -2L4.4 -1L3.7 -0.3L2.7 0L1.7 0L0.7 -0.3L0.3 -0.7L0 -1.3M8.7 -6.8L7.7 -6.5L7 -5.5L6.7 -3.9L6.7 -2.9L7 -1.3L7.7 -0.3L8.7 0L9.4 0L10.4 -0.3L11.1 -1.3L11.4 -2.9L11.4 -3.9L11.1 -5.5L10.4 -6.5L9.4 -6.8L8.7 -6.8" stroke="#58089c" stroke-width="1.0" class="t"/><text transform="translate(632.9 529.7) rotate(-45)" font-size="9.5" class="r">30</text>
<path transform="translate(666.9 529.7) rotate(-45)" d="M3.4 -6.8L0 -2.3L5 -2.3M3.4 -6.8L3.4 0M8.7 -6.8L7.7 -6.5L7 -5.5L6.7 -3.9L6.7 -2.9L7 -1.3L7.7 -0.3L8.7 0L9.4 0L10.4 -0.3L11.1 -1.3L11.4 -2.9L11.4 -3.9L11.1 -5.5L10.4 -6.5L9.4 -6.8L8.7 -6.8" stroke="#58089c" stroke-width="1.0" class="t"/><text transform="translate(666.9 529.7) rotate(-45)" font-size="9.5" class="r">40</text>
<path transform="translate(663.6 527.2)" d="M0 -5.5L1.5 0M3 -5.5L1.5 0M3 -5.5L4.5 0M6 -5.5L4.5 0M11.2 -9.8L10.5 -9L9.8 -7.8L9 -6.2L8.6 -4.3L8.6 -2.7L9 -0.8L9.8 0.8L10.5 2L11.2 2.7M18 -5.5L18 0.8L17.6 2L17.2 2.3L16.5 2.7L15.4 2.7L14.6 2.3M18 -4.3L17.2 -5.1L16.5 -5.5L15.4 -5.5L14.6 -5.1L13.9 -4.3L13.5 -3.1L13.5 -2.3L13.9 -1.2L14.6 -0.4L15.4 0L16.5 0L17.2 -0.4L18 -1.2M27 -9.8L20.2 2.7M29.2 -8.2L29.2 0M33 -5.5L29.2 -1.6M30.8 -3.1L33.4 0M39.8 -5.5L39.8 0.8L39.4 2L39 2.3L38.2 2.7L37.1 2.7L36.4 2.3M39.8 -4.3L39 -5.1L38.2 -5.5L37.1 -5.5L36.4 -5.1L35.6 -4.3L35.2 -3.1L35.2 -2.3L35.6 -1.2L36.4 -0.4L37.1 0L38.2 0L39 -0.4L39.8 -1.2M42.4 -9.8L43.1 -9L43.9 -7.8L44.6 -6.2L45 -4.3L45 -2.7L44.6 -0.8L43.9 0.8L43.1 2L42.4 2.7" stroke="#58089c" stroke-width="1.0" class="t"/><text transform="translate(663.6 527.2)" font-size="11.4" class="r">w(g/kg)</text>
</g>
</svg>
</body></html>
